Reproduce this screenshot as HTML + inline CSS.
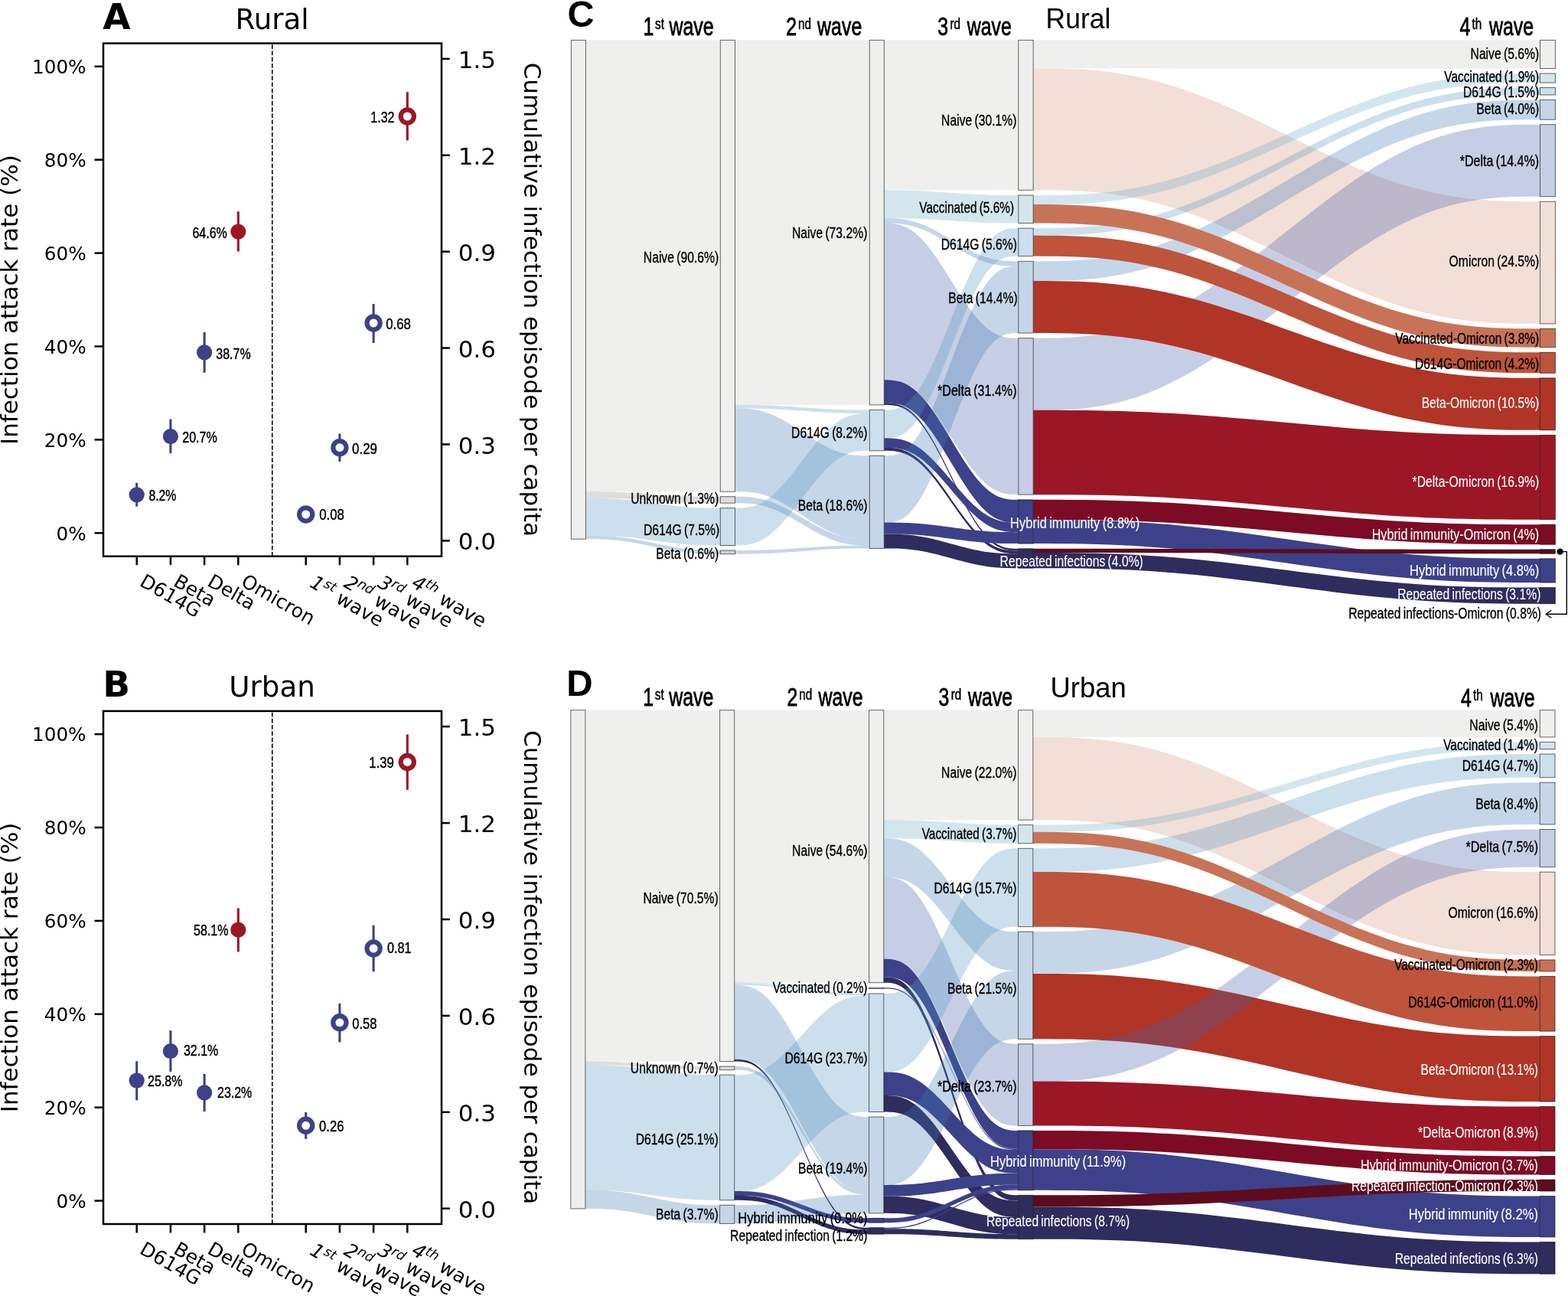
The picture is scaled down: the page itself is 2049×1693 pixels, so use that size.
<!DOCTYPE html>
<html lang="en"><head><meta charset="utf-8"><title>Infection attack rates and immunity flows</title>
<style>
html,body{margin:0;padding:0;background:#fff;}
body{width:2049px;height:1693px;overflow:hidden;}
svg{display:block;font-family:"Liberation Sans", sans-serif;}
.dj{font-family:"DejaVu Sans", "Liberation Sans", sans-serif;}
</style></head><body>
<svg width="2049" height="1693" viewBox="0 0 2049 1693">
<rect width="2049" height="1693" fill="#fff"/>
<g class="dj">
<line x1="355.75" y1="726.7" x2="355.75" y2="56.6" stroke="#000" stroke-width="1.55" stroke-dasharray="5.75,2.43"/>
<line x1="178.7" y1="630.8" x2="178.7" y2="661.7" stroke="#3d4189" stroke-width="3.1"/>
<circle cx="178.7" cy="646.3" r="10.1" fill="#3d4189"/>
<line x1="222.9" y1="547.5" x2="222.9" y2="592.2" stroke="#3d4189" stroke-width="3.1"/>
<circle cx="222.9" cy="570.1" r="10.1" fill="#3d4189"/>
<line x1="267.1" y1="434.0" x2="267.1" y2="486.8" stroke="#3d4189" stroke-width="3.1"/>
<circle cx="267.1" cy="460.4" r="10.1" fill="#3d4189"/>
<line x1="311.3" y1="276.2" x2="311.3" y2="328.5" stroke="#9c1726" stroke-width="3.1"/>
<circle cx="311.3" cy="302.6" r="10.1" fill="#9c1726"/>
<line x1="399.7" y1="668.0" x2="399.7" y2="676.0" stroke="#3d4189" stroke-width="3.1"/>
<circle cx="399.7" cy="672.0" r="8.6" fill="#fff" stroke="#3d4189" stroke-width="6.2"/>
<line x1="443.9" y1="566.5" x2="443.9" y2="603.0" stroke="#3d4189" stroke-width="3.1"/>
<circle cx="443.9" cy="584.7" r="8.6" fill="#fff" stroke="#3d4189" stroke-width="6.2"/>
<line x1="488.1" y1="397.0" x2="488.1" y2="448.1" stroke="#3d4189" stroke-width="3.1"/>
<circle cx="488.1" cy="422.0" r="8.6" fill="#fff" stroke="#3d4189" stroke-width="6.2"/>
<line x1="532.3" y1="120.3" x2="532.3" y2="183.5" stroke="#9c1726" stroke-width="3.1"/>
<circle cx="532.3" cy="152.0" r="8.6" fill="#fff" stroke="#9c1726" stroke-width="6.2"/>
<rect x="135.0" y="56.6" width="442.0" height="670.1" fill="none" stroke="#000" stroke-width="2.5"/>
<g stroke="#000" stroke-width="2.5">
<line x1="123.5" y1="696.3" x2="135.0" y2="696.3"/>
<line x1="123.5" y1="574.4" x2="135.0" y2="574.4"/>
<line x1="123.5" y1="452.5" x2="135.0" y2="452.5"/>
<line x1="123.5" y1="330.6" x2="135.0" y2="330.6"/>
<line x1="123.5" y1="208.7" x2="135.0" y2="208.7"/>
<line x1="123.5" y1="86.8" x2="135.0" y2="86.8"/>
<line x1="577.0" y1="706.4" x2="587.8" y2="706.4"/>
<line x1="577.0" y1="580.5" x2="587.8" y2="580.5"/>
<line x1="577.0" y1="454.6" x2="587.8" y2="454.6"/>
<line x1="577.0" y1="328.7" x2="587.8" y2="328.7"/>
<line x1="577.0" y1="202.8" x2="587.8" y2="202.8"/>
<line x1="577.0" y1="76.9" x2="587.8" y2="76.9"/>
<line x1="178.7" y1="726.7" x2="178.7" y2="738.2"/>
<line x1="222.9" y1="726.7" x2="222.9" y2="738.2"/>
<line x1="267.1" y1="726.7" x2="267.1" y2="738.2"/>
<line x1="311.3" y1="726.7" x2="311.3" y2="738.2"/>
<line x1="399.7" y1="726.7" x2="399.7" y2="738.2"/>
<line x1="443.9" y1="726.7" x2="443.9" y2="738.2"/>
<line x1="488.1" y1="726.7" x2="488.1" y2="738.2"/>
<line x1="532.3" y1="726.7" x2="532.3" y2="738.2"/>
</g>
<text x="112.6" y="705.5" font-size="24.7" text-anchor="end">0%</text>
<text x="112.6" y="583.6" font-size="24.7" text-anchor="end">20%</text>
<text x="112.6" y="461.7" font-size="24.7" text-anchor="end">40%</text>
<text x="112.6" y="339.8" font-size="24.7" text-anchor="end">60%</text>
<text x="112.6" y="217.9" font-size="24.7" text-anchor="end">80%</text>
<text x="112.6" y="96.0" font-size="24.7" text-anchor="end">100%</text>
<text x="598.7" y="718.4" font-size="31">0.0</text>
<text x="598.7" y="592.5" font-size="31">0.3</text>
<text x="598.7" y="466.6" font-size="31">0.6</text>
<text x="598.7" y="340.7" font-size="31">0.9</text>
<text x="598.7" y="214.8" font-size="31">1.2</text>
<text x="598.7" y="88.9" font-size="31">1.5</text>
<text transform="translate(181.0,764.2) rotate(30)" font-size="25.1">D614G</text>
<text transform="translate(225.2,764.2) rotate(30)" font-size="25.1">Beta</text>
<text transform="translate(269.4,764.2) rotate(30)" font-size="25.1">Delta</text>
<text transform="translate(313.6,764.2) rotate(30)" font-size="25.1">Omicron</text>
<text transform="translate(403.6,765.7) rotate(30)" font-size="25.1"><tspan font-style="oblique">1</tspan><tspan font-style="oblique" font-size="17.4" dy="-8.8">st</tspan><tspan dy="9.8"> wave</tspan></text>
<text transform="translate(447.8,765.7) rotate(30)" font-size="25.1"><tspan font-style="oblique">2</tspan><tspan font-style="oblique" font-size="17.4" dy="-8.8">nd</tspan><tspan dy="9.8"> wave</tspan></text>
<text transform="translate(492.0,765.7) rotate(30)" font-size="25.1"><tspan font-style="oblique">3</tspan><tspan font-style="oblique" font-size="17.4" dy="-8.8">rd</tspan><tspan dy="9.8"> wave</tspan></text>
<text transform="translate(536.2,765.7) rotate(30)" font-size="25.1"><tspan font-style="oblique">4</tspan><tspan font-style="oblique" font-size="17.4" dy="-8.8">th</tspan><tspan dy="9.8"> wave</tspan></text>
<text transform="translate(22.5,391.6) rotate(-90)" font-size="31" text-anchor="middle">Infection attack rate (%)</text>
<text transform="translate(685.3,391.3) rotate(90)" font-size="31" text-anchor="middle">Cumulative infection episode per capita</text>
<text x="355.6" y="37.6" font-size="37.2" text-anchor="middle">Rural</text>
<text x="134.3" y="37.6" font-size="47" font-weight="bold">A</text>
</g>
<g class="dj">
<line x1="355.75" y1="1599.0" x2="355.75" y2="928.9" stroke="#000" stroke-width="1.55" stroke-dasharray="5.75,2.43"/>
<line x1="178.7" y1="1386.3" x2="178.7" y2="1437.3" stroke="#3d4189" stroke-width="3.1"/>
<circle cx="178.7" cy="1411.5" r="10.1" fill="#3d4189"/>
<line x1="222.9" y1="1346.2" x2="222.9" y2="1400.0" stroke="#3d4189" stroke-width="3.1"/>
<circle cx="222.9" cy="1373.2" r="10.1" fill="#3d4189"/>
<line x1="267.1" y1="1402.8" x2="267.1" y2="1452.0" stroke="#3d4189" stroke-width="3.1"/>
<circle cx="267.1" cy="1427.4" r="10.1" fill="#3d4189"/>
<line x1="311.3" y1="1186.4" x2="311.3" y2="1243.3" stroke="#9c1726" stroke-width="3.1"/>
<circle cx="311.3" cy="1214.7" r="10.1" fill="#9c1726"/>
<line x1="399.7" y1="1453.0" x2="399.7" y2="1487.8" stroke="#3d4189" stroke-width="3.1"/>
<circle cx="399.7" cy="1470.3" r="8.6" fill="#fff" stroke="#3d4189" stroke-width="6.2"/>
<line x1="443.9" y1="1310.8" x2="443.9" y2="1361.4" stroke="#3d4189" stroke-width="3.1"/>
<circle cx="443.9" cy="1335.8" r="8.6" fill="#fff" stroke="#3d4189" stroke-width="6.2"/>
<line x1="488.1" y1="1208.6" x2="488.1" y2="1269.3" stroke="#3d4189" stroke-width="3.1"/>
<circle cx="488.1" cy="1239.0" r="8.6" fill="#fff" stroke="#3d4189" stroke-width="6.2"/>
<line x1="532.3" y1="959.4" x2="532.3" y2="1031.8" stroke="#9c1726" stroke-width="3.1"/>
<circle cx="532.3" cy="995.4" r="8.6" fill="#fff" stroke="#9c1726" stroke-width="6.2"/>
<rect x="135.0" y="928.9" width="442.0" height="670.1" fill="none" stroke="#000" stroke-width="2.5"/>
<g stroke="#000" stroke-width="2.5">
<line x1="123.5" y1="1568.6" x2="135.0" y2="1568.6"/>
<line x1="123.5" y1="1446.7" x2="135.0" y2="1446.7"/>
<line x1="123.5" y1="1324.8" x2="135.0" y2="1324.8"/>
<line x1="123.5" y1="1202.9" x2="135.0" y2="1202.9"/>
<line x1="123.5" y1="1081.0" x2="135.0" y2="1081.0"/>
<line x1="123.5" y1="959.1" x2="135.0" y2="959.1"/>
<line x1="577.0" y1="1578.7" x2="587.8" y2="1578.7"/>
<line x1="577.0" y1="1452.8" x2="587.8" y2="1452.8"/>
<line x1="577.0" y1="1326.9" x2="587.8" y2="1326.9"/>
<line x1="577.0" y1="1201.0" x2="587.8" y2="1201.0"/>
<line x1="577.0" y1="1075.1" x2="587.8" y2="1075.1"/>
<line x1="577.0" y1="949.1" x2="587.8" y2="949.1"/>
<line x1="178.7" y1="1599.0" x2="178.7" y2="1610.5"/>
<line x1="222.9" y1="1599.0" x2="222.9" y2="1610.5"/>
<line x1="267.1" y1="1599.0" x2="267.1" y2="1610.5"/>
<line x1="311.3" y1="1599.0" x2="311.3" y2="1610.5"/>
<line x1="399.7" y1="1599.0" x2="399.7" y2="1610.5"/>
<line x1="443.9" y1="1599.0" x2="443.9" y2="1610.5"/>
<line x1="488.1" y1="1599.0" x2="488.1" y2="1610.5"/>
<line x1="532.3" y1="1599.0" x2="532.3" y2="1610.5"/>
</g>
<text x="112.6" y="1577.8" font-size="24.7" text-anchor="end">0%</text>
<text x="112.6" y="1455.9" font-size="24.7" text-anchor="end">20%</text>
<text x="112.6" y="1334.0" font-size="24.7" text-anchor="end">40%</text>
<text x="112.6" y="1212.1" font-size="24.7" text-anchor="end">60%</text>
<text x="112.6" y="1090.2" font-size="24.7" text-anchor="end">80%</text>
<text x="112.6" y="968.3" font-size="24.7" text-anchor="end">100%</text>
<text x="598.7" y="1590.7" font-size="31">0.0</text>
<text x="598.7" y="1464.8" font-size="31">0.3</text>
<text x="598.7" y="1338.9" font-size="31">0.6</text>
<text x="598.7" y="1213.0" font-size="31">0.9</text>
<text x="598.7" y="1087.1" font-size="31">1.2</text>
<text x="598.7" y="961.1" font-size="31">1.5</text>
<text transform="translate(181.0,1636.5) rotate(30)" font-size="25.1">D614G</text>
<text transform="translate(225.2,1636.5) rotate(30)" font-size="25.1">Beta</text>
<text transform="translate(269.4,1636.5) rotate(30)" font-size="25.1">Delta</text>
<text transform="translate(313.6,1636.5) rotate(30)" font-size="25.1">Omicron</text>
<text transform="translate(403.6,1638.0) rotate(30)" font-size="25.1"><tspan font-style="oblique">1</tspan><tspan font-style="oblique" font-size="17.4" dy="-8.8">st</tspan><tspan dy="9.8"> wave</tspan></text>
<text transform="translate(447.8,1638.0) rotate(30)" font-size="25.1"><tspan font-style="oblique">2</tspan><tspan font-style="oblique" font-size="17.4" dy="-8.8">nd</tspan><tspan dy="9.8"> wave</tspan></text>
<text transform="translate(492.0,1638.0) rotate(30)" font-size="25.1"><tspan font-style="oblique">3</tspan><tspan font-style="oblique" font-size="17.4" dy="-8.8">rd</tspan><tspan dy="9.8"> wave</tspan></text>
<text transform="translate(536.2,1638.0) rotate(30)" font-size="25.1"><tspan font-style="oblique">4</tspan><tspan font-style="oblique" font-size="17.4" dy="-8.8">th</tspan><tspan dy="9.8"> wave</tspan></text>
<text transform="translate(22.5,1263.9) rotate(-90)" font-size="31" text-anchor="middle">Infection attack rate (%)</text>
<text transform="translate(685.3,1263.6) rotate(90)" font-size="31" text-anchor="middle">Cumulative infection episode per capita</text>
<text x="355.6" y="909.9" font-size="37.2" text-anchor="middle">Urban</text>
<text x="134.3" y="909.9" font-size="47" font-weight="bold">B</text>
</g>
<text transform="translate(194.40,654.30) scale(0.790,1)" font-size="20.00" text-anchor="start" stroke="#000" stroke-width="0.45">8.2%</text>
<text transform="translate(238.20,577.90) scale(0.804,1)" font-size="20.00" text-anchor="start" stroke="#000" stroke-width="0.45">20.7%</text>
<text transform="translate(282.30,468.90) scale(0.799,1)" font-size="20.00" text-anchor="start" stroke="#000" stroke-width="0.45">38.7%</text>
<text transform="translate(296.80,310.70) scale(0.801,1)" font-size="20.00" text-anchor="end" stroke="#000" stroke-width="0.45">64.6%</text>
<text transform="translate(417.20,679.30) scale(0.840,1)" font-size="20.00" text-anchor="start" stroke="#000" stroke-width="0.45">0.08</text>
<text transform="translate(460.10,592.90) scale(0.845,1)" font-size="20.00" text-anchor="start" stroke="#000" stroke-width="0.45">0.29</text>
<text transform="translate(504.20,429.80) scale(0.843,1)" font-size="20.00" text-anchor="start" stroke="#000" stroke-width="0.45">0.68</text>
<text transform="translate(515.50,160.10) scale(0.804,1)" font-size="20.00" text-anchor="end" stroke="#000" stroke-width="0.45">1.32</text>
<text transform="translate(193.10,1419.30) scale(0.802,1)" font-size="20.00" text-anchor="start" stroke="#000" stroke-width="0.45">25.8%</text>
<text transform="translate(239.90,1378.70) scale(0.802,1)" font-size="20.00" text-anchor="start" stroke="#000" stroke-width="0.45">32.1%</text>
<text transform="translate(284.10,1433.60) scale(0.797,1)" font-size="20.00" text-anchor="start" stroke="#000" stroke-width="0.45">23.2%</text>
<text transform="translate(298.50,1221.50) scale(0.801,1)" font-size="20.00" text-anchor="end" stroke="#000" stroke-width="0.45">58.1%</text>
<text transform="translate(417.10,1478.40) scale(0.830,1)" font-size="20.00" text-anchor="start" stroke="#000" stroke-width="0.45">0.26</text>
<text transform="translate(460.20,1344.30) scale(0.830,1)" font-size="20.00" text-anchor="start" stroke="#000" stroke-width="0.45">0.58</text>
<text transform="translate(505.90,1245.10) scale(0.812,1)" font-size="20.00" text-anchor="start" stroke="#000" stroke-width="0.45">0.81</text>
<text transform="translate(514.90,1002.80) scale(0.838,1)" font-size="20.00" text-anchor="end" stroke="#000" stroke-width="0.45">1.39</text>
<g>
<path d="M765.40,52.40 L769.80,52.40 L774.19,52.40 L778.59,52.40 L782.99,52.40 L787.39,52.40 L791.78,52.40 L796.18,52.40 L800.58,52.40 L804.98,52.40 L809.38,52.40 L813.77,52.40 L818.17,52.40 L822.57,52.40 L826.96,52.40 L831.36,52.40 L835.76,52.40 L840.16,52.40 L844.55,52.40 L848.95,52.40 L853.35,52.40 L857.75,52.40 L862.14,52.40 L866.54,52.40 L870.94,52.40 L875.34,52.40 L879.74,52.40 L884.13,52.40 L888.53,52.40 L892.93,52.40 L897.32,52.40 L901.72,52.40 L906.12,52.40 L910.52,52.40 L914.91,52.40 L919.31,52.40 L923.71,52.40 L928.11,52.40 L932.50,52.40 L936.90,52.40 L941.30,52.40 L941.30,642.21 L936.90,642.21 L932.50,642.21 L928.11,642.21 L923.71,642.21 L919.31,642.21 L914.91,642.21 L910.52,642.21 L906.12,642.21 L901.72,642.21 L897.32,642.21 L892.93,642.21 L888.53,642.21 L884.13,642.21 L879.74,642.21 L875.34,642.21 L870.94,642.21 L866.54,642.21 L862.14,642.21 L857.75,642.21 L853.35,642.21 L848.95,642.21 L844.55,642.21 L840.16,642.21 L835.76,642.21 L831.36,642.21 L826.96,642.21 L822.57,642.21 L818.17,642.21 L813.77,642.21 L809.38,642.21 L804.98,642.21 L800.58,642.21 L796.18,642.21 L791.78,642.21 L787.39,642.21 L782.99,642.21 L778.59,642.21 L774.19,642.21 L769.80,642.21 L765.40,642.21 Z" fill="#cacac3" fill-opacity="0.30"/>
<path d="M765.40,642.21 L769.80,642.21 L774.19,642.21 L778.59,642.23 L782.99,642.26 L787.39,642.31 L791.78,642.38 L796.18,642.47 L800.58,642.58 L804.98,642.72 L809.38,642.88 L813.77,643.06 L818.17,643.27 L822.57,643.49 L826.96,643.73 L831.36,643.99 L835.76,644.27 L840.16,644.56 L844.55,644.85 L848.95,645.15 L853.35,645.46 L857.75,645.76 L862.14,646.06 L866.54,646.36 L870.94,646.64 L875.34,646.92 L879.74,647.18 L884.13,647.42 L888.53,647.65 L892.93,647.85 L897.32,648.03 L901.72,648.19 L906.12,648.33 L910.52,648.44 L914.91,648.53 L919.31,648.60 L923.71,648.65 L928.11,648.68 L932.50,648.70 L936.90,648.71 L941.30,648.71 L941.30,657.17 L936.90,657.17 L932.50,657.16 L928.11,657.14 L923.71,657.11 L919.31,657.06 L914.91,657.00 L910.52,656.91 L906.12,656.79 L901.72,656.66 L897.32,656.50 L892.93,656.31 L888.53,656.11 L884.13,655.88 L879.74,655.64 L875.34,655.38 L870.94,655.11 L866.54,654.82 L862.14,654.52 L857.75,654.22 L853.35,653.92 L848.95,653.61 L844.55,653.31 L840.16,653.02 L835.76,652.73 L831.36,652.46 L826.96,652.20 L822.57,651.95 L818.17,651.73 L813.77,651.52 L809.38,651.34 L804.98,651.18 L800.58,651.05 L796.18,650.93 L791.78,650.84 L787.39,650.77 L782.99,650.72 L778.59,650.69 L774.19,650.68 L769.80,650.67 L765.40,650.67 Z" fill="#8e8e8e" fill-opacity="0.30"/>
<path d="M765.40,650.67 L769.80,650.67 L774.19,650.68 L778.59,650.72 L782.99,650.78 L787.39,650.88 L791.78,651.01 L796.18,651.20 L800.58,651.42 L804.98,651.69 L809.38,652.01 L813.77,652.38 L818.17,652.79 L822.57,653.24 L826.96,653.73 L831.36,654.25 L835.76,654.80 L840.16,655.37 L844.55,655.96 L848.95,656.56 L853.35,657.17 L857.75,657.78 L862.14,658.38 L866.54,658.97 L870.94,659.54 L875.34,660.09 L879.74,660.61 L884.13,661.10 L888.53,661.55 L892.93,661.96 L897.32,662.32 L901.72,662.64 L906.12,662.92 L910.52,663.14 L914.91,663.32 L919.31,663.46 L923.71,663.56 L928.11,663.62 L932.50,663.65 L936.90,663.67 L941.30,663.67 L941.30,712.49 L936.90,712.49 L932.50,712.48 L928.11,712.45 L923.71,712.38 L919.31,712.29 L914.91,712.15 L910.52,711.97 L906.12,711.74 L901.72,711.47 L897.32,711.15 L892.93,710.78 L888.53,710.37 L884.13,709.92 L879.74,709.44 L875.34,708.92 L870.94,708.37 L866.54,707.79 L862.14,707.20 L857.75,706.60 L853.35,705.99 L848.95,705.39 L844.55,704.78 L840.16,704.19 L835.76,703.62 L831.36,703.07 L826.96,702.55 L822.57,702.06 L818.17,701.61 L813.77,701.21 L809.38,700.84 L804.98,700.52 L800.58,700.25 L796.18,700.02 L791.78,699.84 L787.39,699.70 L782.99,699.61 L778.59,699.54 L774.19,699.51 L769.80,699.50 L765.40,699.49 Z" fill="#5594c0" fill-opacity="0.30"/>
<path d="M765.40,699.49 L769.80,699.50 L774.19,699.52 L778.59,699.57 L782.99,699.66 L787.39,699.81 L791.78,700.01 L796.18,700.28 L800.58,700.62 L804.98,701.03 L809.38,701.51 L813.77,702.06 L818.17,702.67 L822.57,703.35 L826.96,704.08 L831.36,704.86 L835.76,705.68 L840.16,706.54 L844.55,707.43 L848.95,708.33 L853.35,709.24 L857.75,710.16 L862.14,711.06 L866.54,711.95 L870.94,712.80 L875.34,713.63 L879.74,714.41 L884.13,715.14 L888.53,715.81 L892.93,716.43 L897.32,716.98 L901.72,717.46 L906.12,717.86 L910.52,718.20 L914.91,718.48 L919.31,718.68 L923.71,718.83 L928.11,718.92 L932.50,718.97 L936.90,718.99 L941.30,718.99 L941.30,723.68 L936.90,723.68 L932.50,723.66 L928.11,723.61 L923.71,723.51 L919.31,723.37 L914.91,723.16 L910.52,722.89 L906.12,722.55 L901.72,722.14 L897.32,721.66 L892.93,721.11 L888.53,720.50 L884.13,719.83 L879.74,719.10 L875.34,718.31 L870.94,717.49 L866.54,716.63 L862.14,715.75 L857.75,714.84 L853.35,713.93 L848.95,713.02 L844.55,712.12 L840.16,711.23 L835.76,710.37 L831.36,709.55 L826.96,708.77 L822.57,708.04 L818.17,707.36 L813.77,706.75 L809.38,706.20 L804.98,705.72 L800.58,705.31 L796.18,704.97 L791.78,704.70 L787.39,704.49 L782.99,704.35 L778.59,704.25 L774.19,704.20 L769.80,704.18 L765.40,704.18 Z" fill="#3e76b2" fill-opacity="0.30"/>
<path d="M960.50,52.40 L964.89,52.40 L969.29,52.40 L973.68,52.40 L978.08,52.40 L982.48,52.40 L986.87,52.40 L991.26,52.40 L995.66,52.40 L1000.05,52.40 L1004.45,52.40 L1008.85,52.40 L1013.24,52.40 L1017.63,52.40 L1022.03,52.40 L1026.42,52.40 L1030.82,52.40 L1035.21,52.40 L1039.61,52.40 L1044.00,52.40 L1048.40,52.40 L1052.80,52.40 L1057.19,52.40 L1061.59,52.40 L1065.98,52.40 L1070.38,52.40 L1074.77,52.40 L1079.16,52.40 L1083.56,52.40 L1087.95,52.40 L1092.35,52.40 L1096.74,52.40 L1101.14,52.40 L1105.53,52.40 L1109.93,52.40 L1114.33,52.40 L1118.72,52.40 L1123.12,52.40 L1127.51,52.40 L1131.90,52.40 L1136.30,52.40 L1136.30,528.93 L1131.90,528.93 L1127.51,528.93 L1123.12,528.93 L1118.72,528.93 L1114.33,528.93 L1109.93,528.93 L1105.53,528.93 L1101.14,528.93 L1096.74,528.93 L1092.35,528.93 L1087.95,528.93 L1083.56,528.93 L1079.16,528.93 L1074.77,528.93 L1070.38,528.93 L1065.98,528.93 L1061.59,528.93 L1057.19,528.93 L1052.80,528.93 L1048.40,528.93 L1044.00,528.93 L1039.61,528.93 L1035.21,528.93 L1030.82,528.93 L1026.42,528.93 L1022.03,528.93 L1017.63,528.93 L1013.24,528.93 L1008.85,528.93 L1004.45,528.93 L1000.05,528.93 L995.66,528.93 L991.26,528.93 L986.87,528.93 L982.48,528.93 L978.08,528.93 L973.68,528.93 L969.29,528.93 L964.89,528.93 L960.50,528.93 Z" fill="#cacac3" fill-opacity="0.30"/>
<path d="M960.50,528.93 L964.89,528.93 L969.29,528.94 L973.68,528.96 L978.08,528.99 L982.48,529.04 L986.87,529.10 L991.26,529.20 L995.66,529.31 L1000.05,529.44 L1004.45,529.60 L1008.85,529.79 L1013.24,529.99 L1017.63,530.22 L1022.03,530.46 L1026.42,530.72 L1030.82,531.00 L1035.21,531.28 L1039.61,531.58 L1044.00,531.88 L1048.40,532.18 L1052.80,532.49 L1057.19,532.79 L1061.59,533.08 L1065.98,533.37 L1070.38,533.64 L1074.77,533.90 L1079.16,534.15 L1083.56,534.37 L1087.95,534.58 L1092.35,534.76 L1096.74,534.92 L1101.14,535.06 L1105.53,535.17 L1109.93,535.26 L1114.33,535.33 L1118.72,535.38 L1123.12,535.41 L1127.51,535.42 L1131.90,535.43 L1136.30,535.43 L1136.30,539.99 L1131.90,539.99 L1127.51,539.98 L1123.12,539.96 L1118.72,539.93 L1114.33,539.88 L1109.93,539.82 L1105.53,539.73 L1101.14,539.61 L1096.74,539.48 L1092.35,539.32 L1087.95,539.13 L1083.56,538.93 L1079.16,538.70 L1074.77,538.46 L1070.38,538.20 L1065.98,537.93 L1061.59,537.64 L1057.19,537.34 L1052.80,537.04 L1048.40,536.74 L1044.00,536.43 L1039.61,536.13 L1035.21,535.84 L1030.82,535.55 L1026.42,535.28 L1022.03,535.02 L1017.63,534.77 L1013.24,534.55 L1008.85,534.34 L1004.45,534.16 L1000.05,534.00 L995.66,533.87 L991.26,533.75 L986.87,533.66 L982.48,533.59 L978.08,533.54 L973.68,533.51 L969.29,533.50 L964.89,533.49 L960.50,533.49 Z" fill="#5594c0" fill-opacity="0.30"/>
<path d="M960.50,533.49 L964.89,533.50 L969.29,533.56 L973.68,533.72 L978.08,534.02 L982.48,534.48 L986.87,535.13 L991.26,535.99 L995.66,537.07 L1000.05,538.37 L1004.45,539.89 L1008.85,541.63 L1013.24,543.57 L1017.63,545.71 L1022.03,548.03 L1026.42,550.50 L1030.82,553.11 L1035.21,555.84 L1039.61,558.64 L1044.00,561.51 L1048.40,564.40 L1052.80,567.29 L1057.19,570.16 L1061.59,572.97 L1065.98,575.69 L1070.38,578.30 L1074.77,580.77 L1079.16,583.09 L1083.56,585.23 L1087.95,587.18 L1092.35,588.91 L1096.74,590.43 L1101.14,591.73 L1105.53,592.81 L1109.93,593.67 L1114.33,594.32 L1118.72,594.78 L1123.12,595.08 L1127.51,595.24 L1131.90,595.30 L1136.30,595.31 L1136.30,704.03 L1131.90,704.02 L1127.51,703.96 L1123.12,703.80 L1118.72,703.50 L1114.33,703.04 L1109.93,702.39 L1105.53,701.53 L1101.14,700.45 L1096.74,699.15 L1092.35,697.63 L1087.95,695.89 L1083.56,693.95 L1079.16,691.81 L1074.77,689.49 L1070.38,687.02 L1065.98,684.41 L1061.59,681.68 L1057.19,678.88 L1052.80,676.01 L1048.40,673.12 L1044.00,670.23 L1039.61,667.36 L1035.21,664.55 L1030.82,661.83 L1026.42,659.22 L1022.03,656.75 L1017.63,654.43 L1013.24,652.29 L1008.85,650.34 L1004.45,648.61 L1000.05,647.09 L995.66,645.79 L991.26,644.71 L986.87,643.85 L982.48,643.20 L978.08,642.74 L973.68,642.44 L969.29,642.28 L964.89,642.22 L960.50,642.21 Z" fill="#3e76b2" fill-opacity="0.30"/>
<path d="M960.50,648.71 L964.89,648.71 L969.29,648.77 L973.68,648.91 L978.08,649.18 L982.48,649.59 L986.87,650.18 L991.26,650.95 L995.66,651.91 L1000.05,653.07 L1004.45,654.43 L1008.85,655.99 L1013.24,657.73 L1017.63,659.64 L1022.03,661.72 L1026.42,663.93 L1030.82,666.27 L1035.21,668.70 L1039.61,671.22 L1044.00,673.78 L1048.40,676.37 L1052.80,678.96 L1057.19,681.52 L1061.59,684.03 L1065.98,686.47 L1070.38,688.81 L1074.77,691.02 L1079.16,693.09 L1083.56,695.01 L1087.95,696.75 L1092.35,698.30 L1096.74,699.66 L1101.14,700.83 L1105.53,701.79 L1109.93,702.56 L1114.33,703.14 L1118.72,703.56 L1123.12,703.82 L1127.51,703.97 L1131.90,704.02 L1136.30,704.03 L1136.30,712.49 L1131.90,712.49 L1127.51,712.43 L1123.12,712.29 L1118.72,712.02 L1114.33,711.61 L1109.93,711.02 L1105.53,710.25 L1101.14,709.29 L1096.74,708.13 L1092.35,706.77 L1087.95,705.21 L1083.56,703.47 L1079.16,701.56 L1074.77,699.48 L1070.38,697.27 L1065.98,694.93 L1061.59,692.50 L1057.19,689.98 L1052.80,687.42 L1048.40,684.83 L1044.00,682.24 L1039.61,679.68 L1035.21,677.17 L1030.82,674.73 L1026.42,672.39 L1022.03,670.18 L1017.63,668.11 L1013.24,666.19 L1008.85,664.45 L1004.45,662.90 L1000.05,661.54 L995.66,660.37 L991.26,659.41 L986.87,658.64 L982.48,658.06 L978.08,657.64 L973.68,657.38 L969.29,657.23 L964.89,657.18 L960.50,657.17 Z" fill="#3e76b2" fill-opacity="0.30"/>
<path d="M960.50,663.67 L964.89,663.65 L969.29,663.53 L973.68,663.20 L978.08,662.61 L982.48,661.68 L986.87,660.38 L991.26,658.66 L995.66,656.51 L1000.05,653.91 L1004.45,650.87 L1008.85,647.39 L1013.24,643.50 L1017.63,639.22 L1022.03,634.58 L1026.42,629.63 L1030.82,624.41 L1035.21,618.96 L1039.61,613.35 L1044.00,607.62 L1048.40,601.83 L1052.80,596.04 L1057.19,590.31 L1061.59,584.70 L1065.98,579.25 L1070.38,574.03 L1074.77,569.07 L1079.16,564.44 L1083.56,560.16 L1087.95,556.27 L1092.35,552.79 L1096.74,549.75 L1101.14,547.15 L1105.53,545.00 L1109.93,543.28 L1114.33,541.97 L1118.72,541.05 L1123.12,540.45 L1127.51,540.13 L1131.90,540.01 L1136.30,539.99 L1136.30,588.81 L1131.90,588.83 L1127.51,588.96 L1123.12,589.28 L1118.72,589.87 L1114.33,590.80 L1109.93,592.11 L1105.53,593.82 L1101.14,595.98 L1096.74,598.58 L1092.35,601.62 L1087.95,605.09 L1083.56,608.98 L1079.16,613.26 L1074.77,617.90 L1070.38,622.85 L1065.98,628.07 L1061.59,633.52 L1057.19,639.14 L1052.80,644.87 L1048.40,650.65 L1044.00,656.44 L1039.61,662.17 L1035.21,667.79 L1030.82,673.23 L1026.42,678.46 L1022.03,683.41 L1017.63,688.04 L1013.24,692.32 L1008.85,696.22 L1004.45,699.69 L1000.05,702.73 L995.66,705.33 L991.26,707.48 L986.87,709.20 L982.48,710.51 L978.08,711.44 L973.68,712.03 L969.29,712.35 L964.89,712.48 L960.50,712.49 Z" fill="#5594c0" fill-opacity="0.30"/>
<path d="M960.50,718.99 L964.89,718.99 L969.29,718.99 L973.68,718.97 L978.08,718.94 L982.48,718.89 L986.87,718.82 L991.26,718.73 L995.66,718.62 L1000.05,718.48 L1004.45,718.32 L1008.85,718.14 L1013.24,717.93 L1017.63,717.71 L1022.03,717.47 L1026.42,717.21 L1030.82,716.93 L1035.21,716.64 L1039.61,716.35 L1044.00,716.05 L1048.40,715.74 L1052.80,715.44 L1057.19,715.14 L1061.59,714.84 L1065.98,714.56 L1070.38,714.28 L1074.77,714.02 L1079.16,713.78 L1083.56,713.55 L1087.95,713.35 L1092.35,713.17 L1096.74,713.01 L1101.14,712.87 L1105.53,712.76 L1109.93,712.67 L1114.33,712.60 L1118.72,712.55 L1123.12,712.52 L1127.51,712.50 L1131.90,712.49 L1136.30,712.49 L1136.30,716.40 L1131.90,716.40 L1127.51,716.41 L1123.12,716.43 L1118.72,716.46 L1114.33,716.52 L1109.93,716.59 L1105.53,716.69 L1101.14,716.82 L1096.74,716.97 L1092.35,717.15 L1087.95,717.36 L1083.56,717.59 L1079.16,717.84 L1074.77,718.11 L1070.38,718.40 L1065.98,718.71 L1061.59,719.03 L1057.19,719.36 L1052.80,719.70 L1048.40,720.04 L1044.00,720.38 L1039.61,720.72 L1035.21,721.05 L1030.82,721.37 L1026.42,721.68 L1022.03,721.97 L1017.63,722.24 L1013.24,722.49 L1008.85,722.72 L1004.45,722.93 L1000.05,723.11 L995.66,723.26 L991.26,723.39 L986.87,723.49 L982.48,723.56 L978.08,723.62 L973.68,723.65 L969.29,723.67 L964.89,723.68 L960.50,723.68 Z" fill="#3e76b2" fill-opacity="0.30"/>
<path d="M1155.30,526.32 L1159.69,526.35 L1164.08,526.55 L1168.46,527.04 L1172.85,527.95 L1177.24,529.38 L1181.62,531.39 L1186.01,534.04 L1190.40,537.36 L1194.79,541.36 L1199.17,546.04 L1203.56,551.39 L1207.95,557.39 L1212.34,563.98 L1216.72,571.12 L1221.11,578.74 L1225.50,586.79 L1229.89,595.17 L1234.27,603.82 L1238.66,612.64 L1243.05,621.56 L1247.44,630.47 L1251.83,639.29 L1256.21,647.94 L1260.60,656.33 L1264.99,664.37 L1269.38,672.00 L1273.76,679.14 L1278.15,685.73 L1282.54,691.72 L1286.92,697.07 L1291.31,701.76 L1295.70,705.76 L1300.09,709.07 L1304.47,711.72 L1308.86,713.73 L1313.25,715.16 L1317.64,716.07 L1322.02,716.57 L1326.41,716.76 L1330.80,716.79 L1330.80,719.39 L1326.41,719.36 L1322.02,719.17 L1317.64,718.68 L1313.25,717.76 L1308.86,716.34 L1304.47,714.32 L1300.09,711.68 L1295.70,708.36 L1291.31,704.36 L1286.92,699.68 L1282.54,694.32 L1278.15,688.33 L1273.76,681.74 L1269.38,674.60 L1264.99,666.98 L1260.60,658.93 L1256.21,650.55 L1251.83,641.90 L1247.44,633.08 L1243.05,624.16 L1238.66,615.25 L1234.27,606.43 L1229.89,597.78 L1225.50,589.39 L1221.11,581.35 L1216.72,573.72 L1212.34,566.58 L1207.95,559.99 L1203.56,554.00 L1199.17,548.65 L1194.79,543.96 L1190.40,539.96 L1186.01,536.65 L1181.62,534.00 L1177.24,531.99 L1172.85,530.56 L1168.46,529.65 L1164.08,529.15 L1159.69,528.96 L1155.30,528.93 Z" fill="#2f2c5e"/>
<path d="M1155.30,584.86 L1159.69,584.88 L1164.08,585.02 L1168.46,585.37 L1172.85,586.01 L1177.24,587.02 L1181.62,588.44 L1186.01,590.31 L1190.40,592.65 L1194.79,595.48 L1199.17,598.79 L1203.56,602.57 L1207.95,606.80 L1212.34,611.46 L1216.72,616.50 L1221.11,621.88 L1225.50,627.57 L1229.89,633.49 L1234.27,639.60 L1238.66,645.83 L1243.05,652.13 L1247.44,658.42 L1251.83,664.66 L1256.21,670.76 L1260.60,676.69 L1264.99,682.37 L1269.38,687.75 L1273.76,692.80 L1278.15,697.45 L1282.54,701.69 L1286.92,705.47 L1291.31,708.78 L1295.70,711.60 L1300.09,713.94 L1304.47,715.81 L1308.86,717.23 L1313.25,718.24 L1317.64,718.89 L1322.02,719.24 L1326.41,719.37 L1330.80,719.39 L1330.80,723.30 L1326.41,723.28 L1322.02,723.14 L1317.64,722.79 L1313.25,722.15 L1308.86,721.14 L1304.47,719.72 L1300.09,717.85 L1295.70,715.51 L1291.31,712.69 L1286.92,709.38 L1282.54,705.60 L1278.15,701.37 L1273.76,696.71 L1269.38,691.67 L1264.99,686.29 L1260.60,680.61 L1256.21,674.69 L1251.83,668.58 L1247.44,662.35 L1243.05,656.06 L1238.66,649.76 L1234.27,643.53 L1229.89,637.43 L1225.50,631.50 L1221.11,625.83 L1216.72,620.44 L1212.34,615.40 L1207.95,610.75 L1203.56,606.51 L1199.17,602.74 L1194.79,599.43 L1190.40,596.60 L1186.01,594.26 L1181.62,592.39 L1177.24,590.97 L1172.85,589.97 L1168.46,589.32 L1164.08,588.97 L1159.69,588.83 L1155.30,588.81 Z" fill="#2f2c5e"/>
<path d="M1155.30,697.52 L1159.69,697.52 L1164.08,697.55 L1168.46,697.62 L1172.85,697.74 L1177.24,697.93 L1181.62,698.21 L1186.01,698.57 L1190.40,699.01 L1194.79,699.56 L1199.17,700.19 L1203.56,700.91 L1207.95,701.72 L1212.34,702.62 L1216.72,703.58 L1221.11,704.62 L1225.50,705.70 L1229.89,706.84 L1234.27,708.01 L1238.66,709.20 L1243.05,710.41 L1247.44,711.62 L1251.83,712.81 L1256.21,713.98 L1260.60,715.12 L1264.99,716.20 L1269.38,717.24 L1273.76,718.20 L1278.15,719.10 L1282.54,719.91 L1286.92,720.63 L1291.31,721.26 L1295.70,721.81 L1300.09,722.25 L1304.47,722.61 L1308.86,722.89 L1313.25,723.08 L1317.64,723.20 L1322.02,723.27 L1326.41,723.30 L1330.80,723.30 L1330.80,742.18 L1326.41,742.17 L1322.02,742.15 L1317.64,742.08 L1313.25,741.96 L1308.86,741.76 L1304.47,741.49 L1300.09,741.13 L1295.70,740.68 L1291.31,740.14 L1286.92,739.51 L1282.54,738.79 L1278.15,737.97 L1273.76,737.08 L1269.38,736.12 L1264.99,735.08 L1260.60,734.00 L1256.21,732.86 L1251.83,731.69 L1247.44,730.50 L1243.05,729.29 L1238.66,728.08 L1234.27,726.89 L1229.89,725.72 L1225.50,724.58 L1221.11,723.49 L1216.72,722.46 L1212.34,721.50 L1207.95,720.60 L1203.56,719.79 L1199.17,719.07 L1194.79,718.43 L1190.40,717.89 L1186.01,717.44 L1181.62,717.09 L1177.24,716.81 L1172.85,716.62 L1168.46,716.50 L1164.08,716.43 L1159.69,716.40 L1155.30,716.40 Z" fill="#2f2c5e"/>
<path d="M1155.30,496.34 L1159.69,496.36 L1164.08,496.52 L1168.46,496.93 L1172.85,497.68 L1177.24,498.85 L1181.62,500.50 L1186.01,502.68 L1190.40,505.40 L1194.79,508.69 L1199.17,512.54 L1203.56,516.93 L1207.95,521.86 L1212.34,527.27 L1216.72,533.14 L1221.11,539.40 L1225.50,546.01 L1229.89,552.90 L1234.27,560.01 L1238.66,567.26 L1243.05,574.58 L1247.44,581.90 L1251.83,589.15 L1256.21,596.26 L1260.60,603.15 L1264.99,609.76 L1269.38,616.02 L1273.76,621.89 L1278.15,627.30 L1282.54,632.22 L1286.92,636.62 L1291.31,640.47 L1295.70,643.76 L1300.09,646.48 L1304.47,648.66 L1308.86,650.31 L1313.25,651.48 L1317.64,652.23 L1322.02,652.64 L1326.41,652.80 L1330.80,652.82 L1330.80,682.77 L1326.41,682.74 L1322.02,682.59 L1317.64,682.18 L1313.25,681.43 L1308.86,680.26 L1304.47,678.60 L1300.09,676.43 L1295.70,673.71 L1291.31,670.42 L1286.92,666.57 L1282.54,662.18 L1278.15,657.25 L1273.76,651.84 L1269.38,645.98 L1264.99,639.71 L1260.60,633.11 L1256.21,626.22 L1251.83,619.11 L1247.44,611.87 L1243.05,604.55 L1238.66,597.22 L1234.27,589.98 L1229.89,582.87 L1225.50,575.99 L1221.11,569.38 L1216.72,563.11 L1212.34,557.25 L1207.95,551.84 L1203.56,546.92 L1199.17,542.52 L1194.79,538.67 L1190.40,535.39 L1186.01,532.66 L1181.62,530.49 L1177.24,528.84 L1172.85,527.66 L1168.46,526.91 L1164.08,526.51 L1159.69,526.35 L1155.30,526.32 Z" fill="#3d4189"/>
<path d="M1155.30,572.34 L1159.69,572.35 L1164.08,572.47 L1168.46,572.75 L1172.85,573.28 L1177.24,574.11 L1181.62,575.28 L1186.01,576.81 L1190.40,578.73 L1194.79,581.05 L1199.17,583.77 L1203.56,586.87 L1207.95,590.35 L1212.34,594.17 L1216.72,598.31 L1221.11,602.73 L1225.50,607.39 L1229.89,612.25 L1234.27,617.27 L1238.66,622.38 L1243.05,627.55 L1247.44,632.72 L1251.83,637.84 L1256.21,642.85 L1260.60,647.71 L1264.99,652.38 L1269.38,656.80 L1273.76,660.94 L1278.15,664.76 L1282.54,668.23 L1286.92,671.34 L1291.31,674.05 L1295.70,676.37 L1300.09,678.29 L1304.47,679.83 L1308.86,680.99 L1313.25,681.82 L1317.64,682.35 L1322.02,682.64 L1326.41,682.75 L1330.80,682.77 L1330.80,695.14 L1326.41,695.12 L1322.02,695.01 L1317.64,694.72 L1313.25,694.19 L1308.86,693.37 L1304.47,692.20 L1300.09,690.67 L1295.70,688.75 L1291.31,686.43 L1286.92,683.72 L1282.54,680.62 L1278.15,677.15 L1273.76,673.34 L1269.38,669.20 L1264.99,664.79 L1260.60,660.13 L1256.21,655.27 L1251.83,650.27 L1247.44,645.16 L1243.05,640.00 L1238.66,634.84 L1234.27,629.73 L1229.89,624.72 L1225.50,619.87 L1221.11,615.21 L1216.72,610.79 L1212.34,606.66 L1207.95,602.84 L1203.56,599.37 L1199.17,596.28 L1194.79,593.56 L1190.40,591.25 L1186.01,589.33 L1181.62,587.79 L1177.24,586.63 L1172.85,585.80 L1168.46,585.27 L1164.08,584.99 L1159.69,584.88 L1155.30,584.86 Z" fill="#3d4189"/>
<path d="M1155.30,682.55 L1159.69,682.55 L1164.08,682.56 L1168.46,682.60 L1172.85,682.66 L1177.24,682.75 L1181.62,682.88 L1186.01,683.06 L1190.40,683.28 L1194.79,683.54 L1199.17,683.85 L1203.56,684.20 L1207.95,684.60 L1212.34,685.04 L1216.72,685.51 L1221.11,686.01 L1225.50,686.54 L1229.89,687.10 L1234.27,687.67 L1238.66,688.25 L1243.05,688.84 L1247.44,689.43 L1251.83,690.01 L1256.21,690.59 L1260.60,691.14 L1264.99,691.67 L1269.38,692.18 L1273.76,692.65 L1278.15,693.08 L1282.54,693.48 L1286.92,693.83 L1291.31,694.14 L1295.70,694.41 L1300.09,694.63 L1304.47,694.80 L1308.86,694.93 L1313.25,695.03 L1317.64,695.09 L1322.02,695.12 L1326.41,695.13 L1330.80,695.14 L1330.80,710.11 L1326.41,710.11 L1322.02,710.09 L1317.64,710.06 L1313.25,710.00 L1308.86,709.91 L1304.47,709.77 L1300.09,709.60 L1295.70,709.38 L1291.31,709.12 L1286.92,708.81 L1282.54,708.45 L1278.15,708.06 L1273.76,707.62 L1269.38,707.15 L1264.99,706.64 L1260.60,706.11 L1256.21,705.56 L1251.83,704.99 L1247.44,704.40 L1243.05,703.81 L1238.66,703.23 L1234.27,702.64 L1229.89,702.07 L1225.50,701.52 L1221.11,700.99 L1216.72,700.48 L1212.34,700.01 L1207.95,699.57 L1203.56,699.18 L1199.17,698.82 L1194.79,698.51 L1190.40,698.25 L1186.01,698.03 L1181.62,697.86 L1177.24,697.72 L1172.85,697.63 L1168.46,697.57 L1164.08,697.54 L1159.69,697.52 L1155.30,697.52 Z" fill="#3d4189"/>
<path d="M1155.30,52.40 L1159.69,52.40 L1164.08,52.40 L1168.46,52.40 L1172.85,52.40 L1177.24,52.40 L1181.62,52.40 L1186.01,52.40 L1190.40,52.40 L1194.79,52.40 L1199.17,52.40 L1203.56,52.40 L1207.95,52.40 L1212.34,52.40 L1216.72,52.40 L1221.11,52.40 L1225.50,52.40 L1229.89,52.40 L1234.27,52.40 L1238.66,52.40 L1243.05,52.40 L1247.44,52.40 L1251.83,52.40 L1256.21,52.40 L1260.60,52.40 L1264.99,52.40 L1269.38,52.40 L1273.76,52.40 L1278.15,52.40 L1282.54,52.40 L1286.92,52.40 L1291.31,52.40 L1295.70,52.40 L1300.09,52.40 L1304.47,52.40 L1308.86,52.40 L1313.25,52.40 L1317.64,52.40 L1322.02,52.40 L1326.41,52.40 L1330.80,52.40 L1330.80,248.35 L1326.41,248.35 L1322.02,248.35 L1317.64,248.35 L1313.25,248.35 L1308.86,248.36 L1304.47,248.36 L1300.09,248.36 L1295.70,248.37 L1291.31,248.37 L1286.92,248.38 L1282.54,248.39 L1278.15,248.39 L1273.76,248.40 L1269.38,248.41 L1264.99,248.42 L1260.60,248.44 L1256.21,248.45 L1251.83,248.46 L1247.44,248.47 L1243.05,248.49 L1238.66,248.50 L1234.27,248.51 L1229.89,248.52 L1225.50,248.53 L1221.11,248.55 L1216.72,248.56 L1212.34,248.57 L1207.95,248.58 L1203.56,248.58 L1199.17,248.59 L1194.79,248.60 L1190.40,248.60 L1186.01,248.61 L1181.62,248.61 L1177.24,248.61 L1172.85,248.62 L1168.46,248.62 L1164.08,248.62 L1159.69,248.62 L1155.30,248.62 Z" fill="#cacac3" fill-opacity="0.30"/>
<path d="M1155.30,248.62 L1159.69,248.62 L1164.08,248.63 L1168.46,248.64 L1172.85,248.67 L1177.24,248.72 L1181.62,248.79 L1186.01,248.88 L1190.40,248.99 L1194.79,249.13 L1199.17,249.28 L1203.56,249.46 L1207.95,249.66 L1212.34,249.89 L1216.72,250.13 L1221.11,250.38 L1225.50,250.65 L1229.89,250.94 L1234.27,251.23 L1238.66,251.52 L1243.05,251.83 L1247.44,252.13 L1251.83,252.42 L1256.21,252.71 L1260.60,253.00 L1264.99,253.27 L1269.38,253.52 L1273.76,253.76 L1278.15,253.99 L1282.54,254.19 L1286.92,254.37 L1291.31,254.52 L1295.70,254.66 L1300.09,254.77 L1304.47,254.86 L1308.86,254.93 L1313.25,254.98 L1317.64,255.01 L1322.02,255.02 L1326.41,255.03 L1330.80,255.03 L1330.80,291.49 L1326.41,291.49 L1322.02,291.48 L1317.64,291.46 L1313.25,291.43 L1308.86,291.38 L1304.47,291.32 L1300.09,291.23 L1295.70,291.12 L1291.31,290.98 L1286.92,290.83 L1282.54,290.65 L1278.15,290.45 L1273.76,290.23 L1269.38,289.99 L1264.99,289.74 L1260.60,289.47 L1256.21,289.19 L1251.83,288.90 L1247.44,288.60 L1243.05,288.31 L1238.66,288.01 L1234.27,287.71 L1229.89,287.42 L1225.50,287.14 L1221.11,286.88 L1216.72,286.62 L1212.34,286.38 L1207.95,286.16 L1203.56,285.96 L1199.17,285.78 L1194.79,285.63 L1190.40,285.49 L1186.01,285.38 L1181.62,285.29 L1177.24,285.23 L1172.85,285.18 L1168.46,285.15 L1164.08,285.13 L1159.69,285.13 L1155.30,285.12 Z" fill="#6cacc6" fill-opacity="0.30"/>
<path d="M1155.30,285.12 L1159.69,285.13 L1164.08,285.19 L1168.46,285.34 L1172.85,285.61 L1177.24,286.03 L1181.62,286.62 L1186.01,287.40 L1190.40,288.38 L1194.79,289.56 L1199.17,290.94 L1203.56,292.52 L1207.95,294.29 L1212.34,296.23 L1216.72,298.34 L1221.11,300.59 L1225.50,302.96 L1229.89,305.43 L1234.27,307.98 L1238.66,310.59 L1243.05,313.21 L1247.44,315.84 L1251.83,318.45 L1256.21,321.00 L1260.60,323.47 L1264.99,325.84 L1269.38,328.09 L1273.76,330.20 L1278.15,332.14 L1282.54,333.91 L1286.92,335.49 L1291.31,336.87 L1295.70,338.05 L1300.09,339.03 L1304.47,339.81 L1308.86,340.40 L1313.25,340.82 L1317.64,341.09 L1322.02,341.24 L1326.41,341.29 L1330.80,341.30 L1330.80,347.81 L1326.41,347.80 L1322.02,347.75 L1317.64,347.60 L1313.25,347.33 L1308.86,346.91 L1304.47,346.32 L1300.09,345.54 L1295.70,344.56 L1291.31,343.38 L1286.92,342.00 L1282.54,340.42 L1278.15,338.65 L1273.76,336.71 L1269.38,334.60 L1264.99,332.35 L1260.60,329.98 L1256.21,327.51 L1251.83,324.96 L1247.44,322.36 L1243.05,319.73 L1238.66,317.10 L1234.27,314.50 L1229.89,311.95 L1225.50,309.47 L1221.11,307.10 L1216.72,304.85 L1212.34,302.75 L1207.95,300.80 L1203.56,299.04 L1199.17,297.46 L1194.79,296.08 L1190.40,294.90 L1186.01,293.92 L1181.62,293.14 L1177.24,292.55 L1172.85,292.12 L1168.46,291.85 L1164.08,291.71 L1159.69,291.65 L1155.30,291.64 Z" fill="#3e76b2" fill-opacity="0.30"/>
<path d="M1155.30,291.64 L1159.69,291.67 L1164.08,291.82 L1168.46,292.21 L1172.85,292.93 L1177.24,294.05 L1181.62,295.64 L1186.01,297.72 L1190.40,300.34 L1194.79,303.49 L1199.17,307.18 L1203.56,311.40 L1207.95,316.12 L1212.34,321.31 L1216.72,326.94 L1221.11,332.95 L1225.50,339.29 L1229.89,345.89 L1234.27,352.71 L1238.66,359.66 L1243.05,366.69 L1247.44,373.71 L1251.83,380.66 L1256.21,387.48 L1260.60,394.08 L1264.99,400.42 L1269.38,406.43 L1273.76,412.06 L1278.15,417.25 L1282.54,421.97 L1286.92,426.19 L1291.31,429.88 L1295.70,433.03 L1300.09,435.65 L1304.47,437.73 L1308.86,439.32 L1313.25,440.44 L1317.64,441.16 L1322.02,441.55 L1326.41,441.70 L1330.80,441.73 L1330.80,646.14 L1326.41,646.12 L1322.02,645.97 L1317.64,645.58 L1313.25,644.86 L1308.86,643.74 L1304.47,642.15 L1300.09,640.07 L1295.70,637.46 L1291.31,634.32 L1286.92,630.63 L1282.54,626.42 L1278.15,621.71 L1273.76,616.53 L1269.38,610.91 L1264.99,604.91 L1260.60,598.59 L1256.21,591.99 L1251.83,585.19 L1247.44,578.25 L1243.05,571.24 L1238.66,564.23 L1234.27,557.29 L1229.89,550.49 L1225.50,543.89 L1221.11,537.56 L1216.72,531.57 L1212.34,525.95 L1207.95,520.77 L1203.56,516.05 L1199.17,511.84 L1194.79,508.16 L1190.40,505.01 L1186.01,502.41 L1181.62,500.32 L1177.24,498.74 L1172.85,497.62 L1168.46,496.90 L1164.08,496.51 L1159.69,496.36 L1155.30,496.34 Z" fill="#415cac" fill-opacity="0.30"/>
<path d="M1155.30,535.43 L1159.69,535.40 L1164.08,535.16 L1168.46,534.54 L1172.85,533.40 L1177.24,531.62 L1181.62,529.12 L1186.01,525.82 L1190.40,521.69 L1194.79,516.71 L1199.17,510.87 L1203.56,504.20 L1207.95,496.74 L1212.34,488.53 L1216.72,479.63 L1221.11,470.13 L1225.50,460.11 L1229.89,449.67 L1234.27,438.90 L1238.66,427.90 L1243.05,416.80 L1247.44,405.70 L1251.83,394.70 L1256.21,383.93 L1260.60,373.48 L1264.99,363.46 L1269.38,353.96 L1273.76,345.07 L1278.15,336.86 L1282.54,329.40 L1286.92,322.73 L1291.31,316.89 L1295.70,311.91 L1300.09,307.78 L1304.47,304.48 L1308.86,301.98 L1313.25,300.20 L1317.64,299.06 L1322.02,298.44 L1326.41,298.20 L1330.80,298.17 L1330.80,334.62 L1326.41,334.66 L1322.02,334.90 L1317.64,335.52 L1313.25,336.66 L1308.86,338.44 L1304.47,340.95 L1300.09,344.25 L1295.70,348.39 L1291.31,353.38 L1286.92,359.23 L1282.54,365.91 L1278.15,373.39 L1273.76,381.62 L1269.38,390.53 L1264.99,400.04 L1260.60,410.08 L1256.21,420.55 L1251.83,431.34 L1247.44,442.36 L1243.05,453.48 L1238.66,464.60 L1234.27,475.62 L1229.89,486.41 L1225.50,496.88 L1221.11,506.92 L1216.72,516.43 L1212.34,525.34 L1207.95,533.57 L1203.56,541.05 L1199.17,547.73 L1194.79,553.58 L1190.40,558.57 L1186.01,562.71 L1181.62,566.01 L1177.24,568.52 L1172.85,570.30 L1168.46,571.44 L1164.08,572.06 L1159.69,572.30 L1155.30,572.34 Z" fill="#5594c0" fill-opacity="0.30"/>
<path d="M1155.30,595.31 L1159.69,595.28 L1164.08,595.03 L1168.46,594.38 L1172.85,593.20 L1177.24,591.34 L1181.62,588.73 L1186.01,585.29 L1190.40,580.98 L1194.79,575.78 L1199.17,569.69 L1203.56,562.74 L1207.95,554.95 L1212.34,546.39 L1216.72,537.11 L1221.11,527.20 L1225.50,516.75 L1229.89,505.85 L1234.27,494.61 L1238.66,483.15 L1243.05,471.56 L1247.44,459.98 L1251.83,448.51 L1256.21,437.28 L1260.60,426.38 L1264.99,415.93 L1269.38,406.02 L1273.76,396.74 L1278.15,388.18 L1282.54,380.39 L1286.92,373.43 L1291.31,367.35 L1295.70,362.15 L1300.09,357.84 L1304.47,354.40 L1308.86,351.79 L1313.25,349.93 L1317.64,348.74 L1322.02,348.10 L1326.41,347.85 L1330.80,347.81 L1330.80,435.05 L1326.41,435.08 L1322.02,435.33 L1317.64,435.98 L1313.25,437.17 L1308.86,439.02 L1304.47,441.63 L1300.09,445.07 L1295.70,449.38 L1291.31,454.58 L1286.92,460.67 L1282.54,467.62 L1278.15,475.41 L1273.76,483.97 L1269.38,493.25 L1264.99,503.16 L1260.60,513.61 L1256.21,524.51 L1251.83,535.75 L1247.44,547.22 L1243.05,558.80 L1238.66,570.38 L1234.27,581.85 L1229.89,593.08 L1225.50,603.98 L1221.11,614.43 L1216.72,624.34 L1212.34,633.62 L1207.95,642.19 L1203.56,649.97 L1199.17,656.93 L1194.79,663.01 L1190.40,668.21 L1186.01,672.52 L1181.62,675.96 L1177.24,678.58 L1172.85,680.43 L1168.46,681.62 L1164.08,682.26 L1159.69,682.51 L1155.30,682.55 Z" fill="#3e76b2" fill-opacity="0.30"/>
<path d="M1350.20,52.40 L1366.76,52.40 L1383.32,52.40 L1399.87,52.40 L1416.43,52.40 L1432.99,52.40 L1449.55,52.40 L1466.10,52.40 L1482.66,52.40 L1499.22,52.40 L1515.78,52.40 L1532.33,52.40 L1548.89,52.40 L1565.45,52.40 L1582.01,52.40 L1598.56,52.40 L1615.12,52.40 L1631.68,52.40 L1648.24,52.40 L1664.79,52.40 L1681.35,52.40 L1697.91,52.40 L1714.47,52.40 L1731.02,52.40 L1747.58,52.40 L1764.14,52.40 L1780.70,52.40 L1797.25,52.40 L1813.81,52.40 L1830.37,52.40 L1846.92,52.40 L1863.48,52.40 L1880.04,52.40 L1896.60,52.40 L1913.15,52.40 L1929.71,52.40 L1946.27,52.40 L1962.83,52.40 L1979.38,52.40 L1995.94,52.40 L2012.50,52.40 L2012.50,89.51 L1995.94,89.51 L1979.38,89.51 L1962.83,89.51 L1946.27,89.51 L1929.71,89.50 L1913.15,89.50 L1896.60,89.50 L1880.04,89.50 L1863.48,89.50 L1846.92,89.49 L1830.37,89.49 L1813.81,89.48 L1797.25,89.48 L1780.70,89.47 L1764.14,89.47 L1747.58,89.46 L1731.02,89.45 L1714.47,89.45 L1697.91,89.44 L1681.35,89.43 L1664.79,89.43 L1648.24,89.42 L1631.68,89.41 L1615.12,89.41 L1598.56,89.40 L1582.01,89.39 L1565.45,89.39 L1548.89,89.38 L1532.33,89.38 L1515.78,89.37 L1499.22,89.37 L1482.66,89.37 L1466.10,89.37 L1449.55,89.36 L1432.99,89.36 L1416.43,89.36 L1399.87,89.36 L1383.32,89.36 L1366.76,89.36 L1350.20,89.36 Z" fill="#cacac3" fill-opacity="0.30"/>
<path d="M1350.20,89.36 L1366.76,89.39 L1383.32,89.56 L1399.87,90.01 L1416.43,90.85 L1432.99,92.15 L1449.55,93.99 L1466.10,96.40 L1482.66,99.43 L1499.22,103.09 L1515.78,107.36 L1532.33,112.25 L1548.89,117.72 L1565.45,123.74 L1582.01,130.26 L1598.56,137.22 L1615.12,144.57 L1631.68,152.22 L1648.24,160.12 L1664.79,168.18 L1681.35,176.32 L1697.91,184.46 L1714.47,192.51 L1731.02,200.41 L1747.58,208.07 L1764.14,215.41 L1780.70,222.37 L1797.25,228.89 L1813.81,234.91 L1830.37,240.38 L1846.92,245.27 L1863.48,249.55 L1880.04,253.20 L1896.60,256.23 L1913.15,258.65 L1929.71,260.48 L1946.27,261.79 L1962.83,262.62 L1979.38,263.07 L1995.94,263.25 L2012.50,263.27 L2012.50,422.90 L1995.94,422.87 L1979.38,422.70 L1962.83,422.24 L1946.27,421.41 L1929.71,420.10 L1913.15,418.25 L1896.60,415.83 L1880.04,412.79 L1863.48,409.12 L1846.92,404.83 L1830.37,399.93 L1813.81,394.43 L1797.25,388.39 L1780.70,381.85 L1764.14,374.86 L1747.58,367.49 L1731.02,359.81 L1714.47,351.88 L1697.91,343.79 L1681.35,335.63 L1664.79,327.46 L1648.24,319.37 L1631.68,311.44 L1615.12,303.76 L1598.56,296.39 L1582.01,289.40 L1565.45,282.86 L1548.89,276.82 L1532.33,271.32 L1515.78,266.42 L1499.22,262.13 L1482.66,258.46 L1466.10,255.42 L1449.55,253.00 L1432.99,251.15 L1416.43,249.85 L1399.87,249.01 L1383.32,248.55 L1366.76,248.38 L1350.20,248.35 Z" fill="#d4947d" fill-opacity="0.30"/>
<path d="M1350.20,255.03 L1366.76,255.01 L1383.32,254.85 L1399.87,254.43 L1416.43,253.67 L1432.99,252.48 L1449.55,250.80 L1466.10,248.59 L1482.66,245.82 L1499.22,242.48 L1515.78,238.57 L1532.33,234.10 L1548.89,229.10 L1565.45,223.59 L1582.01,217.63 L1598.56,211.27 L1615.12,204.55 L1631.68,197.55 L1648.24,190.33 L1664.79,182.96 L1681.35,175.52 L1697.91,168.08 L1714.47,160.71 L1731.02,153.49 L1747.58,146.49 L1764.14,139.77 L1780.70,133.40 L1797.25,127.44 L1813.81,121.94 L1830.37,116.94 L1846.92,112.47 L1863.48,108.56 L1880.04,105.22 L1896.60,102.45 L1913.15,100.24 L1929.71,98.56 L1946.27,97.37 L1962.83,96.60 L1979.38,96.19 L1995.94,96.03 L2012.50,96.01 L2012.50,108.05 L1995.94,108.07 L1979.38,108.23 L1962.83,108.65 L1946.27,109.41 L1929.71,110.60 L1913.15,112.28 L1896.60,114.49 L1880.04,117.26 L1863.48,120.60 L1846.92,124.51 L1830.37,128.98 L1813.81,133.98 L1797.25,139.49 L1780.70,145.45 L1764.14,151.82 L1747.58,158.53 L1731.02,165.53 L1714.47,172.75 L1697.91,180.12 L1681.35,187.56 L1664.79,195.00 L1648.24,202.37 L1631.68,209.59 L1615.12,216.59 L1598.56,223.31 L1582.01,229.68 L1565.45,235.64 L1548.89,241.14 L1532.33,246.14 L1515.78,250.61 L1499.22,254.52 L1482.66,257.86 L1466.10,260.63 L1449.55,262.84 L1432.99,264.52 L1416.43,265.71 L1399.87,266.48 L1383.32,266.89 L1366.76,267.05 L1350.20,267.07 Z" fill="#6cacc6" fill-opacity="0.30"/>
<path d="M1350.20,298.17 L1366.76,298.14 L1383.32,297.95 L1399.87,297.48 L1416.43,296.60 L1432.99,295.22 L1449.55,293.28 L1466.10,290.73 L1482.66,287.53 L1499.22,283.68 L1515.78,279.16 L1532.33,274.00 L1548.89,268.22 L1565.45,261.87 L1582.01,254.99 L1598.56,247.63 L1615.12,239.88 L1631.68,231.80 L1648.24,223.46 L1664.79,214.95 L1681.35,206.36 L1697.91,197.77 L1714.47,189.26 L1731.02,180.92 L1747.58,172.84 L1764.14,165.08 L1780.70,157.73 L1797.25,150.85 L1813.81,144.49 L1830.37,138.72 L1846.92,133.56 L1863.48,129.04 L1880.04,125.19 L1896.60,121.99 L1913.15,119.44 L1929.71,117.50 L1946.27,116.12 L1962.83,115.24 L1979.38,114.76 L1995.94,114.58 L2012.50,114.55 L2012.50,123.99 L1995.94,124.02 L1979.38,124.20 L1962.83,124.68 L1946.27,125.56 L1929.71,126.94 L1913.15,128.88 L1896.60,131.43 L1880.04,134.63 L1863.48,138.48 L1846.92,143.00 L1830.37,148.16 L1813.81,153.93 L1797.25,160.29 L1780.70,167.17 L1764.14,174.52 L1747.58,182.28 L1731.02,190.36 L1714.47,198.70 L1697.91,207.21 L1681.35,215.80 L1664.79,224.39 L1648.24,232.90 L1631.68,241.23 L1615.12,249.32 L1598.56,257.07 L1582.01,264.43 L1565.45,271.31 L1548.89,277.66 L1532.33,283.44 L1515.78,288.60 L1499.22,293.11 L1482.66,296.97 L1466.10,300.17 L1449.55,302.72 L1432.99,304.66 L1416.43,306.03 L1399.87,306.92 L1383.32,307.39 L1366.76,307.58 L1350.20,307.61 Z" fill="#5594c0" fill-opacity="0.30"/>
<path d="M1350.20,341.30 L1366.76,341.27 L1383.32,341.06 L1399.87,340.51 L1416.43,339.50 L1432.99,337.92 L1449.55,335.69 L1466.10,332.76 L1482.66,329.09 L1499.22,324.67 L1515.78,319.48 L1532.33,313.56 L1548.89,306.92 L1565.45,299.63 L1582.01,291.73 L1598.56,283.29 L1615.12,274.38 L1631.68,265.10 L1648.24,255.53 L1664.79,245.76 L1681.35,235.90 L1697.91,226.03 L1714.47,216.26 L1731.02,206.69 L1747.58,197.41 L1764.14,188.51 L1780.70,180.07 L1797.25,172.17 L1813.81,164.87 L1830.37,158.24 L1846.92,152.31 L1863.48,147.13 L1880.04,142.70 L1896.60,139.03 L1913.15,136.10 L1929.71,133.87 L1946.27,132.29 L1962.83,131.28 L1979.38,130.73 L1995.94,130.52 L2012.50,130.49 L2012.50,156.20 L1995.94,156.24 L1979.38,156.45 L1962.83,157.00 L1946.27,158.01 L1929.71,159.59 L1913.15,161.81 L1896.60,164.74 L1880.04,168.41 L1863.48,172.84 L1846.92,178.03 L1830.37,183.95 L1813.81,190.58 L1797.25,197.88 L1780.70,205.78 L1764.14,214.22 L1747.58,223.12 L1731.02,232.41 L1714.47,241.98 L1697.91,251.75 L1681.35,261.61 L1664.79,271.48 L1648.24,281.24 L1631.68,290.81 L1615.12,300.10 L1598.56,309.00 L1582.01,317.44 L1565.45,325.34 L1548.89,332.64 L1532.33,339.27 L1515.78,345.20 L1499.22,350.38 L1482.66,354.81 L1466.10,358.48 L1449.55,361.41 L1432.99,363.63 L1416.43,365.21 L1399.87,366.23 L1383.32,366.77 L1366.76,366.99 L1350.20,367.02 Z" fill="#3e76b2" fill-opacity="0.30"/>
<path d="M1350.20,441.73 L1366.76,441.69 L1383.32,441.40 L1399.87,440.68 L1416.43,439.34 L1432.99,437.25 L1449.55,434.30 L1466.10,430.42 L1482.66,425.57 L1499.22,419.71 L1515.78,412.84 L1532.33,405.00 L1548.89,396.22 L1565.45,386.57 L1582.01,376.11 L1598.56,364.94 L1615.12,353.15 L1631.68,340.87 L1648.24,328.20 L1664.79,315.27 L1681.35,302.22 L1697.91,289.16 L1714.47,276.23 L1731.02,263.56 L1747.58,251.28 L1764.14,239.49 L1780.70,228.32 L1797.25,217.86 L1813.81,208.21 L1830.37,199.43 L1846.92,191.59 L1863.48,184.73 L1880.04,178.87 L1896.60,174.01 L1913.15,170.13 L1929.71,167.18 L1946.27,165.09 L1962.83,163.75 L1979.38,163.03 L1995.94,162.75 L2012.50,162.70 L2012.50,256.77 L1995.94,256.82 L1979.38,257.10 L1962.83,257.82 L1946.27,259.16 L1929.71,261.25 L1913.15,264.20 L1896.60,268.08 L1880.04,272.93 L1863.48,278.80 L1846.92,285.66 L1830.37,293.50 L1813.81,302.28 L1797.25,311.93 L1780.70,322.39 L1764.14,333.56 L1747.58,345.35 L1731.02,357.63 L1714.47,370.30 L1697.91,383.23 L1681.35,396.29 L1664.79,409.34 L1648.24,422.27 L1631.68,434.94 L1615.12,447.22 L1598.56,459.01 L1582.01,470.18 L1565.45,480.64 L1548.89,490.29 L1532.33,499.07 L1515.78,506.91 L1499.22,513.78 L1482.66,519.64 L1466.10,524.49 L1449.55,528.37 L1432.99,531.32 L1416.43,533.41 L1399.87,534.75 L1383.32,535.47 L1366.76,535.75 L1350.20,535.80 Z" fill="#415cac" fill-opacity="0.30"/>
<path d="M1350.20,267.07 L1366.76,267.10 L1383.32,267.26 L1399.87,267.68 L1416.43,268.46 L1432.99,269.68 L1449.55,271.39 L1466.10,273.65 L1482.66,276.48 L1499.22,279.89 L1515.78,283.88 L1532.33,288.44 L1548.89,293.55 L1565.45,299.16 L1582.01,305.25 L1598.56,311.75 L1615.12,318.60 L1631.68,325.75 L1648.24,333.12 L1664.79,340.64 L1681.35,348.24 L1697.91,355.83 L1714.47,363.35 L1731.02,370.72 L1747.58,377.87 L1764.14,384.73 L1780.70,391.23 L1797.25,397.31 L1813.81,402.93 L1830.37,408.03 L1846.92,412.60 L1863.48,416.59 L1880.04,420.00 L1896.60,422.82 L1913.15,425.08 L1929.71,426.79 L1946.27,428.01 L1962.83,428.79 L1979.38,429.21 L1995.94,429.37 L2012.50,429.40 L2012.50,453.81 L1995.94,453.79 L1979.38,453.62 L1962.83,453.20 L1946.27,452.42 L1929.71,451.21 L1913.15,449.49 L1896.60,447.24 L1880.04,444.41 L1863.48,441.00 L1846.92,437.01 L1830.37,432.45 L1813.81,427.34 L1797.25,421.72 L1780.70,415.64 L1764.14,409.14 L1747.58,402.28 L1731.02,395.14 L1714.47,387.77 L1697.91,380.25 L1681.35,372.65 L1664.79,365.05 L1648.24,357.53 L1631.68,350.16 L1615.12,343.02 L1598.56,336.16 L1582.01,329.66 L1565.45,323.58 L1548.89,317.96 L1532.33,312.85 L1515.78,308.29 L1499.22,304.30 L1482.66,300.89 L1466.10,298.06 L1449.55,295.81 L1432.99,294.09 L1416.43,292.88 L1399.87,292.10 L1383.32,291.67 L1366.76,291.51 L1350.20,291.49 Z" fill="#c87358"/>
<path d="M1350.20,307.61 L1366.76,307.63 L1383.32,307.78 L1399.87,308.18 L1416.43,308.91 L1432.99,310.06 L1449.55,311.67 L1466.10,313.79 L1482.66,316.45 L1499.22,319.66 L1515.78,323.41 L1532.33,327.71 L1548.89,332.51 L1565.45,337.79 L1582.01,343.52 L1598.56,349.63 L1615.12,356.08 L1631.68,362.80 L1648.24,369.74 L1664.79,376.81 L1681.35,383.96 L1697.91,391.11 L1714.47,398.18 L1731.02,405.11 L1747.58,411.84 L1764.14,418.29 L1780.70,424.40 L1797.25,430.12 L1813.81,435.41 L1830.37,440.21 L1846.92,444.50 L1863.48,448.26 L1880.04,451.47 L1896.60,454.13 L1913.15,456.25 L1929.71,457.86 L1946.27,459.00 L1962.83,459.74 L1979.38,460.13 L1995.94,460.29 L2012.50,460.31 L2012.50,487.33 L1995.94,487.31 L1979.38,487.15 L1962.83,486.75 L1946.27,486.02 L1929.71,484.88 L1913.15,483.26 L1896.60,481.14 L1880.04,478.48 L1863.48,475.28 L1846.92,471.52 L1830.37,467.23 L1813.81,462.43 L1797.25,457.14 L1780.70,451.42 L1764.14,445.30 L1747.58,438.85 L1731.02,432.13 L1714.47,425.20 L1697.91,418.12 L1681.35,410.98 L1664.79,403.83 L1648.24,396.75 L1631.68,389.82 L1615.12,383.10 L1598.56,376.65 L1582.01,370.53 L1565.45,364.81 L1548.89,359.53 L1532.33,354.72 L1515.78,350.43 L1499.22,346.67 L1482.66,343.47 L1466.10,340.81 L1449.55,338.69 L1432.99,337.07 L1416.43,335.93 L1399.87,335.20 L1383.32,334.80 L1366.76,334.65 L1350.20,334.62 Z" fill="#be543b"/>
<path d="M1350.20,367.02 L1366.76,367.04 L1383.32,367.16 L1399.87,367.49 L1416.43,368.10 L1432.99,369.05 L1449.55,370.39 L1466.10,372.15 L1482.66,374.36 L1499.22,377.03 L1515.78,380.14 L1532.33,383.71 L1548.89,387.70 L1565.45,392.09 L1582.01,396.84 L1598.56,401.92 L1615.12,407.27 L1631.68,412.86 L1648.24,418.61 L1664.79,424.49 L1681.35,430.42 L1697.91,436.36 L1714.47,442.23 L1731.02,447.99 L1747.58,453.57 L1764.14,458.93 L1780.70,464.01 L1797.25,468.76 L1813.81,473.15 L1830.37,477.14 L1846.92,480.70 L1863.48,483.82 L1880.04,486.48 L1896.60,488.69 L1913.15,490.45 L1929.71,491.79 L1946.27,492.74 L1962.83,493.35 L1979.38,493.68 L1995.94,493.81 L2012.50,493.83 L2012.50,561.86 L1995.94,561.84 L1979.38,561.71 L1962.83,561.38 L1946.27,560.77 L1929.71,559.82 L1913.15,558.48 L1896.60,556.72 L1880.04,554.51 L1863.48,551.85 L1846.92,548.73 L1830.37,545.17 L1813.81,541.18 L1797.25,536.79 L1780.70,532.04 L1764.14,526.96 L1747.58,521.60 L1731.02,516.02 L1714.47,510.26 L1697.91,504.39 L1681.35,498.45 L1664.79,492.52 L1648.24,486.64 L1631.68,480.89 L1615.12,475.30 L1598.56,469.95 L1582.01,464.87 L1565.45,460.12 L1548.89,455.73 L1532.33,451.74 L1515.78,448.17 L1499.22,445.06 L1482.66,442.39 L1466.10,440.18 L1449.55,438.42 L1432.99,437.08 L1416.43,436.13 L1399.87,435.52 L1383.32,435.19 L1366.76,435.07 L1350.20,435.05 Z" fill="#b03526"/>
<path d="M1350.20,535.80 L1366.76,535.80 L1383.32,535.83 L1399.87,535.92 L1416.43,536.08 L1432.99,536.32 L1449.55,536.66 L1466.10,537.12 L1482.66,537.68 L1499.22,538.37 L1515.78,539.17 L1532.33,540.08 L1548.89,541.11 L1565.45,542.23 L1582.01,543.45 L1598.56,544.76 L1615.12,546.13 L1631.68,547.57 L1648.24,549.04 L1664.79,550.55 L1681.35,552.08 L1697.91,553.60 L1714.47,555.11 L1731.02,556.59 L1747.58,558.02 L1764.14,559.40 L1780.70,560.70 L1797.25,561.92 L1813.81,563.05 L1830.37,564.07 L1846.92,564.99 L1863.48,565.79 L1880.04,566.47 L1896.60,567.04 L1913.15,567.49 L1929.71,567.84 L1946.27,568.08 L1962.83,568.24 L1979.38,568.32 L1995.94,568.35 L2012.50,568.36 L2012.50,678.70 L1995.94,678.70 L1979.38,678.66 L1962.83,678.58 L1946.27,678.42 L1929.71,678.18 L1913.15,677.84 L1896.60,677.38 L1880.04,676.82 L1863.48,676.13 L1846.92,675.33 L1830.37,674.42 L1813.81,673.39 L1797.25,672.27 L1780.70,671.04 L1764.14,669.74 L1747.58,668.37 L1731.02,666.93 L1714.47,665.45 L1697.91,663.95 L1681.35,662.42 L1664.79,660.90 L1648.24,659.39 L1631.68,657.91 L1615.12,656.48 L1598.56,655.10 L1582.01,653.80 L1565.45,652.58 L1548.89,651.45 L1532.33,650.43 L1515.78,649.51 L1499.22,648.71 L1482.66,648.03 L1466.10,647.46 L1449.55,647.01 L1432.99,646.66 L1416.43,646.42 L1399.87,646.26 L1383.32,646.18 L1366.76,646.15 L1350.20,646.14 Z" fill="#9c1726"/>
<path d="M1350.20,652.82 L1366.76,652.83 L1383.32,652.86 L1399.87,652.94 L1416.43,653.10 L1432.99,653.34 L1449.55,653.68 L1466.10,654.13 L1482.66,654.70 L1499.22,655.38 L1515.78,656.17 L1532.33,657.08 L1548.89,658.10 L1565.45,659.22 L1582.01,660.44 L1598.56,661.73 L1615.12,663.10 L1631.68,664.53 L1648.24,666.00 L1664.79,667.50 L1681.35,669.01 L1697.91,670.53 L1714.47,672.03 L1731.02,673.50 L1747.58,674.92 L1764.14,676.29 L1780.70,677.59 L1797.25,678.80 L1813.81,679.92 L1830.37,680.94 L1846.92,681.85 L1863.48,682.65 L1880.04,683.33 L1896.60,683.89 L1913.15,684.34 L1929.71,684.68 L1946.27,684.93 L1962.83,685.08 L1979.38,685.16 L1995.94,685.20 L2012.50,685.20 L2012.50,711.24 L1995.94,711.24 L1979.38,711.20 L1962.83,711.12 L1946.27,710.97 L1929.71,710.72 L1913.15,710.38 L1896.60,709.93 L1880.04,709.37 L1863.48,708.69 L1846.92,707.89 L1830.37,706.98 L1813.81,705.96 L1797.25,704.84 L1780.70,703.63 L1764.14,702.33 L1747.58,700.96 L1731.02,699.54 L1714.47,698.07 L1697.91,696.57 L1681.35,695.05 L1664.79,693.54 L1648.24,692.04 L1631.68,690.57 L1615.12,689.14 L1598.56,687.77 L1582.01,686.48 L1565.45,685.26 L1548.89,684.14 L1532.33,683.12 L1515.78,682.21 L1499.22,681.42 L1482.66,680.74 L1466.10,680.17 L1449.55,679.72 L1432.99,679.38 L1416.43,679.14 L1399.87,678.98 L1383.32,678.90 L1366.76,678.87 L1350.20,678.86 Z" fill="#7d0b25"/>
<path d="M1350.20,678.86 L1366.76,678.87 L1383.32,678.92 L1399.87,679.05 L1416.43,679.30 L1432.99,679.68 L1449.55,680.22 L1466.10,680.92 L1482.66,681.81 L1499.22,682.88 L1515.78,684.13 L1532.33,685.56 L1548.89,687.16 L1565.45,688.93 L1582.01,690.83 L1598.56,692.87 L1615.12,695.02 L1631.68,697.27 L1648.24,699.58 L1664.79,701.94 L1681.35,704.32 L1697.91,706.70 L1714.47,709.06 L1731.02,711.37 L1747.58,713.61 L1764.14,715.76 L1780.70,717.80 L1797.25,719.71 L1813.81,721.47 L1830.37,723.07 L1846.92,724.51 L1863.48,725.76 L1880.04,726.83 L1896.60,727.71 L1913.15,728.42 L1929.71,728.96 L1946.27,729.34 L1962.83,729.58 L1979.38,729.72 L1995.94,729.77 L2012.50,729.78 L2012.50,761.02 L1995.94,761.02 L1979.38,760.96 L1962.83,760.83 L1946.27,760.59 L1929.71,760.21 L1913.15,759.67 L1896.60,758.96 L1880.04,758.07 L1863.48,757.01 L1846.92,755.75 L1830.37,754.32 L1813.81,752.72 L1797.25,750.96 L1780.70,749.05 L1764.14,747.01 L1747.58,744.86 L1731.02,742.62 L1714.47,740.31 L1697.91,737.95 L1681.35,735.57 L1664.79,733.18 L1648.24,730.82 L1631.68,728.51 L1615.12,726.27 L1598.56,724.12 L1582.01,722.08 L1565.45,720.17 L1548.89,718.41 L1532.33,716.81 L1515.78,715.38 L1499.22,714.13 L1482.66,713.06 L1466.10,712.17 L1449.55,711.46 L1432.99,710.93 L1416.43,710.54 L1399.87,710.30 L1383.32,710.17 L1366.76,710.12 L1350.20,710.11 Z" fill="#3d4189"/>
<path d="M1350.20,722.05 L1366.76,722.06 L1383.32,722.11 L1399.87,722.22 L1416.43,722.44 L1432.99,722.78 L1449.55,723.26 L1466.10,723.89 L1482.66,724.69 L1499.22,725.64 L1515.78,726.76 L1532.33,728.04 L1548.89,729.47 L1565.45,731.04 L1582.01,732.75 L1598.56,734.57 L1615.12,736.49 L1631.68,738.49 L1648.24,740.55 L1664.79,742.66 L1681.35,744.79 L1697.91,746.92 L1714.47,749.02 L1731.02,751.09 L1747.58,753.09 L1764.14,755.01 L1780.70,756.83 L1797.25,758.53 L1813.81,760.11 L1830.37,761.54 L1846.92,762.82 L1863.48,763.93 L1880.04,764.89 L1896.60,765.68 L1913.15,766.31 L1929.71,766.79 L1946.27,767.13 L1962.83,767.35 L1979.38,767.47 L1995.94,767.52 L2012.50,767.52 L2012.50,788.68 L1995.94,788.67 L1979.38,788.63 L1962.83,788.51 L1946.27,788.28 L1929.71,787.93 L1913.15,787.44 L1896.60,786.80 L1880.04,785.99 L1863.48,785.01 L1846.92,783.87 L1830.37,782.56 L1813.81,781.10 L1797.25,779.49 L1780.70,777.75 L1764.14,775.88 L1747.58,773.92 L1731.02,771.87 L1714.47,769.76 L1697.91,767.61 L1681.35,765.43 L1664.79,763.25 L1648.24,761.10 L1631.68,758.99 L1615.12,756.94 L1598.56,754.98 L1582.01,753.11 L1565.45,751.37 L1548.89,749.76 L1532.33,748.30 L1515.78,746.99 L1499.22,745.85 L1482.66,744.87 L1466.10,744.06 L1449.55,743.42 L1432.99,742.92 L1416.43,742.58 L1399.87,742.35 L1383.32,742.23 L1366.76,742.18 L1350.20,742.18 Z" fill="#2f2c5e"/>
<path d="M1350.20,716.79 L1366.76,716.79 L1383.32,716.79 L1399.87,716.79 L1416.43,716.80 L1432.99,716.80 L1449.55,716.81 L1466.10,716.83 L1482.66,716.84 L1499.22,716.86 L1515.78,716.89 L1532.33,716.91 L1548.89,716.94 L1565.45,716.98 L1582.01,717.01 L1598.56,717.05 L1615.12,717.09 L1631.68,717.13 L1648.24,717.18 L1664.79,717.22 L1681.35,717.27 L1697.91,717.31 L1714.47,717.35 L1731.02,717.40 L1747.58,717.44 L1764.14,717.48 L1780.70,717.52 L1797.25,717.55 L1813.81,717.59 L1830.37,717.62 L1846.92,717.64 L1863.48,717.67 L1880.04,717.69 L1896.60,717.70 L1913.15,717.72 L1929.71,717.73 L1946.27,717.73 L1962.83,717.74 L1979.38,717.74 L1995.94,717.74 L2012.50,717.74 L2012.50,723.28 L1995.94,723.28 L1979.38,723.27 L1962.83,723.27 L1946.27,723.27 L1929.71,723.26 L1913.15,723.24 L1896.60,723.23 L1880.04,723.20 L1863.48,723.18 L1846.92,723.15 L1830.37,723.11 L1813.81,723.08 L1797.25,723.03 L1780.70,722.99 L1764.14,722.94 L1747.58,722.89 L1731.02,722.83 L1714.47,722.78 L1697.91,722.72 L1681.35,722.66 L1664.79,722.61 L1648.24,722.55 L1631.68,722.49 L1615.12,722.44 L1598.56,722.39 L1582.01,722.34 L1565.45,722.29 L1548.89,722.25 L1532.33,722.21 L1515.78,722.18 L1499.22,722.15 L1482.66,722.12 L1466.10,722.10 L1449.55,722.09 L1432.99,722.07 L1416.43,722.06 L1399.87,722.06 L1383.32,722.05 L1366.76,722.05 L1350.20,722.05 Z" fill="#5e0b1e"/>
</g>
<g stroke="#000" stroke-width="0.95" stroke-opacity="0.62">
<rect x="746.40" y="52.40" width="19.00" height="651.78" fill="#efefed"/>
<rect x="941.30" y="52.40" width="19.20" height="589.81" fill="#efefed"/>
<rect x="941.30" y="648.71" width="19.20" height="8.46" fill="#dddddd"/>
<rect x="941.30" y="663.67" width="19.20" height="48.83" fill="#ccdfec"/>
<rect x="941.30" y="718.99" width="19.20" height="4.69" fill="#c5d6e8"/>
<rect x="1136.30" y="52.40" width="19.00" height="476.53" fill="#efefed"/>
<rect x="1136.30" y="535.43" width="19.00" height="53.38" fill="#ccdfec"/>
<rect x="1136.30" y="595.31" width="19.00" height="121.09" fill="#c5d6e8"/>
<rect x="1330.80" y="52.40" width="19.40" height="195.95" fill="#efefed"/>
<rect x="1330.80" y="255.03" width="19.40" height="36.46" fill="#d3e6ee"/>
<rect x="1330.80" y="298.17" width="19.40" height="36.46" fill="#ccdfec"/>
<rect x="1330.80" y="341.30" width="19.40" height="93.74" fill="#c5d6e8"/>
<rect x="1330.80" y="441.73" width="19.40" height="204.41" fill="#c6cee6"/>
<rect x="1330.80" y="652.82" width="19.40" height="57.29" fill="#3d4189"/>
<rect x="1330.80" y="716.79" width="19.40" height="25.39" fill="#2f2c5e"/>
<rect x="2012.50" y="52.40" width="19.90" height="37.11" fill="#efefed"/>
<rect x="2012.50" y="96.01" width="19.90" height="12.04" fill="#d3e6ee"/>
<rect x="2012.50" y="114.55" width="19.90" height="9.44" fill="#ccdfec"/>
<rect x="2012.50" y="130.49" width="19.90" height="25.71" fill="#c5d6e8"/>
<rect x="2012.50" y="162.70" width="19.90" height="94.07" fill="#c6cee6"/>
<rect x="2012.50" y="263.27" width="19.90" height="159.63" fill="#f2dfd8"/>
<rect x="2012.50" y="429.40" width="19.90" height="24.41" fill="#c87358"/>
<rect x="2012.50" y="460.31" width="19.90" height="27.02" fill="#be543b"/>
<rect x="2012.50" y="493.83" width="19.90" height="68.03" fill="#b03526"/>
<rect x="2012.50" y="568.36" width="19.90" height="110.34" fill="#9c1726"/>
<rect x="2012.50" y="685.20" width="19.90" height="26.04" fill="#7d0b25"/>
<rect x="2012.50" y="717.74" width="19.90" height="5.53" fill="#5e0b1e"/>
<rect x="2012.50" y="729.78" width="19.90" height="31.25" fill="#3d4189"/>
<rect x="2012.50" y="767.52" width="19.90" height="21.16" fill="#2f2c5e"/>
</g>
<g>
<path d="M764.90,927.70 L769.29,927.70 L773.68,927.70 L778.08,927.70 L782.47,927.70 L786.86,927.70 L791.25,927.70 L795.65,927.70 L800.04,927.70 L804.43,927.70 L808.83,927.70 L813.22,927.70 L817.61,927.70 L822.00,927.70 L826.39,927.70 L830.79,927.70 L835.18,927.70 L839.57,927.70 L843.97,927.70 L848.36,927.70 L852.75,927.70 L857.14,927.70 L861.53,927.70 L865.93,927.70 L870.32,927.70 L874.71,927.70 L879.11,927.70 L883.50,927.70 L887.89,927.70 L892.28,927.70 L896.67,927.70 L901.07,927.70 L905.46,927.70 L909.85,927.70 L914.25,927.70 L918.64,927.70 L923.03,927.70 L927.42,927.70 L931.82,927.70 L936.21,927.70 L940.60,927.70 L940.60,1386.58 L936.21,1386.58 L931.82,1386.58 L927.42,1386.58 L923.03,1386.58 L918.64,1386.58 L914.25,1386.58 L909.85,1386.58 L905.46,1386.58 L901.07,1386.58 L896.67,1386.58 L892.28,1386.58 L887.89,1386.58 L883.50,1386.58 L879.11,1386.58 L874.71,1386.58 L870.32,1386.58 L865.93,1386.58 L861.53,1386.58 L857.14,1386.58 L852.75,1386.58 L848.36,1386.58 L843.97,1386.58 L839.57,1386.58 L835.18,1386.58 L830.79,1386.58 L826.39,1386.58 L822.00,1386.58 L817.61,1386.58 L813.22,1386.58 L808.83,1386.58 L804.43,1386.58 L800.04,1386.58 L795.65,1386.58 L791.25,1386.58 L786.86,1386.58 L782.47,1386.58 L778.08,1386.58 L773.68,1386.58 L769.29,1386.58 L764.90,1386.58 Z" fill="#cacac3" fill-opacity="0.30"/>
<path d="M764.90,1386.58 L769.29,1386.58 L773.68,1386.59 L778.08,1386.60 L782.47,1386.63 L786.86,1386.68 L791.25,1386.75 L795.65,1386.84 L800.04,1386.95 L804.43,1387.09 L808.83,1387.25 L813.22,1387.43 L817.61,1387.64 L822.00,1387.86 L826.39,1388.11 L830.79,1388.37 L835.18,1388.64 L839.57,1388.93 L843.97,1389.22 L848.36,1389.52 L852.75,1389.83 L857.14,1390.13 L861.53,1390.43 L865.93,1390.73 L870.32,1391.01 L874.71,1391.29 L879.11,1391.55 L883.50,1391.79 L887.89,1392.02 L892.28,1392.22 L896.67,1392.40 L901.07,1392.56 L905.46,1392.70 L909.85,1392.81 L914.25,1392.90 L918.64,1392.97 L923.03,1393.02 L927.42,1393.05 L931.82,1393.07 L936.21,1393.08 L940.60,1393.08 L940.60,1397.64 L936.21,1397.64 L931.82,1397.63 L927.42,1397.62 L923.03,1397.59 L918.64,1397.54 L914.25,1397.47 L909.85,1397.38 L905.46,1397.27 L901.07,1397.13 L896.67,1396.97 L892.28,1396.79 L887.89,1396.58 L883.50,1396.36 L879.11,1396.11 L874.71,1395.85 L870.32,1395.58 L865.93,1395.29 L861.53,1395.00 L857.14,1394.70 L852.75,1394.39 L848.36,1394.09 L843.97,1393.79 L839.57,1393.49 L835.18,1393.20 L830.79,1392.93 L826.39,1392.67 L822.00,1392.43 L817.61,1392.20 L813.22,1392.00 L808.83,1391.81 L804.43,1391.65 L800.04,1391.52 L795.65,1391.40 L791.25,1391.31 L786.86,1391.25 L782.47,1391.20 L778.08,1391.17 L773.68,1391.15 L769.29,1391.14 L764.90,1391.14 Z" fill="#8e8e8e" fill-opacity="0.30"/>
<path d="M764.90,1391.14 L769.29,1391.14 L773.68,1391.16 L778.08,1391.19 L782.47,1391.25 L786.86,1391.35 L791.25,1391.49 L795.65,1391.67 L800.04,1391.89 L804.43,1392.17 L808.83,1392.49 L813.22,1392.85 L817.61,1393.26 L822.00,1393.71 L826.39,1394.20 L830.79,1394.72 L835.18,1395.27 L839.57,1395.84 L843.97,1396.43 L848.36,1397.03 L852.75,1397.64 L857.14,1398.25 L861.53,1398.85 L865.93,1399.44 L870.32,1400.01 L874.71,1400.56 L879.11,1401.08 L883.50,1401.57 L887.89,1402.02 L892.28,1402.43 L896.67,1402.80 L901.07,1403.12 L905.46,1403.39 L909.85,1403.61 L914.25,1403.80 L918.64,1403.93 L923.03,1404.03 L927.42,1404.09 L931.82,1404.13 L936.21,1404.14 L940.60,1404.14 L940.60,1567.79 L936.21,1567.79 L931.82,1567.78 L927.42,1567.74 L923.03,1567.68 L918.64,1567.58 L914.25,1567.45 L909.85,1567.27 L905.46,1567.04 L901.07,1566.77 L896.67,1566.45 L892.28,1566.08 L887.89,1565.67 L883.50,1565.22 L879.11,1564.74 L874.71,1564.22 L870.32,1563.67 L865.93,1563.09 L861.53,1562.50 L857.14,1561.90 L852.75,1561.29 L848.36,1560.69 L843.97,1560.08 L839.57,1559.49 L835.18,1558.92 L830.79,1558.37 L826.39,1557.85 L822.00,1557.36 L817.61,1556.91 L813.22,1556.50 L808.83,1556.14 L804.43,1555.82 L800.04,1555.55 L795.65,1555.32 L791.25,1555.14 L786.86,1555.00 L782.47,1554.90 L778.08,1554.84 L773.68,1554.81 L769.29,1554.80 L764.90,1554.79 Z" fill="#5594c0" fill-opacity="0.30"/>
<path d="M764.90,1554.79 L769.29,1554.80 L773.68,1554.82 L778.08,1554.87 L782.47,1554.96 L786.86,1555.11 L791.25,1555.31 L795.65,1555.58 L800.04,1555.92 L804.43,1556.33 L808.83,1556.81 L813.22,1557.36 L817.61,1557.97 L822.00,1558.65 L826.39,1559.38 L830.79,1560.16 L835.18,1560.98 L839.57,1561.84 L843.97,1562.73 L848.36,1563.63 L852.75,1564.54 L857.14,1565.46 L861.53,1566.36 L865.93,1567.24 L870.32,1568.10 L874.71,1568.93 L879.11,1569.71 L883.50,1570.44 L887.89,1571.11 L892.28,1571.73 L896.67,1572.28 L901.07,1572.75 L905.46,1573.16 L909.85,1573.50 L914.25,1573.77 L918.64,1573.98 L923.03,1574.13 L927.42,1574.22 L931.82,1574.27 L936.21,1574.29 L940.60,1574.29 L940.60,1598.42 L936.21,1598.41 L931.82,1598.40 L927.42,1598.34 L923.03,1598.25 L918.64,1598.10 L914.25,1597.90 L909.85,1597.63 L905.46,1597.29 L901.07,1596.88 L896.67,1596.40 L892.28,1595.85 L887.89,1595.24 L883.50,1594.56 L879.11,1593.83 L874.71,1593.05 L870.32,1592.23 L865.93,1591.37 L861.53,1590.48 L857.14,1589.58 L852.75,1588.67 L848.36,1587.76 L843.97,1586.85 L839.57,1585.97 L835.18,1585.11 L830.79,1584.28 L826.39,1583.50 L822.00,1582.77 L817.61,1582.10 L813.22,1581.48 L808.83,1580.94 L804.43,1580.46 L800.04,1580.05 L795.65,1579.71 L791.25,1579.44 L786.86,1579.23 L782.47,1579.08 L778.08,1578.99 L773.68,1578.94 L769.29,1578.92 L764.90,1578.92 Z" fill="#3e76b2" fill-opacity="0.30"/>
<path d="M959.70,1383.97 L964.10,1384.01 L968.50,1384.23 L972.89,1384.80 L977.29,1385.86 L981.69,1387.50 L986.09,1389.82 L990.48,1392.88 L994.88,1396.70 L999.28,1401.32 L1003.67,1406.72 L1008.07,1412.90 L1012.47,1419.81 L1016.87,1427.42 L1021.26,1435.65 L1025.66,1444.45 L1030.06,1453.73 L1034.46,1463.41 L1038.86,1473.38 L1043.25,1483.57 L1047.65,1493.85 L1052.05,1504.13 L1056.44,1514.31 L1060.84,1524.29 L1065.24,1533.97 L1069.64,1543.25 L1074.03,1552.05 L1078.43,1560.28 L1082.83,1567.89 L1087.23,1574.80 L1091.62,1580.98 L1096.02,1586.38 L1100.42,1591.00 L1104.82,1594.82 L1109.21,1597.88 L1113.61,1600.20 L1118.01,1601.84 L1122.41,1602.90 L1126.80,1603.47 L1131.20,1603.69 L1135.60,1603.72 L1135.60,1606.33 L1131.20,1606.30 L1126.80,1606.08 L1122.41,1605.51 L1118.01,1604.45 L1113.61,1602.80 L1109.21,1600.48 L1104.82,1597.43 L1100.42,1593.60 L1096.02,1588.99 L1091.62,1583.58 L1087.23,1577.41 L1082.83,1570.49 L1078.43,1562.89 L1074.03,1554.65 L1069.64,1545.85 L1065.24,1536.57 L1060.84,1526.90 L1056.44,1516.92 L1052.05,1506.74 L1047.65,1496.45 L1043.25,1486.17 L1038.86,1475.99 L1034.46,1466.01 L1030.06,1456.34 L1025.66,1447.06 L1021.26,1438.26 L1016.87,1430.02 L1012.47,1422.42 L1008.07,1415.50 L1003.67,1409.33 L999.28,1403.92 L994.88,1399.31 L990.48,1395.48 L986.09,1392.43 L981.69,1390.11 L977.29,1388.46 L972.89,1387.40 L968.50,1386.83 L964.10,1386.61 L959.70,1386.58 Z" fill="#2f2c5e"/>
<path d="M959.70,1561.93 L964.10,1561.93 L968.50,1561.98 L972.89,1562.09 L977.29,1562.31 L981.69,1562.64 L986.09,1563.11 L990.48,1563.72 L994.88,1564.50 L999.28,1565.43 L1003.67,1566.52 L1008.07,1567.77 L1012.47,1569.17 L1016.87,1570.70 L1021.26,1572.37 L1025.66,1574.15 L1030.06,1576.02 L1034.46,1577.98 L1038.86,1579.99 L1043.25,1582.05 L1047.65,1584.13 L1052.05,1586.21 L1056.44,1588.26 L1060.84,1590.28 L1065.24,1592.24 L1069.64,1594.11 L1074.03,1595.89 L1078.43,1597.55 L1082.83,1599.09 L1087.23,1600.49 L1091.62,1601.74 L1096.02,1602.83 L1100.42,1603.76 L1104.82,1604.53 L1109.21,1605.15 L1113.61,1605.62 L1118.01,1605.95 L1122.41,1606.17 L1126.80,1606.28 L1131.20,1606.33 L1135.60,1606.33 L1135.60,1612.20 L1131.20,1612.19 L1126.80,1612.15 L1122.41,1612.03 L1118.01,1611.82 L1113.61,1611.49 L1109.21,1611.02 L1104.82,1610.40 L1100.42,1609.63 L1096.02,1608.70 L1091.62,1607.60 L1087.23,1606.36 L1082.83,1604.96 L1078.43,1603.42 L1074.03,1601.76 L1069.64,1599.98 L1065.24,1598.10 L1060.84,1596.15 L1056.44,1594.13 L1052.05,1592.07 L1047.65,1590.00 L1043.25,1587.92 L1038.86,1585.86 L1034.46,1583.85 L1030.06,1581.89 L1025.66,1580.01 L1021.26,1578.24 L1016.87,1576.57 L1012.47,1575.04 L1008.07,1573.64 L1003.67,1572.39 L999.28,1571.30 L994.88,1570.37 L990.48,1569.59 L986.09,1568.98 L981.69,1568.51 L977.29,1568.17 L972.89,1567.96 L968.50,1567.85 L964.10,1567.80 L959.70,1567.79 Z" fill="#2f2c5e"/>
<path d="M959.70,1556.06 L964.10,1556.06 L968.50,1556.10 L972.89,1556.19 L977.29,1556.36 L981.69,1556.62 L986.09,1557.00 L990.48,1557.49 L994.88,1558.10 L999.28,1558.84 L1003.67,1559.71 L1008.07,1560.70 L1012.47,1561.81 L1016.87,1563.04 L1021.26,1564.36 L1025.66,1565.77 L1030.06,1567.26 L1034.46,1568.82 L1038.86,1570.42 L1043.25,1572.05 L1047.65,1573.71 L1052.05,1575.36 L1056.44,1576.99 L1060.84,1578.60 L1065.24,1580.15 L1069.64,1581.64 L1074.03,1583.05 L1078.43,1584.38 L1082.83,1585.60 L1087.23,1586.71 L1091.62,1587.70 L1096.02,1588.57 L1100.42,1589.31 L1104.82,1589.93 L1109.21,1590.42 L1113.61,1590.79 L1118.01,1591.05 L1122.41,1591.22 L1126.80,1591.32 L1131.20,1591.35 L1135.60,1591.36 L1135.60,1597.22 L1131.20,1597.22 L1126.80,1597.18 L1122.41,1597.09 L1118.01,1596.92 L1113.61,1596.66 L1109.21,1596.28 L1104.82,1595.79 L1100.42,1595.18 L1096.02,1594.44 L1091.62,1593.57 L1087.23,1592.58 L1082.83,1591.47 L1078.43,1590.25 L1074.03,1588.92 L1069.64,1587.51 L1065.24,1586.02 L1060.84,1584.46 L1056.44,1582.86 L1052.05,1581.23 L1047.65,1579.57 L1043.25,1577.92 L1038.86,1576.29 L1034.46,1574.68 L1030.06,1573.13 L1025.66,1571.64 L1021.26,1570.23 L1016.87,1568.90 L1012.47,1567.68 L1008.07,1566.57 L1003.67,1565.58 L999.28,1564.71 L994.88,1563.97 L990.48,1563.36 L986.09,1562.86 L981.69,1562.49 L977.29,1562.23 L972.89,1562.06 L968.50,1561.97 L964.10,1561.93 L959.70,1561.93 Z" fill="#3d4189"/>
<path d="M959.70,927.70 L964.10,927.70 L968.50,927.70 L972.89,927.70 L977.29,927.70 L981.69,927.70 L986.09,927.70 L990.48,927.70 L994.88,927.70 L999.28,927.70 L1003.67,927.70 L1008.07,927.70 L1012.47,927.70 L1016.87,927.70 L1021.26,927.70 L1025.66,927.70 L1030.06,927.70 L1034.46,927.70 L1038.86,927.70 L1043.25,927.70 L1047.65,927.70 L1052.05,927.70 L1056.44,927.70 L1060.84,927.70 L1065.24,927.70 L1069.64,927.70 L1074.03,927.70 L1078.43,927.70 L1082.83,927.70 L1087.23,927.70 L1091.62,927.70 L1096.02,927.70 L1100.42,927.70 L1104.82,927.70 L1109.21,927.70 L1113.61,927.70 L1118.01,927.70 L1122.41,927.70 L1126.80,927.70 L1131.20,927.70 L1135.60,927.70 L1135.60,1283.69 L1131.20,1283.69 L1126.80,1283.69 L1122.41,1283.69 L1118.01,1283.69 L1113.61,1283.68 L1109.21,1283.68 L1104.82,1283.67 L1100.42,1283.66 L1096.02,1283.64 L1091.62,1283.63 L1087.23,1283.61 L1082.83,1283.59 L1078.43,1283.57 L1074.03,1283.55 L1069.64,1283.53 L1065.24,1283.50 L1060.84,1283.47 L1056.44,1283.45 L1052.05,1283.42 L1047.65,1283.39 L1043.25,1283.36 L1038.86,1283.33 L1034.46,1283.31 L1030.06,1283.28 L1025.66,1283.25 L1021.26,1283.23 L1016.87,1283.21 L1012.47,1283.18 L1008.07,1283.17 L1003.67,1283.15 L999.28,1283.13 L994.88,1283.12 L990.48,1283.11 L986.09,1283.10 L981.69,1283.10 L977.29,1283.09 L972.89,1283.09 L968.50,1283.09 L964.10,1283.09 L959.70,1283.09 Z" fill="#cacac3" fill-opacity="0.30"/>
<path d="M959.70,1283.09 L964.10,1283.09 L968.50,1283.09 L972.89,1283.11 L977.29,1283.15 L981.69,1283.20 L986.09,1283.28 L990.48,1283.37 L994.88,1283.50 L999.28,1283.65 L1003.67,1283.82 L1008.07,1284.02 L1012.47,1284.24 L1016.87,1284.49 L1021.26,1284.76 L1025.66,1285.04 L1030.06,1285.34 L1034.46,1285.65 L1038.86,1285.98 L1043.25,1286.31 L1047.65,1286.64 L1052.05,1286.97 L1056.44,1287.30 L1060.84,1287.62 L1065.24,1287.94 L1069.64,1288.24 L1074.03,1288.52 L1078.43,1288.79 L1082.83,1289.03 L1087.23,1289.26 L1091.62,1289.46 L1096.02,1289.63 L1100.42,1289.78 L1104.82,1289.90 L1109.21,1290.00 L1113.61,1290.08 L1118.01,1290.13 L1122.41,1290.17 L1126.80,1290.18 L1131.20,1290.19 L1135.60,1290.19 L1135.60,1291.50 L1131.20,1291.49 L1126.80,1291.49 L1122.41,1291.47 L1118.01,1291.44 L1113.61,1291.38 L1109.21,1291.31 L1104.82,1291.21 L1100.42,1291.08 L1096.02,1290.94 L1091.62,1290.76 L1087.23,1290.56 L1082.83,1290.34 L1078.43,1290.09 L1074.03,1289.82 L1069.64,1289.54 L1065.24,1289.24 L1060.84,1288.93 L1056.44,1288.60 L1052.05,1288.27 L1047.65,1287.94 L1043.25,1287.61 L1038.86,1287.28 L1034.46,1286.96 L1030.06,1286.64 L1025.66,1286.34 L1021.26,1286.06 L1016.87,1285.79 L1012.47,1285.55 L1008.07,1285.32 L1003.67,1285.12 L999.28,1284.95 L994.88,1284.80 L990.48,1284.68 L986.09,1284.58 L981.69,1284.50 L977.29,1284.45 L972.89,1284.41 L968.50,1284.40 L964.10,1284.39 L959.70,1284.39 Z" fill="#6cacc6" fill-opacity="0.30"/>
<path d="M959.70,1284.39 L964.10,1284.39 L968.50,1284.40 L972.89,1284.44 L977.29,1284.50 L981.69,1284.61 L986.09,1284.75 L990.48,1284.94 L994.88,1285.18 L999.28,1285.46 L1003.67,1285.80 L1008.07,1286.18 L1012.47,1286.61 L1016.87,1287.08 L1021.26,1287.59 L1025.66,1288.13 L1030.06,1288.71 L1034.46,1289.31 L1038.86,1289.92 L1043.25,1290.56 L1047.65,1291.19 L1052.05,1291.83 L1056.44,1292.46 L1060.84,1293.08 L1065.24,1293.68 L1069.64,1294.25 L1074.03,1294.80 L1078.43,1295.31 L1082.83,1295.78 L1087.23,1296.20 L1091.62,1296.59 L1096.02,1296.92 L1100.42,1297.21 L1104.82,1297.44 L1109.21,1297.63 L1113.61,1297.78 L1118.01,1297.88 L1122.41,1297.94 L1126.80,1297.98 L1131.20,1297.99 L1135.60,1298.00 L1135.60,1300.60 L1131.20,1300.60 L1126.80,1300.59 L1122.41,1300.55 L1118.01,1300.49 L1113.61,1300.39 L1109.21,1300.24 L1104.82,1300.05 L1100.42,1299.82 L1096.02,1299.53 L1091.62,1299.19 L1087.23,1298.81 L1082.83,1298.38 L1078.43,1297.91 L1074.03,1297.40 L1069.64,1296.86 L1065.24,1296.28 L1060.84,1295.68 L1056.44,1295.07 L1052.05,1294.43 L1047.65,1293.80 L1043.25,1293.16 L1038.86,1292.53 L1034.46,1291.91 L1030.06,1291.31 L1025.66,1290.74 L1021.26,1290.19 L1016.87,1289.68 L1012.47,1289.21 L1008.07,1288.78 L1003.67,1288.40 L999.28,1288.07 L994.88,1287.78 L990.48,1287.54 L986.09,1287.35 L981.69,1287.21 L977.29,1287.11 L972.89,1287.04 L968.50,1287.01 L964.10,1286.99 L959.70,1286.99 Z" fill="#5594c0" fill-opacity="0.30"/>
<path d="M959.70,1286.99 L964.10,1287.02 L968.50,1287.19 L972.89,1287.64 L977.29,1288.46 L981.69,1289.75 L986.09,1291.57 L990.48,1293.96 L994.88,1296.96 L999.28,1300.57 L1003.67,1304.80 L1008.07,1309.63 L1012.47,1315.05 L1016.87,1321.00 L1021.26,1327.45 L1025.66,1334.33 L1030.06,1341.60 L1034.46,1349.17 L1038.86,1356.99 L1043.25,1364.96 L1047.65,1373.01 L1052.05,1381.06 L1056.44,1389.03 L1060.84,1396.84 L1065.24,1404.41 L1069.64,1411.68 L1074.03,1418.56 L1078.43,1425.01 L1082.83,1430.97 L1087.23,1436.38 L1091.62,1441.21 L1096.02,1445.44 L1100.42,1449.06 L1104.82,1452.05 L1109.21,1454.44 L1113.61,1456.26 L1118.01,1457.55 L1122.41,1458.37 L1126.80,1458.82 L1131.20,1458.99 L1135.60,1459.02 L1135.60,1556.17 L1131.20,1556.14 L1126.80,1555.97 L1122.41,1555.52 L1118.01,1554.69 L1113.61,1553.40 L1109.21,1551.59 L1104.82,1549.19 L1100.42,1546.19 L1096.02,1542.58 L1091.62,1538.34 L1087.23,1533.50 L1082.83,1528.09 L1078.43,1522.13 L1074.03,1515.67 L1069.64,1508.78 L1065.24,1501.51 L1060.84,1493.93 L1056.44,1486.11 L1052.05,1478.13 L1047.65,1470.07 L1043.25,1462.01 L1038.86,1454.04 L1034.46,1446.22 L1030.06,1438.64 L1025.66,1431.36 L1021.26,1424.47 L1016.87,1418.01 L1012.47,1412.06 L1008.07,1406.64 L1003.67,1401.80 L999.28,1397.56 L994.88,1393.95 L990.48,1390.95 L986.09,1388.56 L981.69,1386.74 L977.29,1385.45 L972.89,1384.62 L968.50,1384.17 L964.10,1384.00 L959.70,1383.97 Z" fill="#3e76b2" fill-opacity="0.30"/>
<path d="M959.70,1393.08 L964.10,1393.10 L968.50,1393.27 L972.89,1393.69 L977.29,1394.47 L981.69,1395.70 L986.09,1397.42 L990.48,1399.68 L994.88,1402.52 L999.28,1405.95 L1003.67,1409.96 L1008.07,1414.54 L1012.47,1419.67 L1016.87,1425.32 L1021.26,1431.43 L1025.66,1437.96 L1030.06,1444.85 L1034.46,1452.03 L1038.86,1459.43 L1043.25,1466.99 L1047.65,1474.62 L1052.05,1482.25 L1056.44,1489.81 L1060.84,1497.22 L1065.24,1504.40 L1069.64,1511.28 L1074.03,1517.81 L1078.43,1523.93 L1082.83,1529.57 L1087.23,1534.70 L1091.62,1539.29 L1096.02,1543.30 L1100.42,1546.72 L1104.82,1549.56 L1109.21,1551.83 L1113.61,1553.55 L1118.01,1554.77 L1122.41,1555.56 L1126.80,1555.98 L1131.20,1556.14 L1135.60,1556.17 L1135.60,1560.73 L1131.20,1560.71 L1126.80,1560.54 L1122.41,1560.12 L1118.01,1559.34 L1113.61,1558.11 L1109.21,1556.39 L1104.82,1554.13 L1100.42,1551.29 L1096.02,1547.86 L1091.62,1543.85 L1087.23,1539.27 L1082.83,1534.14 L1078.43,1528.49 L1074.03,1522.38 L1069.64,1515.85 L1065.24,1508.96 L1060.84,1501.78 L1056.44,1494.37 L1052.05,1486.82 L1047.65,1479.19 L1043.25,1471.55 L1038.86,1464.00 L1034.46,1456.59 L1030.06,1449.41 L1025.66,1442.53 L1021.26,1436.00 L1016.87,1429.88 L1012.47,1424.24 L1008.07,1419.11 L1003.67,1414.52 L999.28,1410.51 L994.88,1407.09 L990.48,1404.25 L986.09,1401.98 L981.69,1400.26 L977.29,1399.04 L972.89,1398.25 L968.50,1397.83 L964.10,1397.67 L959.70,1397.64 Z" fill="#3e76b2" fill-opacity="0.30"/>
<path d="M959.70,1404.14 L964.10,1404.13 L968.50,1404.02 L972.89,1403.75 L977.29,1403.26 L981.69,1402.48 L986.09,1401.39 L990.48,1399.95 L994.88,1398.14 L999.28,1395.97 L1003.67,1393.42 L1008.07,1390.51 L1012.47,1387.26 L1016.87,1383.67 L1021.26,1379.79 L1025.66,1375.65 L1030.06,1371.27 L1034.46,1366.72 L1038.86,1362.01 L1043.25,1357.22 L1047.65,1352.37 L1052.05,1347.53 L1056.44,1342.73 L1060.84,1338.03 L1065.24,1333.47 L1069.64,1329.10 L1074.03,1324.95 L1078.43,1321.07 L1082.83,1317.49 L1087.23,1314.23 L1091.62,1311.32 L1096.02,1308.78 L1100.42,1306.60 L1104.82,1304.80 L1109.21,1303.36 L1113.61,1302.27 L1118.01,1301.49 L1122.41,1300.99 L1126.80,1300.72 L1131.20,1300.62 L1135.60,1300.60 L1135.60,1452.52 L1131.20,1452.54 L1126.80,1452.64 L1122.41,1452.91 L1118.01,1453.41 L1113.61,1454.18 L1109.21,1455.28 L1104.82,1456.71 L1100.42,1458.52 L1096.02,1460.69 L1091.62,1463.24 L1087.23,1466.15 L1082.83,1469.40 L1078.43,1472.99 L1074.03,1476.87 L1069.64,1481.01 L1065.24,1485.39 L1060.84,1489.95 L1056.44,1494.65 L1052.05,1499.44 L1047.65,1504.29 L1043.25,1509.13 L1038.86,1513.93 L1034.46,1518.63 L1030.06,1523.19 L1025.66,1527.56 L1021.26,1531.71 L1016.87,1535.59 L1012.47,1539.17 L1008.07,1542.43 L1003.67,1545.34 L999.28,1547.89 L994.88,1550.06 L990.48,1551.86 L986.09,1553.30 L981.69,1554.40 L977.29,1555.17 L972.89,1555.67 L968.50,1555.94 L964.10,1556.04 L959.70,1556.06 Z" fill="#5594c0" fill-opacity="0.30"/>
<path d="M959.70,1574.29 L964.10,1574.29 L968.50,1574.28 L972.89,1574.24 L977.29,1574.18 L981.69,1574.08 L986.09,1573.93 L990.48,1573.74 L994.88,1573.51 L999.28,1573.22 L1003.67,1572.89 L1008.07,1572.51 L1012.47,1572.08 L1016.87,1571.61 L1021.26,1571.10 L1025.66,1570.56 L1030.06,1569.99 L1034.46,1569.39 L1038.86,1568.78 L1043.25,1568.15 L1047.65,1567.51 L1052.05,1566.88 L1056.44,1566.25 L1060.84,1565.63 L1065.24,1565.04 L1069.64,1564.46 L1074.03,1563.92 L1078.43,1563.41 L1082.83,1562.94 L1087.23,1562.52 L1091.62,1562.14 L1096.02,1561.80 L1100.42,1561.52 L1104.82,1561.28 L1109.21,1561.09 L1113.61,1560.95 L1118.01,1560.85 L1122.41,1560.78 L1126.80,1560.75 L1131.20,1560.73 L1135.60,1560.73 L1135.60,1584.86 L1131.20,1584.86 L1126.80,1584.87 L1122.41,1584.91 L1118.01,1584.97 L1113.61,1585.07 L1109.21,1585.22 L1104.82,1585.41 L1100.42,1585.64 L1096.02,1585.93 L1091.62,1586.26 L1087.23,1586.64 L1082.83,1587.07 L1078.43,1587.54 L1074.03,1588.05 L1069.64,1588.59 L1065.24,1589.16 L1060.84,1589.76 L1056.44,1590.37 L1052.05,1591.00 L1047.65,1591.64 L1043.25,1592.27 L1038.86,1592.90 L1034.46,1593.52 L1030.06,1594.11 L1025.66,1594.69 L1021.26,1595.23 L1016.87,1595.74 L1012.47,1596.21 L1008.07,1596.63 L1003.67,1597.01 L999.28,1597.35 L994.88,1597.63 L990.48,1597.87 L986.09,1598.06 L981.69,1598.20 L977.29,1598.30 L972.89,1598.37 L968.50,1598.40 L964.10,1598.42 L959.70,1598.42 Z" fill="#3e76b2" fill-opacity="0.30"/>
<path d="M1154.80,1276.52 L1159.19,1276.56 L1163.59,1276.85 L1167.98,1277.59 L1172.38,1278.96 L1176.77,1281.09 L1181.17,1284.10 L1185.57,1288.06 L1189.96,1293.02 L1194.36,1299.00 L1198.75,1306.00 L1203.14,1314.01 L1207.54,1322.97 L1211.93,1332.82 L1216.33,1343.50 L1220.72,1354.90 L1225.12,1366.93 L1229.51,1379.47 L1233.91,1392.40 L1238.30,1405.59 L1242.70,1418.92 L1247.10,1432.25 L1251.49,1445.44 L1255.88,1458.38 L1260.28,1470.92 L1264.67,1482.94 L1269.07,1494.35 L1273.46,1505.02 L1277.86,1514.88 L1282.25,1523.84 L1286.65,1531.84 L1291.04,1538.85 L1295.44,1544.83 L1299.84,1549.79 L1304.23,1553.74 L1308.62,1556.75 L1313.02,1558.89 L1317.41,1560.25 L1321.81,1560.99 L1326.20,1561.28 L1330.60,1561.32 L1330.60,1568.50 L1326.20,1568.45 L1321.81,1568.17 L1317.41,1567.43 L1313.02,1566.06 L1308.62,1563.92 L1304.23,1560.92 L1299.84,1556.96 L1295.44,1552.00 L1291.04,1546.02 L1286.65,1539.01 L1282.25,1531.01 L1277.86,1522.05 L1273.46,1512.19 L1269.07,1501.52 L1264.67,1490.12 L1260.28,1478.09 L1255.88,1465.55 L1251.49,1452.62 L1247.10,1439.42 L1242.70,1426.09 L1238.30,1412.77 L1233.91,1399.57 L1229.51,1386.64 L1225.12,1374.10 L1220.72,1362.07 L1216.33,1350.67 L1211.93,1339.99 L1207.54,1330.14 L1203.14,1321.18 L1198.75,1313.17 L1194.36,1306.17 L1189.96,1300.19 L1185.57,1295.23 L1181.17,1291.27 L1176.77,1288.26 L1172.38,1286.13 L1167.98,1284.76 L1163.59,1284.02 L1159.19,1283.73 L1154.80,1283.69 Z" fill="#2f2c5e"/>
<path d="M1154.80,1431.00 L1159.19,1431.02 L1163.59,1431.16 L1167.98,1431.52 L1172.38,1432.18 L1176.77,1433.21 L1181.17,1434.66 L1185.57,1436.57 L1189.96,1438.97 L1194.36,1441.86 L1198.75,1445.24 L1203.14,1449.10 L1207.54,1453.43 L1211.93,1458.18 L1216.33,1463.34 L1220.72,1468.84 L1225.12,1474.65 L1229.51,1480.70 L1233.91,1486.95 L1238.30,1493.32 L1242.70,1499.75 L1247.10,1506.18 L1251.49,1512.55 L1255.88,1518.80 L1260.28,1524.85 L1264.67,1530.66 L1269.07,1536.16 L1273.46,1541.32 L1277.86,1546.07 L1282.25,1550.40 L1286.65,1554.26 L1291.04,1557.64 L1295.44,1560.53 L1299.84,1562.93 L1304.23,1564.84 L1308.62,1566.29 L1313.02,1567.32 L1317.41,1567.98 L1321.81,1568.34 L1326.20,1568.48 L1330.60,1568.50 L1330.60,1590.01 L1326.20,1589.99 L1321.81,1589.85 L1317.41,1589.50 L1313.02,1588.84 L1308.62,1587.80 L1304.23,1586.35 L1299.84,1584.44 L1295.44,1582.05 L1291.04,1579.16 L1286.65,1575.78 L1282.25,1571.92 L1277.86,1567.59 L1273.46,1562.83 L1269.07,1557.68 L1264.67,1552.17 L1260.28,1546.37 L1255.88,1540.31 L1251.49,1534.07 L1247.10,1527.70 L1242.70,1521.27 L1238.30,1514.83 L1233.91,1508.46 L1229.51,1502.22 L1225.12,1496.17 L1220.72,1490.36 L1216.33,1484.85 L1211.93,1479.70 L1207.54,1474.94 L1203.14,1470.62 L1198.75,1466.75 L1194.36,1463.37 L1189.96,1460.48 L1185.57,1458.09 L1181.17,1456.18 L1176.77,1454.73 L1172.38,1453.70 L1167.98,1453.04 L1163.59,1452.68 L1159.19,1452.54 L1154.80,1452.52 Z" fill="#2f2c5e"/>
<path d="M1154.80,1562.80 L1159.19,1562.81 L1163.59,1562.83 L1167.98,1562.90 L1172.38,1563.04 L1176.77,1563.24 L1181.17,1563.53 L1185.57,1563.90 L1189.96,1564.38 L1194.36,1564.95 L1198.75,1565.62 L1203.14,1566.38 L1207.54,1567.24 L1211.93,1568.18 L1216.33,1569.20 L1220.72,1570.29 L1225.12,1571.44 L1229.51,1572.64 L1233.91,1573.87 L1238.30,1575.13 L1242.70,1576.41 L1247.10,1577.68 L1251.49,1578.94 L1255.88,1580.18 L1260.28,1581.37 L1264.67,1582.52 L1269.07,1583.61 L1273.46,1584.63 L1277.86,1585.57 L1282.25,1586.43 L1286.65,1587.20 L1291.04,1587.86 L1295.44,1588.44 L1299.84,1588.91 L1304.23,1589.29 L1308.62,1589.58 L1313.02,1589.78 L1317.41,1589.91 L1321.81,1589.98 L1326.20,1590.01 L1330.60,1590.01 L1330.60,1612.18 L1326.20,1612.18 L1321.81,1612.15 L1317.41,1612.08 L1313.02,1611.95 L1308.62,1611.74 L1304.23,1611.45 L1299.84,1611.07 L1295.44,1610.60 L1291.04,1610.02 L1286.65,1609.35 L1282.25,1608.58 L1277.86,1607.72 L1273.46,1606.78 L1269.07,1605.75 L1264.67,1604.66 L1260.28,1603.51 L1255.88,1602.30 L1251.49,1601.06 L1247.10,1599.80 L1242.70,1598.52 L1238.30,1597.24 L1233.91,1595.97 L1229.51,1594.73 L1225.12,1593.53 L1220.72,1592.38 L1216.33,1591.28 L1211.93,1590.26 L1207.54,1589.31 L1203.14,1588.45 L1198.75,1587.68 L1194.36,1587.01 L1189.96,1586.44 L1185.57,1585.96 L1181.17,1585.58 L1176.77,1585.29 L1172.38,1585.09 L1167.98,1584.96 L1163.59,1584.89 L1159.19,1584.86 L1154.80,1584.86 Z" fill="#2f2c5e"/>
<path d="M1154.80,1605.14 L1159.19,1605.14 L1163.59,1605.14 L1167.98,1605.16 L1172.38,1605.20 L1176.77,1605.25 L1181.17,1605.32 L1185.57,1605.42 L1189.96,1605.54 L1194.36,1605.69 L1198.75,1605.87 L1203.14,1606.06 L1207.54,1606.29 L1211.93,1606.53 L1216.33,1606.79 L1220.72,1607.08 L1225.12,1607.37 L1229.51,1607.68 L1233.91,1608.00 L1238.30,1608.33 L1242.70,1608.66 L1247.10,1608.99 L1251.49,1609.31 L1255.88,1609.63 L1260.28,1609.94 L1264.67,1610.24 L1269.07,1610.52 L1273.46,1610.79 L1277.86,1611.03 L1282.25,1611.25 L1286.65,1611.45 L1291.04,1611.62 L1295.44,1611.77 L1299.84,1611.89 L1304.23,1611.99 L1308.62,1612.07 L1313.02,1612.12 L1317.41,1612.15 L1321.81,1612.17 L1326.20,1612.18 L1330.60,1612.18 L1330.60,1618.70 L1326.20,1618.70 L1321.81,1618.69 L1317.41,1618.68 L1313.02,1618.64 L1308.62,1618.60 L1304.23,1618.53 L1299.84,1618.44 L1295.44,1618.32 L1291.04,1618.19 L1286.65,1618.03 L1282.25,1617.84 L1277.86,1617.64 L1273.46,1617.42 L1269.07,1617.17 L1264.67,1616.91 L1260.28,1616.64 L1255.88,1616.35 L1251.49,1616.06 L1247.10,1615.75 L1242.70,1615.45 L1238.30,1615.15 L1233.91,1614.84 L1229.51,1614.55 L1225.12,1614.26 L1220.72,1613.99 L1216.33,1613.73 L1211.93,1613.48 L1207.54,1613.26 L1203.14,1613.06 L1198.75,1612.87 L1194.36,1612.71 L1189.96,1612.58 L1185.57,1612.46 L1181.17,1612.37 L1176.77,1612.30 L1172.38,1612.26 L1167.98,1612.22 L1163.59,1612.21 L1159.19,1612.20 L1154.80,1612.20 Z" fill="#2f2c5e"/>
<path d="M1154.80,1252.72 L1159.19,1252.76 L1163.59,1252.98 L1167.98,1253.56 L1172.38,1254.64 L1176.77,1256.32 L1181.17,1258.69 L1185.57,1261.80 L1189.96,1265.71 L1194.36,1270.42 L1198.75,1275.93 L1203.14,1282.23 L1207.54,1289.28 L1211.93,1297.04 L1216.33,1305.44 L1220.72,1314.42 L1225.12,1323.89 L1229.51,1333.76 L1233.91,1343.94 L1238.30,1354.32 L1242.70,1364.82 L1247.10,1375.31 L1251.49,1385.69 L1255.88,1395.87 L1260.28,1405.74 L1264.67,1415.21 L1269.07,1424.19 L1273.46,1432.59 L1277.86,1440.35 L1282.25,1447.40 L1286.65,1453.70 L1291.04,1459.22 L1295.44,1463.93 L1299.84,1467.83 L1304.23,1470.94 L1308.62,1473.31 L1313.02,1474.99 L1317.41,1476.07 L1321.81,1476.65 L1326.20,1476.88 L1330.60,1476.91 L1330.60,1500.71 L1326.20,1500.67 L1321.81,1500.45 L1317.41,1499.87 L1313.02,1498.79 L1308.62,1497.11 L1304.23,1494.74 L1299.84,1491.63 L1295.44,1487.72 L1291.04,1483.01 L1286.65,1477.50 L1282.25,1471.20 L1277.86,1464.15 L1273.46,1456.39 L1269.07,1447.99 L1264.67,1439.01 L1260.28,1429.54 L1255.88,1419.67 L1251.49,1409.49 L1247.10,1399.11 L1242.70,1388.61 L1238.30,1378.12 L1233.91,1367.74 L1229.51,1357.56 L1225.12,1347.69 L1220.72,1338.22 L1216.33,1329.24 L1211.93,1320.84 L1207.54,1313.08 L1203.14,1306.03 L1198.75,1299.73 L1194.36,1294.21 L1189.96,1289.50 L1185.57,1285.60 L1181.17,1282.49 L1176.77,1280.12 L1172.38,1278.44 L1167.98,1277.36 L1163.59,1276.78 L1159.19,1276.55 L1154.80,1276.52 Z" fill="#3d4189"/>
<path d="M1154.80,1290.19 L1159.19,1290.22 L1163.59,1290.44 L1167.98,1290.98 L1172.38,1291.99 L1176.77,1293.57 L1181.17,1295.79 L1185.57,1298.72 L1189.96,1302.39 L1194.36,1306.81 L1198.75,1311.98 L1203.14,1317.90 L1207.54,1324.52 L1211.93,1331.81 L1216.33,1339.70 L1220.72,1348.13 L1225.12,1357.02 L1229.51,1366.29 L1233.91,1375.85 L1238.30,1385.60 L1242.70,1395.45 L1247.10,1405.30 L1251.49,1415.05 L1255.88,1424.61 L1260.28,1433.88 L1264.67,1442.77 L1269.07,1451.20 L1273.46,1459.09 L1277.86,1466.38 L1282.25,1473.00 L1286.65,1478.92 L1291.04,1484.09 L1295.44,1488.51 L1299.84,1492.18 L1304.23,1495.11 L1308.62,1497.33 L1313.02,1498.91 L1317.41,1499.92 L1321.81,1500.46 L1326.20,1500.68 L1330.60,1500.71 L1330.60,1502.01 L1326.20,1501.98 L1321.81,1501.77 L1317.41,1501.22 L1313.02,1500.21 L1308.62,1498.63 L1304.23,1496.41 L1299.84,1493.48 L1295.44,1489.82 L1291.04,1485.40 L1286.65,1480.22 L1282.25,1474.30 L1277.86,1467.68 L1273.46,1460.40 L1269.07,1452.51 L1264.67,1444.08 L1260.28,1435.19 L1255.88,1425.92 L1251.49,1416.36 L1247.10,1406.61 L1242.70,1396.75 L1238.30,1386.90 L1233.91,1377.15 L1229.51,1367.59 L1225.12,1358.32 L1220.72,1349.43 L1216.33,1341.00 L1211.93,1333.11 L1207.54,1325.83 L1203.14,1319.20 L1198.75,1313.29 L1194.36,1308.11 L1189.96,1303.69 L1185.57,1300.02 L1181.17,1297.10 L1176.77,1294.88 L1172.38,1293.30 L1167.98,1292.29 L1163.59,1291.74 L1159.19,1291.53 L1154.80,1291.50 Z" fill="#3d4189"/>
<path d="M1154.80,1400.36 L1159.19,1400.38 L1163.59,1400.48 L1167.98,1400.74 L1172.38,1401.23 L1176.77,1401.99 L1181.17,1403.07 L1185.57,1404.48 L1189.96,1406.25 L1194.36,1408.38 L1198.75,1410.88 L1203.14,1413.74 L1207.54,1416.94 L1211.93,1420.46 L1216.33,1424.27 L1220.72,1428.34 L1225.12,1432.63 L1229.51,1437.10 L1233.91,1441.72 L1238.30,1446.43 L1242.70,1451.19 L1247.10,1455.94 L1251.49,1460.65 L1255.88,1465.27 L1260.28,1469.74 L1264.67,1474.04 L1269.07,1478.11 L1273.46,1481.92 L1277.86,1485.43 L1282.25,1488.63 L1286.65,1491.49 L1291.04,1493.99 L1295.44,1496.12 L1299.84,1497.89 L1304.23,1499.31 L1308.62,1500.38 L1313.02,1501.14 L1317.41,1501.63 L1321.81,1501.89 L1326.20,1502.00 L1330.60,1502.01 L1330.60,1532.66 L1326.20,1532.64 L1321.81,1532.54 L1317.41,1532.27 L1313.02,1531.79 L1308.62,1531.02 L1304.23,1529.95 L1299.84,1528.54 L1295.44,1526.77 L1291.04,1524.63 L1286.65,1522.13 L1282.25,1519.28 L1277.86,1516.08 L1273.46,1512.56 L1269.07,1508.75 L1264.67,1504.68 L1260.28,1500.39 L1255.88,1495.91 L1251.49,1491.30 L1247.10,1486.59 L1242.70,1481.83 L1238.30,1477.07 L1233.91,1472.36 L1229.51,1467.75 L1225.12,1463.27 L1220.72,1458.98 L1216.33,1454.91 L1211.93,1451.10 L1207.54,1447.58 L1203.14,1444.38 L1198.75,1441.53 L1194.36,1439.03 L1189.96,1436.89 L1185.57,1435.12 L1181.17,1433.71 L1176.77,1432.64 L1172.38,1431.87 L1167.98,1431.39 L1163.59,1431.12 L1159.19,1431.02 L1154.80,1431.00 Z" fill="#3d4189"/>
<path d="M1154.80,1547.88 L1159.19,1547.88 L1163.59,1547.87 L1167.98,1547.83 L1172.38,1547.75 L1176.77,1547.64 L1181.17,1547.48 L1185.57,1547.27 L1189.96,1547.00 L1194.36,1546.68 L1198.75,1546.31 L1203.14,1545.88 L1207.54,1545.40 L1211.93,1544.87 L1216.33,1544.30 L1220.72,1543.69 L1225.12,1543.05 L1229.51,1542.38 L1233.91,1541.69 L1238.30,1540.98 L1242.70,1540.27 L1247.10,1539.56 L1251.49,1538.85 L1255.88,1538.16 L1260.28,1537.49 L1264.67,1536.85 L1269.07,1536.24 L1273.46,1535.67 L1277.86,1535.14 L1282.25,1534.66 L1286.65,1534.23 L1291.04,1533.86 L1295.44,1533.54 L1299.84,1533.27 L1304.23,1533.06 L1308.62,1532.90 L1313.02,1532.79 L1317.41,1532.71 L1321.81,1532.67 L1326.20,1532.66 L1330.60,1532.66 L1330.60,1547.65 L1326.20,1547.65 L1321.81,1547.67 L1317.41,1547.71 L1313.02,1547.78 L1308.62,1547.90 L1304.23,1548.06 L1299.84,1548.27 L1295.44,1548.53 L1291.04,1548.85 L1286.65,1549.22 L1282.25,1549.65 L1277.86,1550.12 L1273.46,1550.65 L1269.07,1551.21 L1264.67,1551.82 L1260.28,1552.46 L1255.88,1553.13 L1251.49,1553.82 L1247.10,1554.52 L1242.70,1555.23 L1238.30,1555.94 L1233.91,1556.64 L1229.51,1557.33 L1225.12,1557.99 L1220.72,1558.63 L1216.33,1559.24 L1211.93,1559.81 L1207.54,1560.33 L1203.14,1560.81 L1198.75,1561.23 L1194.36,1561.61 L1189.96,1561.92 L1185.57,1562.19 L1181.17,1562.40 L1176.77,1562.56 L1172.38,1562.67 L1167.98,1562.75 L1163.59,1562.78 L1159.19,1562.80 L1154.80,1562.80 Z" fill="#3d4189"/>
<path d="M1154.80,1591.36 L1159.19,1591.35 L1163.59,1591.31 L1167.98,1591.19 L1172.38,1590.98 L1176.77,1590.65 L1181.17,1590.19 L1185.57,1589.59 L1189.96,1588.82 L1194.36,1587.91 L1198.75,1586.83 L1203.14,1585.60 L1207.54,1584.23 L1211.93,1582.72 L1216.33,1581.08 L1220.72,1579.33 L1225.12,1577.48 L1229.51,1575.56 L1233.91,1573.57 L1238.30,1571.55 L1242.70,1569.50 L1247.10,1567.46 L1251.49,1565.43 L1255.88,1563.45 L1260.28,1561.53 L1264.67,1559.68 L1269.07,1557.93 L1273.46,1556.29 L1277.86,1554.78 L1282.25,1553.40 L1286.65,1552.18 L1291.04,1551.10 L1295.44,1550.18 L1299.84,1549.42 L1304.23,1548.82 L1308.62,1548.35 L1313.02,1548.03 L1317.41,1547.82 L1321.81,1547.70 L1326.20,1547.66 L1330.60,1547.65 L1330.60,1553.52 L1326.20,1553.53 L1321.81,1553.57 L1317.41,1553.68 L1313.02,1553.89 L1308.62,1554.22 L1304.23,1554.68 L1299.84,1555.29 L1295.44,1556.05 L1291.04,1556.97 L1286.65,1558.04 L1282.25,1559.27 L1277.86,1560.65 L1273.46,1562.16 L1269.07,1563.80 L1264.67,1565.55 L1260.28,1567.39 L1255.88,1569.32 L1251.49,1571.30 L1247.10,1573.33 L1242.70,1575.37 L1238.30,1577.42 L1233.91,1579.44 L1229.51,1581.43 L1225.12,1583.35 L1220.72,1585.20 L1216.33,1586.95 L1211.93,1588.58 L1207.54,1590.10 L1203.14,1591.47 L1198.75,1592.70 L1194.36,1593.77 L1189.96,1594.69 L1185.57,1595.45 L1181.17,1596.06 L1176.77,1596.52 L1172.38,1596.85 L1167.98,1597.06 L1163.59,1597.17 L1159.19,1597.22 L1154.80,1597.22 Z" fill="#3d4189"/>
<path d="M1154.80,1603.72 L1159.19,1603.72 L1163.59,1603.67 L1167.98,1603.54 L1172.38,1603.29 L1176.77,1602.92 L1181.17,1602.39 L1185.57,1601.69 L1189.96,1600.82 L1194.36,1599.76 L1198.75,1598.53 L1203.14,1597.12 L1207.54,1595.54 L1211.93,1593.80 L1216.33,1591.92 L1220.72,1589.91 L1225.12,1587.79 L1229.51,1585.58 L1233.91,1583.30 L1238.30,1580.97 L1242.70,1578.62 L1247.10,1576.27 L1251.49,1573.95 L1255.88,1571.67 L1260.28,1569.46 L1264.67,1567.34 L1269.07,1565.33 L1273.46,1563.44 L1277.86,1561.71 L1282.25,1560.13 L1286.65,1558.72 L1291.04,1557.48 L1295.44,1556.43 L1299.84,1555.55 L1304.23,1554.86 L1308.62,1554.33 L1313.02,1553.95 L1317.41,1553.71 L1321.81,1553.58 L1326.20,1553.53 L1330.60,1553.52 L1330.60,1554.82 L1326.20,1554.83 L1321.81,1554.88 L1317.41,1555.01 L1313.02,1555.25 L1308.62,1555.63 L1304.23,1556.16 L1299.84,1556.86 L1295.44,1557.74 L1291.04,1558.79 L1286.65,1560.03 L1282.25,1561.45 L1277.86,1563.03 L1273.46,1564.77 L1269.07,1566.66 L1264.67,1568.67 L1260.28,1570.80 L1255.88,1573.01 L1251.49,1575.29 L1247.10,1577.63 L1242.70,1579.98 L1238.30,1582.33 L1233.91,1584.67 L1229.51,1586.95 L1225.12,1589.17 L1220.72,1591.29 L1216.33,1593.30 L1211.93,1595.19 L1207.54,1596.93 L1203.14,1598.51 L1198.75,1599.93 L1194.36,1601.17 L1189.96,1602.22 L1185.57,1603.10 L1181.17,1603.80 L1176.77,1604.33 L1172.38,1604.71 L1167.98,1604.95 L1163.59,1605.08 L1159.19,1605.13 L1154.80,1605.14 Z" fill="#3d4189"/>
<path d="M1154.80,927.70 L1159.19,927.70 L1163.59,927.70 L1167.98,927.70 L1172.38,927.70 L1176.77,927.70 L1181.17,927.70 L1185.57,927.70 L1189.96,927.70 L1194.36,927.70 L1198.75,927.70 L1203.14,927.70 L1207.54,927.70 L1211.93,927.70 L1216.33,927.70 L1220.72,927.70 L1225.12,927.70 L1229.51,927.70 L1233.91,927.70 L1238.30,927.70 L1242.70,927.70 L1247.10,927.70 L1251.49,927.70 L1255.88,927.70 L1260.28,927.70 L1264.67,927.70 L1269.07,927.70 L1273.46,927.70 L1277.86,927.70 L1282.25,927.70 L1286.65,927.70 L1291.04,927.70 L1295.44,927.70 L1299.84,927.70 L1304.23,927.70 L1308.62,927.70 L1313.02,927.70 L1317.41,927.70 L1321.81,927.70 L1326.20,927.70 L1330.60,927.70 L1330.60,1071.14 L1326.20,1071.14 L1321.81,1071.14 L1317.41,1071.14 L1313.02,1071.14 L1308.62,1071.14 L1304.23,1071.14 L1299.84,1071.14 L1295.44,1071.14 L1291.04,1071.14 L1286.65,1071.14 L1282.25,1071.14 L1277.86,1071.14 L1273.46,1071.14 L1269.07,1071.14 L1264.67,1071.14 L1260.28,1071.14 L1255.88,1071.14 L1251.49,1071.14 L1247.10,1071.14 L1242.70,1071.14 L1238.30,1071.14 L1233.91,1071.14 L1229.51,1071.14 L1225.12,1071.14 L1220.72,1071.14 L1216.33,1071.14 L1211.93,1071.14 L1207.54,1071.14 L1203.14,1071.14 L1198.75,1071.14 L1194.36,1071.14 L1189.96,1071.14 L1185.57,1071.14 L1181.17,1071.14 L1176.77,1071.14 L1172.38,1071.14 L1167.98,1071.14 L1163.59,1071.14 L1159.19,1071.14 L1154.80,1071.14 Z" fill="#cacac3" fill-opacity="0.30"/>
<path d="M1154.80,1071.14 L1159.19,1071.14 L1163.59,1071.15 L1167.98,1071.16 L1172.38,1071.20 L1176.77,1071.24 L1181.17,1071.31 L1185.57,1071.40 L1189.96,1071.52 L1194.36,1071.65 L1198.75,1071.81 L1203.14,1072.00 L1207.54,1072.20 L1211.93,1072.42 L1216.33,1072.67 L1220.72,1072.93 L1225.12,1073.20 L1229.51,1073.49 L1233.91,1073.78 L1238.30,1074.09 L1242.70,1074.39 L1247.10,1074.69 L1251.49,1075.00 L1255.88,1075.29 L1260.28,1075.58 L1264.67,1075.85 L1269.07,1076.11 L1273.46,1076.36 L1277.86,1076.58 L1282.25,1076.78 L1286.65,1076.97 L1291.04,1077.13 L1295.44,1077.26 L1299.84,1077.38 L1304.23,1077.47 L1308.62,1077.54 L1313.02,1077.58 L1317.41,1077.62 L1321.81,1077.63 L1326.20,1077.64 L1330.60,1077.64 L1330.60,1101.76 L1326.20,1101.76 L1321.81,1101.76 L1317.41,1101.74 L1313.02,1101.71 L1308.62,1101.66 L1304.23,1101.59 L1299.84,1101.50 L1295.44,1101.39 L1291.04,1101.25 L1286.65,1101.09 L1282.25,1100.91 L1277.86,1100.70 L1273.46,1100.48 L1269.07,1100.24 L1264.67,1099.98 L1260.28,1099.70 L1255.88,1099.41 L1251.49,1099.12 L1247.10,1098.82 L1242.70,1098.51 L1238.30,1098.21 L1233.91,1097.91 L1229.51,1097.61 L1225.12,1097.33 L1220.72,1097.05 L1216.33,1096.79 L1211.93,1096.55 L1207.54,1096.32 L1203.14,1096.12 L1198.75,1095.94 L1194.36,1095.78 L1189.96,1095.64 L1185.57,1095.53 L1181.17,1095.44 L1176.77,1095.37 L1172.38,1095.32 L1167.98,1095.29 L1163.59,1095.27 L1159.19,1095.26 L1154.80,1095.26 Z" fill="#6cacc6" fill-opacity="0.30"/>
<path d="M1154.80,1095.26 L1159.19,1095.28 L1163.59,1095.41 L1167.98,1095.72 L1172.38,1096.31 L1176.77,1097.22 L1181.17,1098.51 L1185.57,1100.20 L1189.96,1102.32 L1194.36,1104.88 L1198.75,1107.88 L1203.14,1111.30 L1207.54,1115.14 L1211.93,1119.35 L1216.33,1123.92 L1220.72,1128.80 L1225.12,1133.95 L1229.51,1139.31 L1233.91,1144.85 L1238.30,1150.49 L1242.70,1156.20 L1247.10,1161.90 L1251.49,1167.54 L1255.88,1173.08 L1260.28,1178.44 L1264.67,1183.59 L1269.07,1188.47 L1273.46,1193.04 L1277.86,1197.25 L1282.25,1201.09 L1286.65,1204.51 L1291.04,1207.51 L1295.44,1210.07 L1299.84,1212.19 L1304.23,1213.88 L1308.62,1215.17 L1313.02,1216.08 L1317.41,1216.67 L1321.81,1216.99 L1326.20,1217.11 L1330.60,1217.13 L1330.60,1267.98 L1326.20,1267.97 L1321.81,1267.84 L1317.41,1267.53 L1313.02,1266.94 L1308.62,1266.03 L1304.23,1264.74 L1299.84,1263.05 L1295.44,1260.93 L1291.04,1258.37 L1286.65,1255.37 L1282.25,1251.94 L1277.86,1248.11 L1273.46,1243.89 L1269.07,1239.33 L1264.67,1234.45 L1260.28,1229.30 L1255.88,1223.93 L1251.49,1218.40 L1247.10,1212.75 L1242.70,1207.05 L1238.30,1201.35 L1233.91,1195.70 L1229.51,1190.17 L1225.12,1184.80 L1220.72,1179.66 L1216.33,1174.78 L1211.93,1170.21 L1207.54,1165.99 L1203.14,1162.16 L1198.75,1158.73 L1194.36,1155.74 L1189.96,1153.18 L1185.57,1151.06 L1181.17,1149.36 L1176.77,1148.08 L1172.38,1147.16 L1167.98,1146.58 L1163.59,1146.26 L1159.19,1146.14 L1154.80,1146.12 Z" fill="#3e76b2" fill-opacity="0.30"/>
<path d="M1154.80,1146.12 L1159.19,1146.15 L1163.59,1146.37 L1167.98,1146.94 L1172.38,1147.98 L1176.77,1149.61 L1181.17,1151.91 L1185.57,1154.94 L1189.96,1158.73 L1194.36,1163.30 L1198.75,1168.65 L1203.14,1174.77 L1207.54,1181.62 L1211.93,1189.15 L1216.33,1197.31 L1220.72,1206.03 L1225.12,1215.22 L1229.51,1224.81 L1233.91,1234.69 L1238.30,1244.78 L1242.70,1254.96 L1247.10,1265.15 L1251.49,1275.24 L1255.88,1285.12 L1260.28,1294.71 L1264.67,1303.90 L1269.07,1312.61 L1273.46,1320.77 L1277.86,1328.31 L1282.25,1335.16 L1286.65,1341.27 L1291.04,1346.63 L1295.44,1351.20 L1299.84,1354.99 L1304.23,1358.01 L1308.62,1360.31 L1313.02,1361.94 L1317.41,1362.99 L1321.81,1363.56 L1326.20,1363.78 L1330.60,1363.81 L1330.60,1470.41 L1326.20,1470.38 L1321.81,1470.16 L1317.41,1469.59 L1313.02,1468.55 L1308.62,1466.92 L1304.23,1464.62 L1299.84,1461.59 L1295.44,1457.80 L1291.04,1453.23 L1286.65,1447.88 L1282.25,1441.76 L1277.86,1434.91 L1273.46,1427.38 L1269.07,1419.22 L1264.67,1410.50 L1260.28,1401.31 L1255.88,1391.72 L1251.49,1381.84 L1247.10,1371.75 L1242.70,1361.57 L1238.30,1351.38 L1233.91,1341.29 L1229.51,1331.41 L1225.12,1321.82 L1220.72,1312.63 L1216.33,1303.92 L1211.93,1295.76 L1207.54,1288.22 L1203.14,1281.37 L1198.75,1275.26 L1194.36,1269.90 L1189.96,1265.33 L1185.57,1261.54 L1181.17,1258.52 L1176.77,1256.22 L1172.38,1254.59 L1167.98,1253.54 L1163.59,1252.97 L1159.19,1252.75 L1154.80,1252.72 Z" fill="#415cac" fill-opacity="0.30"/>
<path d="M1154.80,1298.00 L1159.19,1297.97 L1163.59,1297.78 L1167.98,1297.28 L1172.38,1296.37 L1176.77,1294.95 L1181.17,1292.95 L1185.57,1290.31 L1189.96,1287.01 L1194.36,1283.02 L1198.75,1278.36 L1203.14,1273.02 L1207.54,1267.05 L1211.93,1260.49 L1216.33,1253.38 L1220.72,1245.78 L1225.12,1237.77 L1229.51,1229.41 L1233.91,1220.80 L1238.30,1212.01 L1242.70,1203.13 L1247.10,1194.25 L1251.49,1185.46 L1255.88,1176.85 L1260.28,1168.49 L1264.67,1160.48 L1269.07,1152.88 L1273.46,1145.77 L1277.86,1139.21 L1282.25,1133.24 L1286.65,1127.90 L1291.04,1123.24 L1295.44,1119.25 L1299.84,1115.95 L1304.23,1113.31 L1308.62,1111.31 L1313.02,1109.89 L1317.41,1108.98 L1321.81,1108.48 L1326.20,1108.29 L1330.60,1108.26 L1330.60,1210.63 L1326.20,1210.66 L1321.81,1210.85 L1317.41,1211.34 L1313.02,1212.25 L1308.62,1213.67 L1304.23,1215.68 L1299.84,1218.31 L1295.44,1221.62 L1291.04,1225.60 L1286.65,1230.27 L1282.25,1235.60 L1277.86,1241.57 L1273.46,1248.14 L1269.07,1255.25 L1264.67,1262.84 L1260.28,1270.86 L1255.88,1279.21 L1251.49,1287.82 L1247.10,1296.62 L1242.70,1305.49 L1238.30,1314.37 L1233.91,1323.16 L1229.51,1331.78 L1225.12,1340.13 L1220.72,1348.14 L1216.33,1355.74 L1211.93,1362.85 L1207.54,1369.42 L1203.14,1375.39 L1198.75,1380.72 L1194.36,1385.39 L1189.96,1389.37 L1185.57,1392.67 L1181.17,1395.31 L1176.77,1397.31 L1172.38,1398.74 L1167.98,1399.65 L1163.59,1400.14 L1159.19,1400.33 L1154.80,1400.36 Z" fill="#5594c0" fill-opacity="0.30"/>
<path d="M1154.80,1459.02 L1159.19,1458.99 L1163.59,1458.80 L1167.98,1458.30 L1172.38,1457.38 L1176.77,1455.95 L1181.17,1453.94 L1185.57,1451.28 L1189.96,1447.96 L1194.36,1443.94 L1198.75,1439.24 L1203.14,1433.88 L1207.54,1427.87 L1211.93,1421.25 L1216.33,1414.09 L1220.72,1406.45 L1225.12,1398.38 L1229.51,1389.97 L1233.91,1381.29 L1238.30,1372.44 L1242.70,1363.50 L1247.10,1354.56 L1251.49,1345.71 L1255.88,1337.04 L1260.28,1328.63 L1264.67,1320.56 L1269.07,1312.91 L1273.46,1305.75 L1277.86,1299.14 L1282.25,1293.13 L1286.65,1287.76 L1291.04,1283.06 L1295.44,1279.05 L1299.84,1275.72 L1304.23,1273.07 L1308.62,1271.05 L1313.02,1269.62 L1317.41,1268.70 L1321.81,1268.21 L1326.20,1268.01 L1330.60,1267.98 L1330.60,1357.31 L1326.20,1357.34 L1321.81,1357.53 L1317.41,1358.02 L1313.02,1358.94 L1308.62,1360.37 L1304.23,1362.38 L1299.84,1365.03 L1295.44,1368.35 L1291.04,1372.35 L1286.65,1377.04 L1282.25,1382.39 L1277.86,1388.39 L1273.46,1394.98 L1269.07,1402.13 L1264.67,1409.76 L1260.28,1417.80 L1255.88,1426.20 L1251.49,1434.85 L1247.10,1443.68 L1242.70,1452.60 L1238.30,1461.51 L1233.91,1470.34 L1229.51,1479.00 L1225.12,1487.39 L1220.72,1495.44 L1216.33,1503.07 L1211.93,1510.21 L1207.54,1516.80 L1203.14,1522.80 L1198.75,1528.16 L1194.36,1532.84 L1189.96,1536.85 L1185.57,1540.16 L1181.17,1542.81 L1176.77,1544.82 L1172.38,1546.25 L1167.98,1547.17 L1163.59,1547.66 L1159.19,1547.85 L1154.80,1547.88 Z" fill="#3e76b2" fill-opacity="0.30"/>
<path d="M1349.80,1271.90 L1366.36,1271.91 L1382.92,1271.99 L1399.49,1272.20 L1416.05,1272.60 L1432.61,1273.21 L1449.17,1274.07 L1465.74,1275.21 L1482.30,1276.63 L1498.86,1278.35 L1515.42,1280.36 L1531.99,1282.65 L1548.55,1285.22 L1565.11,1288.05 L1581.67,1291.12 L1598.24,1294.39 L1614.80,1297.84 L1631.36,1301.44 L1647.92,1305.15 L1664.49,1308.93 L1681.05,1312.76 L1697.61,1316.58 L1714.17,1320.37 L1730.74,1324.08 L1747.30,1327.68 L1763.86,1331.13 L1780.42,1334.40 L1796.99,1337.47 L1813.55,1340.29 L1830.11,1342.87 L1846.67,1345.16 L1863.24,1347.17 L1879.80,1348.89 L1896.36,1350.31 L1912.92,1351.45 L1929.49,1352.31 L1946.05,1352.92 L1962.61,1353.31 L1979.17,1353.53 L1995.74,1353.61 L2012.30,1353.62 L2012.30,1439.03 L1995.74,1439.02 L1979.17,1438.94 L1962.61,1438.73 L1946.05,1438.33 L1929.49,1437.72 L1912.92,1436.86 L1896.36,1435.72 L1879.80,1434.30 L1863.24,1432.58 L1846.67,1430.57 L1830.11,1428.28 L1813.55,1425.71 L1796.99,1422.88 L1780.42,1419.81 L1763.86,1416.54 L1747.30,1413.09 L1730.74,1409.49 L1714.17,1405.78 L1697.61,1402.00 L1681.05,1398.17 L1664.49,1394.35 L1647.92,1390.56 L1631.36,1386.85 L1614.80,1383.25 L1598.24,1379.80 L1581.67,1376.53 L1565.11,1373.46 L1548.55,1370.64 L1531.99,1368.06 L1515.42,1365.77 L1498.86,1363.76 L1482.30,1362.04 L1465.74,1360.62 L1449.17,1359.48 L1432.61,1358.62 L1416.05,1358.01 L1399.49,1357.62 L1382.92,1357.40 L1366.36,1357.32 L1349.80,1357.31 Z" fill="#b03526"/>
<path d="M1349.80,927.70 L1366.36,927.70 L1382.92,927.70 L1399.49,927.70 L1416.05,927.70 L1432.61,927.70 L1449.17,927.70 L1465.74,927.70 L1482.30,927.70 L1498.86,927.70 L1515.42,927.70 L1531.99,927.70 L1548.55,927.70 L1565.11,927.70 L1581.67,927.70 L1598.24,927.70 L1614.80,927.70 L1631.36,927.70 L1647.92,927.70 L1664.49,927.70 L1681.05,927.70 L1697.61,927.70 L1714.17,927.70 L1730.74,927.70 L1747.30,927.70 L1763.86,927.70 L1780.42,927.70 L1796.99,927.70 L1813.55,927.70 L1830.11,927.70 L1846.67,927.70 L1863.24,927.70 L1879.80,927.70 L1896.36,927.70 L1912.92,927.70 L1929.49,927.70 L1946.05,927.70 L1962.61,927.70 L1979.17,927.70 L1995.74,927.70 L2012.30,927.70 L2012.30,962.91 L1995.74,962.91 L1979.17,962.91 L1962.61,962.91 L1946.05,962.91 L1929.49,962.91 L1912.92,962.91 L1896.36,962.91 L1879.80,962.91 L1863.24,962.91 L1846.67,962.91 L1830.11,962.91 L1813.55,962.91 L1796.99,962.91 L1780.42,962.91 L1763.86,962.91 L1747.30,962.91 L1730.74,962.91 L1714.17,962.91 L1697.61,962.91 L1681.05,962.91 L1664.49,962.91 L1647.92,962.91 L1631.36,962.91 L1614.80,962.91 L1598.24,962.91 L1581.67,962.91 L1565.11,962.91 L1548.55,962.91 L1531.99,962.91 L1515.42,962.91 L1498.86,962.91 L1482.30,962.91 L1465.74,962.91 L1449.17,962.91 L1432.61,962.91 L1416.05,962.91 L1399.49,962.91 L1382.92,962.91 L1366.36,962.91 L1349.80,962.91 Z" fill="#cacac3" fill-opacity="0.30"/>
<path d="M1349.80,962.91 L1366.36,962.93 L1382.92,963.11 L1399.49,963.57 L1416.05,964.42 L1432.61,965.74 L1449.17,967.60 L1465.74,970.05 L1482.30,973.12 L1498.86,976.82 L1515.42,981.15 L1531.99,986.11 L1548.55,991.65 L1565.11,997.75 L1581.67,1004.36 L1598.24,1011.42 L1614.80,1018.86 L1631.36,1026.62 L1647.92,1034.63 L1664.49,1042.79 L1681.05,1051.04 L1697.61,1059.29 L1714.17,1067.46 L1730.74,1075.46 L1747.30,1083.22 L1763.86,1090.66 L1780.42,1097.72 L1796.99,1104.33 L1813.55,1110.43 L1830.11,1115.97 L1846.67,1120.93 L1863.24,1125.26 L1879.80,1128.96 L1896.36,1132.03 L1912.92,1134.48 L1929.49,1136.34 L1946.05,1137.67 L1962.61,1138.51 L1979.17,1138.97 L1995.74,1139.15 L2012.30,1139.17 L2012.30,1247.41 L1995.74,1247.38 L1979.17,1247.20 L1962.61,1246.74 L1946.05,1245.90 L1929.49,1244.58 L1912.92,1242.72 L1896.36,1240.27 L1879.80,1237.20 L1863.24,1233.49 L1846.67,1229.16 L1830.11,1224.21 L1813.55,1218.66 L1796.99,1212.56 L1780.42,1205.95 L1763.86,1198.90 L1747.30,1191.45 L1730.74,1183.69 L1714.17,1175.69 L1697.61,1167.52 L1681.05,1159.27 L1664.49,1151.02 L1647.92,1142.86 L1631.36,1134.85 L1614.80,1127.09 L1598.24,1119.65 L1581.67,1112.59 L1565.11,1105.99 L1548.55,1099.89 L1531.99,1094.34 L1515.42,1089.39 L1498.86,1085.05 L1482.30,1081.35 L1465.74,1078.28 L1449.17,1075.83 L1432.61,1073.97 L1416.05,1072.65 L1399.49,1071.80 L1382.92,1071.34 L1366.36,1071.17 L1349.80,1071.14 Z" fill="#d4947d" fill-opacity="0.30"/>
<path d="M1349.80,1077.64 L1366.36,1077.62 L1382.92,1077.51 L1399.49,1077.23 L1416.05,1076.71 L1432.61,1075.90 L1449.17,1074.76 L1465.74,1073.26 L1482.30,1071.37 L1498.86,1069.10 L1515.42,1066.44 L1531.99,1063.39 L1548.55,1059.99 L1565.11,1056.24 L1581.67,1052.19 L1598.24,1047.85 L1614.80,1043.28 L1631.36,1038.52 L1647.92,1033.60 L1664.49,1028.59 L1681.05,1023.52 L1697.61,1018.46 L1714.17,1013.44 L1730.74,1008.53 L1747.30,1003.77 L1763.86,999.19 L1780.42,994.86 L1796.99,990.80 L1813.55,987.06 L1830.11,983.65 L1846.67,980.61 L1863.24,977.95 L1879.80,975.68 L1896.36,973.79 L1912.92,972.29 L1929.49,971.15 L1946.05,970.33 L1962.61,969.81 L1979.17,969.53 L1995.74,969.42 L2012.30,969.41 L2012.30,978.54 L1995.74,978.55 L1979.17,978.66 L1962.61,978.94 L1946.05,979.46 L1929.49,980.27 L1912.92,981.42 L1896.36,982.92 L1879.80,984.80 L1863.24,987.08 L1846.67,989.74 L1830.11,992.78 L1813.55,996.19 L1796.99,999.93 L1780.42,1003.99 L1763.86,1008.32 L1747.30,1012.89 L1730.74,1017.66 L1714.17,1022.57 L1697.61,1027.59 L1681.05,1032.65 L1664.49,1037.72 L1647.92,1042.73 L1631.36,1047.65 L1614.80,1052.41 L1598.24,1056.98 L1581.67,1061.32 L1565.11,1065.37 L1548.55,1069.12 L1531.99,1072.52 L1515.42,1075.56 L1498.86,1078.23 L1482.30,1080.50 L1465.74,1082.38 L1449.17,1083.89 L1432.61,1085.03 L1416.05,1085.84 L1399.49,1086.36 L1382.92,1086.64 L1366.36,1086.75 L1349.80,1086.77 Z" fill="#6cacc6" fill-opacity="0.30"/>
<path d="M1349.80,1108.26 L1366.36,1108.25 L1382.92,1108.12 L1399.49,1107.80 L1416.05,1107.21 L1432.61,1106.29 L1449.17,1104.98 L1465.74,1103.27 L1482.30,1101.13 L1498.86,1098.54 L1515.42,1095.51 L1531.99,1092.04 L1548.55,1088.17 L1565.11,1083.90 L1581.67,1079.28 L1598.24,1074.35 L1614.80,1069.15 L1631.36,1063.72 L1647.92,1058.13 L1664.49,1052.42 L1681.05,1046.65 L1697.61,1040.88 L1714.17,1035.17 L1730.74,1029.58 L1747.30,1024.15 L1763.86,1018.95 L1780.42,1014.02 L1796.99,1009.40 L1813.55,1005.13 L1830.11,1001.26 L1846.67,997.79 L1863.24,994.76 L1879.80,992.17 L1896.36,990.03 L1912.92,988.32 L1929.49,987.01 L1946.05,986.09 L1962.61,985.50 L1979.17,985.18 L1995.74,985.05 L2012.30,985.04 L2012.30,1015.68 L1995.74,1015.70 L1979.17,1015.82 L1962.61,1016.14 L1946.05,1016.73 L1929.49,1017.66 L1912.92,1018.96 L1896.36,1020.67 L1879.80,1022.82 L1863.24,1025.41 L1846.67,1028.44 L1830.11,1031.90 L1813.55,1035.78 L1796.99,1040.04 L1780.42,1044.66 L1763.86,1049.59 L1747.30,1054.80 L1730.74,1060.22 L1714.17,1065.82 L1697.61,1071.53 L1681.05,1077.29 L1664.49,1083.06 L1647.92,1088.77 L1631.36,1094.36 L1614.80,1099.79 L1598.24,1104.99 L1581.67,1109.93 L1565.11,1114.55 L1548.55,1118.81 L1531.99,1122.69 L1515.42,1126.15 L1498.86,1129.18 L1482.30,1131.77 L1465.74,1133.92 L1449.17,1135.63 L1432.61,1136.93 L1416.05,1137.85 L1399.49,1138.44 L1382.92,1138.77 L1366.36,1138.89 L1349.80,1138.91 Z" fill="#5594c0" fill-opacity="0.30"/>
<path d="M1349.80,1217.13 L1366.36,1217.10 L1382.92,1216.90 L1399.49,1216.40 L1416.05,1215.46 L1432.61,1214.00 L1449.17,1211.94 L1465.74,1209.23 L1482.30,1205.84 L1498.86,1201.74 L1515.42,1196.95 L1531.99,1191.47 L1548.55,1185.34 L1565.11,1178.59 L1581.67,1171.28 L1598.24,1163.48 L1614.80,1155.24 L1631.36,1146.66 L1647.92,1137.81 L1664.49,1128.78 L1681.05,1119.65 L1697.61,1110.53 L1714.17,1101.50 L1730.74,1092.65 L1747.30,1084.06 L1763.86,1075.83 L1780.42,1068.03 L1796.99,1060.72 L1813.55,1053.97 L1830.11,1047.84 L1846.67,1042.36 L1863.24,1037.57 L1879.80,1033.47 L1896.36,1030.08 L1912.92,1027.37 L1929.49,1025.31 L1946.05,1023.85 L1962.61,1022.91 L1979.17,1022.41 L1995.74,1022.21 L2012.30,1022.18 L2012.30,1076.95 L1995.74,1076.98 L1979.17,1077.17 L1962.61,1077.68 L1946.05,1078.62 L1929.49,1080.08 L1912.92,1082.14 L1896.36,1084.85 L1879.80,1088.24 L1863.24,1092.33 L1846.67,1097.13 L1830.11,1102.61 L1813.55,1108.74 L1796.99,1115.49 L1780.42,1122.79 L1763.86,1130.60 L1747.30,1138.83 L1730.74,1147.42 L1714.17,1156.27 L1697.61,1165.30 L1681.05,1174.42 L1664.49,1183.54 L1647.92,1192.58 L1631.36,1201.43 L1614.80,1210.01 L1598.24,1218.24 L1581.67,1226.05 L1565.11,1233.36 L1548.55,1240.10 L1531.99,1246.24 L1515.42,1251.72 L1498.86,1256.51 L1482.30,1260.60 L1465.74,1264.00 L1449.17,1266.71 L1432.61,1268.77 L1416.05,1270.23 L1399.49,1271.16 L1382.92,1271.67 L1366.36,1271.87 L1349.80,1271.90 Z" fill="#3e76b2" fill-opacity="0.30"/>
<path d="M1349.80,1363.81 L1366.36,1363.77 L1382.92,1363.48 L1399.49,1362.75 L1416.05,1361.41 L1432.61,1359.31 L1449.17,1356.35 L1465.74,1352.45 L1482.30,1347.57 L1498.86,1341.68 L1515.42,1334.79 L1531.99,1326.91 L1548.55,1318.09 L1565.11,1308.38 L1581.67,1297.88 L1598.24,1286.65 L1614.80,1274.81 L1631.36,1262.47 L1647.92,1249.74 L1664.49,1236.75 L1681.05,1223.63 L1697.61,1210.51 L1714.17,1197.52 L1730.74,1184.79 L1747.30,1172.45 L1763.86,1160.61 L1780.42,1149.38 L1796.99,1138.87 L1813.55,1129.17 L1830.11,1120.35 L1846.67,1112.47 L1863.24,1105.57 L1879.80,1099.69 L1896.36,1094.81 L1912.92,1090.91 L1929.49,1087.95 L1946.05,1085.85 L1962.61,1084.50 L1979.17,1083.77 L1995.74,1083.49 L2012.30,1083.45 L2012.30,1132.67 L1995.74,1132.72 L1979.17,1133.00 L1962.61,1133.73 L1946.05,1135.07 L1929.49,1137.17 L1912.92,1140.12 L1896.36,1144.01 L1879.80,1148.89 L1863.24,1154.77 L1846.67,1161.65 L1830.11,1169.52 L1813.55,1178.32 L1796.99,1188.01 L1780.42,1198.50 L1763.86,1209.71 L1747.30,1221.53 L1730.74,1233.85 L1714.17,1246.56 L1697.61,1259.53 L1681.05,1272.63 L1664.49,1285.73 L1647.92,1298.70 L1631.36,1311.41 L1614.80,1323.73 L1598.24,1335.55 L1581.67,1346.76 L1565.11,1357.25 L1548.55,1366.94 L1531.99,1375.74 L1515.42,1383.61 L1498.86,1390.50 L1482.30,1396.37 L1465.74,1401.25 L1449.17,1405.14 L1432.61,1408.09 L1416.05,1410.19 L1399.49,1411.53 L1382.92,1412.26 L1366.36,1412.54 L1349.80,1412.59 Z" fill="#415cac" fill-opacity="0.30"/>
<path d="M1349.80,1086.77 L1366.36,1086.79 L1382.92,1086.96 L1399.49,1087.40 L1416.05,1088.20 L1432.61,1089.45 L1449.17,1091.22 L1465.74,1093.54 L1482.30,1096.45 L1498.86,1099.96 L1515.42,1104.07 L1531.99,1108.77 L1548.55,1114.02 L1565.11,1119.81 L1581.67,1126.07 L1598.24,1132.77 L1614.80,1139.82 L1631.36,1147.18 L1647.92,1154.77 L1664.49,1162.52 L1681.05,1170.34 L1697.61,1178.16 L1714.17,1185.90 L1730.74,1193.49 L1747.30,1200.85 L1763.86,1207.91 L1780.42,1214.60 L1796.99,1220.86 L1813.55,1226.65 L1830.11,1231.91 L1846.67,1236.60 L1863.24,1240.72 L1879.80,1244.23 L1896.36,1247.14 L1912.92,1249.46 L1929.49,1251.22 L1946.05,1252.48 L1962.61,1253.28 L1979.17,1253.71 L1995.74,1253.88 L2012.30,1253.91 L2012.30,1268.90 L1995.74,1268.88 L1979.17,1268.71 L1962.61,1268.27 L1946.05,1267.47 L1929.49,1266.22 L1912.92,1264.45 L1896.36,1262.13 L1879.80,1259.22 L1863.24,1255.71 L1846.67,1251.60 L1830.11,1246.90 L1813.55,1241.65 L1796.99,1235.86 L1780.42,1229.60 L1763.86,1222.90 L1747.30,1215.85 L1730.74,1208.49 L1714.17,1200.90 L1697.61,1193.15 L1681.05,1185.33 L1664.49,1177.51 L1647.92,1169.77 L1631.36,1162.18 L1614.80,1154.82 L1598.24,1147.76 L1581.67,1141.07 L1565.11,1134.81 L1548.55,1129.02 L1531.99,1123.76 L1515.42,1119.07 L1498.86,1114.95 L1482.30,1111.44 L1465.74,1108.53 L1449.17,1106.21 L1432.61,1104.45 L1416.05,1103.19 L1399.49,1102.39 L1382.92,1101.96 L1366.36,1101.79 L1349.80,1101.76 Z" fill="#c87358"/>
<path d="M1349.80,1138.91 L1366.36,1138.93 L1382.92,1139.07 L1399.49,1139.42 L1416.05,1140.08 L1432.61,1141.10 L1449.17,1142.54 L1465.74,1144.44 L1482.30,1146.81 L1498.86,1149.68 L1515.42,1153.04 L1531.99,1156.87 L1548.55,1161.17 L1565.11,1165.89 L1581.67,1171.01 L1598.24,1176.47 L1614.80,1182.24 L1631.36,1188.25 L1647.92,1194.44 L1664.49,1200.77 L1681.05,1207.16 L1697.61,1213.54 L1714.17,1219.87 L1730.74,1226.06 L1747.30,1232.07 L1763.86,1237.84 L1780.42,1243.30 L1796.99,1248.42 L1813.55,1253.14 L1830.11,1257.44 L1846.67,1261.27 L1863.24,1264.63 L1879.80,1267.50 L1896.36,1269.87 L1912.92,1271.77 L1929.49,1273.21 L1946.05,1274.23 L1962.61,1274.89 L1979.17,1275.24 L1995.74,1275.38 L2012.30,1275.40 L2012.30,1347.12 L1995.74,1347.10 L1979.17,1346.96 L1962.61,1346.61 L1946.05,1345.95 L1929.49,1344.93 L1912.92,1343.49 L1896.36,1341.59 L1879.80,1339.22 L1863.24,1336.35 L1846.67,1332.99 L1830.11,1329.16 L1813.55,1324.86 L1796.99,1320.14 L1780.42,1315.02 L1763.86,1309.56 L1747.30,1303.79 L1730.74,1297.78 L1714.17,1291.59 L1697.61,1285.26 L1681.05,1278.88 L1664.49,1272.49 L1647.92,1266.16 L1631.36,1259.97 L1614.80,1253.96 L1598.24,1248.19 L1581.67,1242.73 L1565.11,1237.61 L1548.55,1232.89 L1531.99,1228.59 L1515.42,1224.76 L1498.86,1221.40 L1482.30,1218.53 L1465.74,1216.16 L1449.17,1214.26 L1432.61,1212.82 L1416.05,1211.80 L1399.49,1211.14 L1382.92,1210.79 L1366.36,1210.65 L1349.80,1210.63 Z" fill="#be543b"/>
<path d="M1349.80,1412.59 L1366.36,1412.59 L1382.92,1412.62 L1399.49,1412.71 L1416.05,1412.87 L1432.61,1413.12 L1449.17,1413.46 L1465.74,1413.92 L1482.30,1414.49 L1498.86,1415.19 L1515.42,1416.00 L1531.99,1416.92 L1548.55,1417.96 L1565.11,1419.10 L1581.67,1420.33 L1598.24,1421.65 L1614.80,1423.05 L1631.36,1424.50 L1647.92,1425.99 L1664.49,1427.52 L1681.05,1429.06 L1697.61,1430.60 L1714.17,1432.13 L1730.74,1433.62 L1747.30,1435.08 L1763.86,1436.47 L1780.42,1437.79 L1796.99,1439.02 L1813.55,1440.16 L1830.11,1441.20 L1846.67,1442.12 L1863.24,1442.93 L1879.80,1443.63 L1896.36,1444.20 L1912.92,1444.66 L1929.49,1445.01 L1946.05,1445.25 L1962.61,1445.41 L1979.17,1445.50 L1995.74,1445.53 L2012.30,1445.53 L2012.30,1503.89 L1995.74,1503.88 L1979.17,1503.85 L1962.61,1503.76 L1946.05,1503.60 L1929.49,1503.35 L1912.92,1503.00 L1896.36,1502.53 L1879.80,1501.95 L1863.24,1501.25 L1846.67,1500.42 L1830.11,1499.48 L1813.55,1498.43 L1796.99,1497.27 L1780.42,1496.01 L1763.86,1494.67 L1747.30,1493.26 L1730.74,1491.79 L1714.17,1490.27 L1697.61,1488.72 L1681.05,1487.15 L1664.49,1485.58 L1647.92,1484.03 L1631.36,1482.51 L1614.80,1481.04 L1598.24,1479.62 L1581.67,1478.28 L1565.11,1477.03 L1548.55,1475.87 L1531.99,1474.82 L1515.42,1473.88 L1498.86,1473.05 L1482.30,1472.35 L1465.74,1471.77 L1449.17,1471.30 L1432.61,1470.95 L1416.05,1470.70 L1399.49,1470.54 L1382.92,1470.45 L1366.36,1470.42 L1349.80,1470.41 Z" fill="#9c1726"/>
<path d="M1349.80,1476.91 L1366.36,1476.92 L1382.92,1476.95 L1399.49,1477.04 L1416.05,1477.20 L1432.61,1477.45 L1449.17,1477.80 L1465.74,1478.27 L1482.30,1478.85 L1498.86,1479.55 L1515.42,1480.38 L1531.99,1481.32 L1548.55,1482.37 L1565.11,1483.53 L1581.67,1484.78 L1598.24,1486.12 L1614.80,1487.54 L1631.36,1489.01 L1647.92,1490.53 L1664.49,1492.08 L1681.05,1493.65 L1697.61,1495.22 L1714.17,1496.77 L1730.74,1498.29 L1747.30,1499.76 L1763.86,1501.17 L1780.42,1502.51 L1796.99,1503.77 L1813.55,1504.93 L1830.11,1505.98 L1846.67,1506.92 L1863.24,1507.75 L1879.80,1508.45 L1896.36,1509.03 L1912.92,1509.50 L1929.49,1509.85 L1946.05,1510.10 L1962.61,1510.26 L1979.17,1510.35 L1995.74,1510.38 L2012.30,1510.39 L2012.30,1534.51 L1995.74,1534.51 L1979.17,1534.47 L1962.61,1534.39 L1946.05,1534.23 L1929.49,1533.98 L1912.92,1533.62 L1896.36,1533.16 L1879.80,1532.58 L1863.24,1531.88 L1846.67,1531.06 L1830.11,1530.12 L1813.55,1529.07 L1796.99,1527.91 L1780.42,1526.66 L1763.86,1525.33 L1747.30,1523.92 L1730.74,1522.45 L1714.17,1520.93 L1697.61,1519.39 L1681.05,1517.82 L1664.49,1516.26 L1647.92,1514.72 L1631.36,1513.20 L1614.80,1511.73 L1598.24,1510.32 L1581.67,1508.98 L1565.11,1507.73 L1548.55,1506.58 L1531.99,1505.53 L1515.42,1504.59 L1498.86,1503.77 L1482.30,1503.07 L1465.74,1502.49 L1449.17,1502.02 L1432.61,1501.67 L1416.05,1501.42 L1399.49,1501.26 L1382.92,1501.17 L1366.36,1501.14 L1349.80,1501.14 Z" fill="#7d0b25"/>
<path d="M1349.80,1501.14 L1366.36,1501.14 L1382.92,1501.21 L1399.49,1501.37 L1416.05,1501.66 L1432.61,1502.12 L1449.17,1502.77 L1465.74,1503.62 L1482.30,1504.69 L1498.86,1505.98 L1515.42,1507.49 L1531.99,1509.21 L1548.55,1511.14 L1565.11,1513.27 L1581.67,1515.57 L1598.24,1518.03 L1614.80,1520.62 L1631.36,1523.32 L1647.92,1526.11 L1664.49,1528.95 L1681.05,1531.82 L1697.61,1534.69 L1714.17,1537.54 L1730.74,1540.32 L1747.30,1543.03 L1763.86,1545.62 L1780.42,1548.08 L1796.99,1550.38 L1813.55,1552.50 L1830.11,1554.43 L1846.67,1556.15 L1863.24,1557.66 L1879.80,1558.95 L1896.36,1560.02 L1912.92,1560.87 L1929.49,1561.52 L1946.05,1561.98 L1962.61,1562.28 L1979.17,1562.44 L1995.74,1562.50 L2012.30,1562.51 L2012.30,1615.97 L1995.74,1615.96 L1979.17,1615.90 L1962.61,1615.74 L1946.05,1615.45 L1929.49,1614.99 L1912.92,1614.34 L1896.36,1613.49 L1879.80,1612.43 L1863.24,1611.15 L1846.67,1609.64 L1830.11,1607.92 L1813.55,1606.00 L1796.99,1603.88 L1780.42,1601.59 L1763.86,1599.14 L1747.30,1596.56 L1730.74,1593.87 L1714.17,1591.09 L1697.61,1588.26 L1681.05,1585.40 L1664.49,1582.54 L1647.92,1579.70 L1631.36,1576.93 L1614.80,1574.23 L1598.24,1571.65 L1581.67,1569.20 L1565.11,1566.91 L1548.55,1564.80 L1531.99,1562.87 L1515.42,1561.15 L1498.86,1559.65 L1482.30,1558.37 L1465.74,1557.30 L1449.17,1556.45 L1432.61,1555.81 L1416.05,1555.35 L1399.49,1555.05 L1382.92,1554.89 L1366.36,1554.83 L1349.80,1554.82 Z" fill="#3d4189"/>
<path d="M1349.80,1576.49 L1366.36,1576.50 L1382.92,1576.55 L1399.49,1576.67 L1416.05,1576.89 L1432.61,1577.23 L1449.17,1577.72 L1465.74,1578.36 L1482.30,1579.16 L1498.86,1580.12 L1515.42,1581.25 L1531.99,1582.54 L1548.55,1583.99 L1565.11,1585.58 L1581.67,1587.31 L1598.24,1589.15 L1614.80,1591.09 L1631.36,1593.11 L1647.92,1595.20 L1664.49,1597.33 L1681.05,1599.48 L1697.61,1601.63 L1714.17,1603.76 L1730.74,1605.85 L1747.30,1607.88 L1763.86,1609.82 L1780.42,1611.66 L1796.99,1613.38 L1813.55,1614.97 L1830.11,1616.42 L1846.67,1617.71 L1863.24,1618.84 L1879.80,1619.81 L1896.36,1620.61 L1912.92,1621.25 L1929.49,1621.73 L1946.05,1622.08 L1962.61,1622.30 L1979.17,1622.42 L1995.74,1622.47 L2012.30,1622.47 L2012.30,1664.20 L1995.74,1664.19 L1979.17,1664.15 L1962.61,1664.03 L1946.05,1663.81 L1929.49,1663.47 L1912.92,1662.99 L1896.36,1662.36 L1879.80,1661.56 L1863.24,1660.61 L1846.67,1659.49 L1830.11,1658.21 L1813.55,1656.78 L1796.99,1655.21 L1780.42,1653.50 L1763.86,1651.68 L1747.30,1649.76 L1730.74,1647.75 L1714.17,1645.69 L1697.61,1643.58 L1681.05,1641.45 L1664.49,1639.32 L1647.92,1637.21 L1631.36,1635.15 L1614.80,1633.14 L1598.24,1631.22 L1581.67,1629.40 L1565.11,1627.69 L1548.55,1626.12 L1531.99,1624.69 L1515.42,1623.41 L1498.86,1622.29 L1482.30,1621.34 L1465.74,1620.54 L1449.17,1619.91 L1432.61,1619.43 L1416.05,1619.09 L1399.49,1618.87 L1382.92,1618.75 L1366.36,1618.71 L1349.80,1618.70 Z" fill="#2f2c5e"/>
<path d="M1349.80,1561.32 L1366.36,1561.32 L1382.92,1561.30 L1399.49,1561.25 L1416.05,1561.15 L1432.61,1561.00 L1449.17,1560.78 L1465.74,1560.50 L1482.30,1560.15 L1498.86,1559.72 L1515.42,1559.22 L1531.99,1558.65 L1548.55,1558.01 L1565.11,1557.31 L1581.67,1556.55 L1598.24,1555.73 L1614.80,1554.88 L1631.36,1553.98 L1647.92,1553.06 L1664.49,1552.12 L1681.05,1551.17 L1697.61,1550.22 L1714.17,1549.28 L1730.74,1548.35 L1747.30,1547.46 L1763.86,1546.60 L1780.42,1545.79 L1796.99,1545.03 L1813.55,1544.32 L1830.11,1543.69 L1846.67,1543.11 L1863.24,1542.62 L1879.80,1542.19 L1896.36,1541.83 L1912.92,1541.55 L1929.49,1541.34 L1946.05,1541.19 L1962.61,1541.09 L1979.17,1541.04 L1995.74,1541.02 L2012.30,1541.01 L2012.30,1556.01 L1995.74,1556.01 L1979.17,1556.03 L1962.61,1556.08 L1946.05,1556.18 L1929.49,1556.34 L1912.92,1556.55 L1896.36,1556.84 L1879.80,1557.19 L1863.24,1557.62 L1846.67,1558.13 L1830.11,1558.70 L1813.55,1559.35 L1796.99,1560.06 L1780.42,1560.83 L1763.86,1561.65 L1747.30,1562.51 L1730.74,1563.41 L1714.17,1564.34 L1697.61,1565.29 L1681.05,1566.25 L1664.49,1567.21 L1647.92,1568.16 L1631.36,1569.09 L1614.80,1569.99 L1598.24,1570.85 L1581.67,1571.68 L1565.11,1572.44 L1548.55,1573.15 L1531.99,1573.80 L1515.42,1574.37 L1498.86,1574.88 L1482.30,1575.31 L1465.74,1575.66 L1449.17,1575.95 L1432.61,1576.16 L1416.05,1576.32 L1399.49,1576.42 L1382.92,1576.47 L1366.36,1576.49 L1349.80,1576.49 Z" fill="#5e0b1e"/>
</g>
<g stroke="#000" stroke-width="0.95" stroke-opacity="0.62">
<rect x="745.80" y="927.70" width="19.10" height="651.22" fill="#efefed"/>
<rect x="940.60" y="927.70" width="19.10" height="458.88" fill="#efefed"/>
<rect x="940.60" y="1393.08" width="19.10" height="4.56" fill="#dddddd"/>
<rect x="940.60" y="1404.14" width="19.10" height="163.65" fill="#ccdfec"/>
<rect x="940.60" y="1574.29" width="19.10" height="24.12" fill="#c5d6e8"/>
<rect x="1135.60" y="927.70" width="19.20" height="355.99" fill="#efefed"/>
<rect x="1135.60" y="1290.19" width="19.20" height="1.30" fill="#d3e6ee"/>
<rect x="1135.60" y="1298.00" width="19.20" height="154.52" fill="#ccdfec"/>
<rect x="1135.60" y="1459.02" width="19.20" height="125.84" fill="#c5d6e8"/>
<rect x="1135.60" y="1591.36" width="19.20" height="5.87" fill="#3d4189"/>
<rect x="1135.60" y="1603.72" width="19.20" height="8.48" fill="#2f2c5e"/>
<rect x="1330.60" y="927.70" width="19.20" height="143.44" fill="#efefed"/>
<rect x="1330.60" y="1077.64" width="19.20" height="24.12" fill="#d3e6ee"/>
<rect x="1330.60" y="1108.26" width="19.20" height="102.36" fill="#ccdfec"/>
<rect x="1330.60" y="1217.13" width="19.20" height="140.18" fill="#c5d6e8"/>
<rect x="1330.60" y="1363.81" width="19.20" height="106.60" fill="#c6cee6"/>
<rect x="1330.60" y="1476.91" width="19.20" height="77.91" fill="#3d4189"/>
<rect x="1330.60" y="1561.32" width="19.20" height="57.38" fill="#2f2c5e"/>
<rect x="2012.30" y="927.70" width="19.70" height="35.21" fill="#efefed"/>
<rect x="2012.30" y="969.41" width="19.70" height="9.13" fill="#d3e6ee"/>
<rect x="2012.30" y="985.04" width="19.70" height="30.64" fill="#ccdfec"/>
<rect x="2012.30" y="1022.18" width="19.70" height="54.77" fill="#c5d6e8"/>
<rect x="2012.30" y="1083.45" width="19.70" height="49.23" fill="#c6cee6"/>
<rect x="2012.30" y="1139.17" width="19.70" height="108.23" fill="#f2dfd8"/>
<rect x="2012.30" y="1253.91" width="19.70" height="15.00" fill="#c87358"/>
<rect x="2012.30" y="1275.40" width="19.70" height="71.72" fill="#be543b"/>
<rect x="2012.30" y="1353.62" width="19.70" height="85.41" fill="#b03526"/>
<rect x="2012.30" y="1445.53" width="19.70" height="58.35" fill="#9c1726"/>
<rect x="2012.30" y="1510.39" width="19.70" height="24.12" fill="#7d0b25"/>
<rect x="2012.30" y="1541.01" width="19.70" height="15.00" fill="#5e0b1e"/>
<rect x="2012.30" y="1562.51" width="19.70" height="53.46" fill="#3d4189"/>
<rect x="2012.30" y="1622.47" width="19.70" height="41.73" fill="#2f2c5e"/>
</g>
<text transform="translate(939.20,342.70) scale(0.760,1)" font-size="20.70" text-anchor="end" fill="#000" stroke="#000" stroke-width="0.36" word-spacing="-1.5">Naive (90.6%)</text>
<text transform="translate(939.20,658.10) scale(0.760,1)" font-size="20.70" text-anchor="end" fill="#000" stroke="#000" stroke-width="0.36" word-spacing="-1.5">Unknown (1.3%)</text>
<text transform="translate(940.20,698.70) scale(0.760,1)" font-size="20.70" text-anchor="end" fill="#000" stroke="#000" stroke-width="0.36" word-spacing="-1.5">D614G (7.5%)</text>
<text transform="translate(939.20,729.60) scale(0.760,1)" font-size="20.70" text-anchor="end" fill="#000" stroke="#000" stroke-width="0.36" word-spacing="-1.5">Beta (0.6%)</text>
<text transform="translate(1133.40,310.50) scale(0.760,1)" font-size="20.70" text-anchor="end" fill="#000" stroke="#000" stroke-width="0.36" word-spacing="-1.5">Naive (73.2%)</text>
<text transform="translate(1133.40,571.80) scale(0.760,1)" font-size="20.70" text-anchor="end" fill="#000" stroke="#000" stroke-width="0.36" word-spacing="-1.5">D614G (8.2%)</text>
<text transform="translate(1133.40,667.40) scale(0.760,1)" font-size="20.70" text-anchor="end" fill="#000" stroke="#000" stroke-width="0.36" word-spacing="-1.5">Beta (18.6%)</text>
<text transform="translate(1328.50,163.80) scale(0.760,1)" font-size="20.70" text-anchor="end" fill="#000" stroke="#000" stroke-width="0.36" word-spacing="-1.5">Naive (30.1%)</text>
<text transform="translate(1325.20,278.30) scale(0.746,1)" font-size="20.70" text-anchor="end" fill="#000" stroke="#000" stroke-width="0.36" word-spacing="-1.5">Vaccinated (5.6%)</text>
<text transform="translate(1329.00,326.10) scale(0.760,1)" font-size="20.70" text-anchor="end" fill="#000" stroke="#000" stroke-width="0.36" word-spacing="-1.5">D614G (5.6%)</text>
<text transform="translate(1329.80,396.10) scale(0.760,1)" font-size="20.70" text-anchor="end" fill="#000" stroke="#000" stroke-width="0.36" word-spacing="-1.5">Beta (14.4%)</text>
<text transform="translate(1328.50,517.10) scale(0.778,1)" font-size="20.70" text-anchor="end" fill="#000" stroke="#000" stroke-width="0.36" word-spacing="-1.5">*Delta (31.4%)</text>
<text transform="translate(1320.10,690.00) scale(0.798,1)" font-size="20.70" text-anchor="start" fill="#fff" stroke="#fff" stroke-width="0.12" word-spacing="-1.5">Hybrid immunity (8.8%)</text>
<text transform="translate(1306.60,740.40) scale(0.760,1)" font-size="20.70" text-anchor="start" fill="#fff" stroke="#fff" stroke-width="0.12" word-spacing="-1.5">Repeated infections (4.0%)</text>
<text transform="translate(2011.20,77.00) scale(0.760,1)" font-size="20.70" text-anchor="end" fill="#000" stroke="#000" stroke-width="0.36" word-spacing="-1.5">Naive (5.6%)</text>
<text transform="translate(2011.20,107.30) scale(0.746,1)" font-size="20.70" text-anchor="end" fill="#000" stroke="#000" stroke-width="0.36" word-spacing="-1.5">Vaccinated (1.9%)</text>
<text transform="translate(2011.20,127.40) scale(0.760,1)" font-size="20.70" text-anchor="end" fill="#000" stroke="#000" stroke-width="0.36" word-spacing="-1.5">D614G (1.5%)</text>
<text transform="translate(2011.20,149.00) scale(0.760,1)" font-size="20.70" text-anchor="end" fill="#000" stroke="#000" stroke-width="0.36" word-spacing="-1.5">Beta (4.0%)</text>
<text transform="translate(2011.20,217.00) scale(0.778,1)" font-size="20.70" text-anchor="end" fill="#000" stroke="#000" stroke-width="0.36" word-spacing="-1.5">*Delta (14.4%)</text>
<text transform="translate(2011.20,347.50) scale(0.760,1)" font-size="20.70" text-anchor="end" fill="#000" stroke="#000" stroke-width="0.36" word-spacing="-1.5">Omicron (24.5%)</text>
<text transform="translate(2011.20,448.70) scale(0.749,1)" font-size="20.70" text-anchor="end" fill="#000" stroke="#000" stroke-width="0.36" word-spacing="-1.5">Vaccinated-Omicron (3.8%)</text>
<text transform="translate(2011.20,482.40) scale(0.752,1)" font-size="20.70" text-anchor="end" fill="#000" stroke="#000" stroke-width="0.36" word-spacing="-1.5">D614G-Omicron (4.2%)</text>
<text transform="translate(2011.20,532.80) scale(0.751,1)" font-size="20.70" text-anchor="end" fill="#fff" stroke="#fff" stroke-width="0.12" word-spacing="-1.5">Beta-Omicron (10.5%)</text>
<text transform="translate(2011.20,636.30) scale(0.760,1)" font-size="20.70" text-anchor="end" fill="#fff" stroke="#fff" stroke-width="0.12" word-spacing="-1.5">*Delta-Omicron (16.9%)</text>
<text transform="translate(2011.20,704.60) scale(0.781,1)" font-size="20.70" text-anchor="end" fill="#fff" stroke="#fff" stroke-width="0.12" word-spacing="-1.5">Hybrid immunity-Omicron (4%)</text>
<text transform="translate(2011.20,752.10) scale(0.798,1)" font-size="20.70" text-anchor="end" fill="#fff" stroke="#fff" stroke-width="0.12" word-spacing="-1.5">Hybrid immunity (4.8%)</text>
<text transform="translate(2013.40,783.20) scale(0.760,1)" font-size="20.70" text-anchor="end" fill="#fff" stroke="#fff" stroke-width="0.12" word-spacing="-1.5">Repeated infections (3.1%)</text>
<text transform="translate(2014.10,808.10) scale(0.760,1)" font-size="20.70" text-anchor="end" fill="#000" stroke="#000" stroke-width="0.36" word-spacing="-1.5">Repeated infections-Omicron (0.8%)</text>
<text transform="translate(840.40,45.80) scale(0.745,1)" font-size="33.50" stroke="#000" stroke-width="0.8">1</text>
<text transform="translate(856.00,37.93) scale(0.790,1)" font-size="19.43" stroke="#000" stroke-width="0.5">st</text>
<text transform="translate(874.40,45.80) scale(0.745,1)" font-size="33.50" stroke="#000" stroke-width="0.8">wave</text>
<text transform="translate(1027.20,45.80) scale(0.745,1)" font-size="33.50" stroke="#000" stroke-width="0.8">2</text>
<text transform="translate(1043.00,37.93) scale(0.790,1)" font-size="19.43" stroke="#000" stroke-width="0.5">nd</text>
<text transform="translate(1068.10,45.80) scale(0.745,1)" font-size="33.50" stroke="#000" stroke-width="0.8">wave</text>
<text transform="translate(1225.20,45.80) scale(0.745,1)" font-size="33.50" stroke="#000" stroke-width="0.8">3</text>
<text transform="translate(1241.40,37.93) scale(0.790,1)" font-size="19.43" stroke="#000" stroke-width="0.5">rd</text>
<text transform="translate(1263.70,45.80) scale(0.745,1)" font-size="33.50" stroke="#000" stroke-width="0.8">wave</text>
<text transform="translate(1907.50,45.80) scale(0.745,1)" font-size="33.50" stroke="#000" stroke-width="0.8">4</text>
<text transform="translate(1923.60,37.93) scale(0.790,1)" font-size="19.43" stroke="#000" stroke-width="0.5">th</text>
<text transform="translate(1945.90,45.80) scale(0.745,1)" font-size="33.50" stroke="#000" stroke-width="0.8">wave</text>
<text transform="translate(1366.6,37.3) scale(0.945,1)" font-size="37.6">Rural</text>
<text x="741.5" y="34.8" font-size="48.5" font-weight="bold">C</text>
<circle cx="2038.6" cy="720.6" r="4.2" fill="#000"/>
<path d="M2038.6,720.6 H2047.3 V802.2 H2020.5" fill="none" stroke="#000" stroke-width="1.4"/>
<path d="M2027.3,797.2 L2020.3,802.2 L2027.3,807.2" fill="none" stroke="#000" stroke-width="1.4"/>
<text transform="translate(938.80,1179.50) scale(0.760,1)" font-size="20.70" text-anchor="end" fill="#000" stroke="#000" stroke-width="0.36" word-spacing="-1.5">Naive (70.5%)</text>
<text transform="translate(938.80,1402.30) scale(0.760,1)" font-size="20.70" text-anchor="end" fill="#000" stroke="#000" stroke-width="0.36" word-spacing="-1.5">Unknown (0.7%)</text>
<text transform="translate(938.80,1494.80) scale(0.760,1)" font-size="20.70" text-anchor="end" fill="#000" stroke="#000" stroke-width="0.36" word-spacing="-1.5">D614G (25.1%)</text>
<text transform="translate(938.80,1593.10) scale(0.760,1)" font-size="20.70" text-anchor="end" fill="#000" stroke="#000" stroke-width="0.36" word-spacing="-1.5">Beta (3.7%)</text>
<text transform="translate(1133.50,1118.10) scale(0.760,1)" font-size="20.70" text-anchor="end" fill="#000" stroke="#000" stroke-width="0.36" word-spacing="-1.5">Naive (54.6%)</text>
<text transform="translate(1133.50,1296.70) scale(0.746,1)" font-size="20.70" text-anchor="end" fill="#000" stroke="#000" stroke-width="0.36" word-spacing="-1.5">Vaccinated (0.2%)</text>
<text transform="translate(1133.50,1388.60) scale(0.760,1)" font-size="20.70" text-anchor="end" fill="#000" stroke="#000" stroke-width="0.36" word-spacing="-1.5">D614G (23.7%)</text>
<text transform="translate(1133.50,1533.40) scale(0.760,1)" font-size="20.70" text-anchor="end" fill="#000" stroke="#000" stroke-width="0.36" word-spacing="-1.5">Beta (19.4%)</text>
<text transform="translate(1133.50,1597.80) scale(0.798,1)" font-size="20.70" text-anchor="end" fill="#000" stroke="#000" stroke-width="0.36" word-spacing="-1.5">Hybrid immunity (0.9%)</text>
<text transform="translate(1133.50,1621.00) scale(0.760,1)" font-size="20.70" text-anchor="end" fill="#000" stroke="#000" stroke-width="0.36" word-spacing="-1.5">Repeated infection (1.2%)</text>
<text transform="translate(1328.50,1016.20) scale(0.760,1)" font-size="20.70" text-anchor="end" fill="#000" stroke="#000" stroke-width="0.36" word-spacing="-1.5">Naive (22.0%)</text>
<text transform="translate(1328.50,1095.80) scale(0.746,1)" font-size="20.70" text-anchor="end" fill="#000" stroke="#000" stroke-width="0.36" word-spacing="-1.5">Vaccinated (3.7%)</text>
<text transform="translate(1328.50,1167.20) scale(0.760,1)" font-size="20.70" text-anchor="end" fill="#000" stroke="#000" stroke-width="0.36" word-spacing="-1.5">D614G (15.7%)</text>
<text transform="translate(1328.50,1297.70) scale(0.760,1)" font-size="20.70" text-anchor="end" fill="#000" stroke="#000" stroke-width="0.36" word-spacing="-1.5">Beta (21.5%)</text>
<text transform="translate(1328.50,1425.50) scale(0.778,1)" font-size="20.70" text-anchor="end" fill="#000" stroke="#000" stroke-width="0.36" word-spacing="-1.5">*Delta (23.7%)</text>
<text transform="translate(1294.00,1524.30) scale(0.798,1)" font-size="20.70" text-anchor="start" fill="#fff" stroke="#fff" stroke-width="0.12" word-spacing="-1.5">Hybrid immunity (11.9%)</text>
<text transform="translate(1289.00,1602.10) scale(0.760,1)" font-size="20.70" text-anchor="start" fill="#fff" stroke="#fff" stroke-width="0.12" word-spacing="-1.5">Repeated infections (8.7%)</text>
<text transform="translate(2010.00,953.60) scale(0.760,1)" font-size="20.70" text-anchor="end" fill="#000" stroke="#000" stroke-width="0.36" word-spacing="-1.5">Naive (5.4%)</text>
<text transform="translate(2010.00,980.30) scale(0.746,1)" font-size="20.70" text-anchor="end" fill="#000" stroke="#000" stroke-width="0.36" word-spacing="-1.5">Vaccinated (1.4%)</text>
<text transform="translate(2010.00,1007.30) scale(0.760,1)" font-size="20.70" text-anchor="end" fill="#000" stroke="#000" stroke-width="0.36" word-spacing="-1.5">D614G (4.7%)</text>
<text transform="translate(2010.00,1057.00) scale(0.760,1)" font-size="20.70" text-anchor="end" fill="#000" stroke="#000" stroke-width="0.36" word-spacing="-1.5">Beta (8.4%)</text>
<text transform="translate(2010.00,1112.90) scale(0.778,1)" font-size="20.70" text-anchor="end" fill="#000" stroke="#000" stroke-width="0.36" word-spacing="-1.5">*Delta (7.5%)</text>
<text transform="translate(2010.00,1199.20) scale(0.760,1)" font-size="20.70" text-anchor="end" fill="#000" stroke="#000" stroke-width="0.36" word-spacing="-1.5">Omicron (16.6%)</text>
<text transform="translate(2010.00,1267.20) scale(0.749,1)" font-size="20.70" text-anchor="end" fill="#000" stroke="#000" stroke-width="0.36" word-spacing="-1.5">Vaccinated-Omicron (2.3%)</text>
<text transform="translate(2010.00,1315.90) scale(0.752,1)" font-size="20.70" text-anchor="end" fill="#000" stroke="#000" stroke-width="0.36" word-spacing="-1.5">D614G-Omicron (11.0%)</text>
<text transform="translate(2010.00,1403.60) scale(0.751,1)" font-size="20.70" text-anchor="end" fill="#fff" stroke="#fff" stroke-width="0.12" word-spacing="-1.5">Beta-Omicron (13.1%)</text>
<text transform="translate(2010.00,1485.50) scale(0.760,1)" font-size="20.70" text-anchor="end" fill="#fff" stroke="#fff" stroke-width="0.12" word-spacing="-1.5">*Delta-Omicron (8.9%)</text>
<text transform="translate(2010.00,1528.70) scale(0.781,1)" font-size="20.70" text-anchor="end" fill="#fff" stroke="#fff" stroke-width="0.12" word-spacing="-1.5">Hybrid immunity-Omicron (3.7%)</text>
<text transform="translate(2010.00,1556.40) scale(0.760,1)" font-size="20.70" text-anchor="end" fill="#fff" stroke="#fff" stroke-width="0.12" word-spacing="-1.5">Repeated infection-Omicron (2.3%)</text>
<text transform="translate(2010.00,1593.40) scale(0.798,1)" font-size="20.70" text-anchor="end" fill="#fff" stroke="#fff" stroke-width="0.12" word-spacing="-1.5">Hybrid immunity (8.2%)</text>
<text transform="translate(2010.00,1650.80) scale(0.760,1)" font-size="20.70" text-anchor="end" fill="#fff" stroke="#fff" stroke-width="0.12" word-spacing="-1.5">Repeated infections (6.3%)</text>
<text transform="translate(840.20,922.10) scale(0.745,1)" font-size="33.50" stroke="#000" stroke-width="0.8">1</text>
<text transform="translate(855.80,914.23) scale(0.790,1)" font-size="19.43" stroke="#000" stroke-width="0.5">st</text>
<text transform="translate(874.20,922.10) scale(0.745,1)" font-size="33.50" stroke="#000" stroke-width="0.8">wave</text>
<text transform="translate(1028.50,922.10) scale(0.745,1)" font-size="33.50" stroke="#000" stroke-width="0.8">2</text>
<text transform="translate(1044.30,914.23) scale(0.790,1)" font-size="19.43" stroke="#000" stroke-width="0.5">nd</text>
<text transform="translate(1069.40,922.10) scale(0.745,1)" font-size="33.50" stroke="#000" stroke-width="0.8">wave</text>
<text transform="translate(1226.50,922.10) scale(0.745,1)" font-size="33.50" stroke="#000" stroke-width="0.8">3</text>
<text transform="translate(1242.70,914.23) scale(0.790,1)" font-size="19.43" stroke="#000" stroke-width="0.5">rd</text>
<text transform="translate(1265.00,922.10) scale(0.745,1)" font-size="33.50" stroke="#000" stroke-width="0.8">wave</text>
<text transform="translate(1909.00,922.60) scale(0.745,1)" font-size="33.50" stroke="#000" stroke-width="0.8">4</text>
<text transform="translate(1925.10,914.73) scale(0.790,1)" font-size="19.43" stroke="#000" stroke-width="0.5">th</text>
<text transform="translate(1947.40,922.60) scale(0.745,1)" font-size="33.50" stroke="#000" stroke-width="0.8">wave</text>
<text transform="translate(1372.4,911.4) scale(0.985,1)" font-size="37.1">Urban</text>
<text x="740.3" y="909.2" font-size="47.6" font-weight="bold">D</text>
</svg>
</body></html>
